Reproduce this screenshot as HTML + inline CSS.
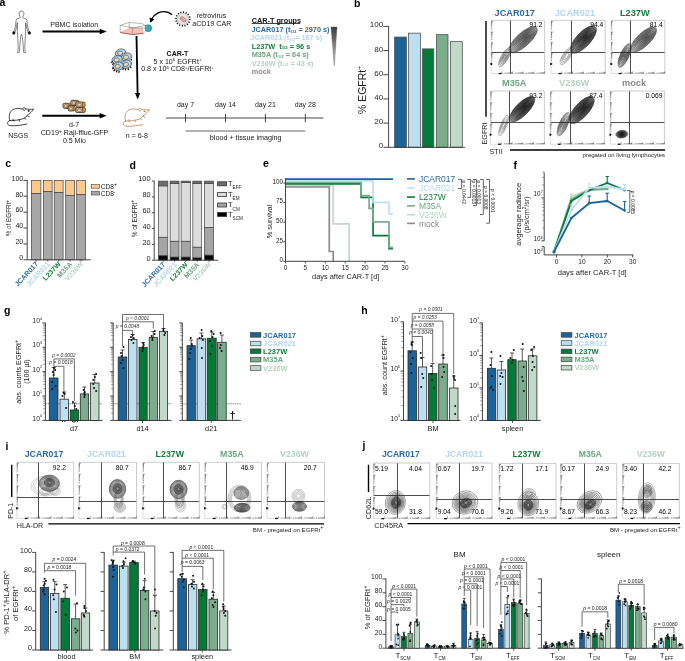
<!DOCTYPE html>
<html><head><meta charset="utf-8"><style>
html,body{margin:0;padding:0;background:#fff;}
svg{display:block;will-change:transform;font-family:"Liberation Sans", sans-serif;}
</style></head><body>
<svg width="685" height="661" viewBox="0 0 685 661">
<rect width="685" height="661" fill="#fff"/>
<text x="-0.40" y="5.90" font-size="10.5" font-weight="bold" fill="#000" text-anchor="start">a</text>
<path d="M21.50,11.00 L23.00,11.30 L23.90,12.80 L23.80,14.80 L23.10,16.40 L22.80,17.60 L24.30,18.40 L26.10,18.90 L26.90,20.20 L27.20,23.50 L27.80,27.50 L28.70,30.60 L29.80,32.00 L29.70,33.80 L28.50,33.60 L27.80,31.80 L26.80,28.50 L26.10,25.00 L25.70,22.80 L25.50,26.50 L25.60,31.50 L25.40,35.00 L25.10,41.00 L24.80,47.00 L25.00,51.00 L25.70,52.40 L24.10,52.80 L23.50,51.60 L23.30,47.00 L22.80,41.00 L22.10,35.50 L21.50,34.20 L20.90,35.50 L20.20,41.00 L19.70,47.00 L19.50,51.60 L18.90,52.80 L17.30,52.40 L18.00,51.00 L18.20,47.00 L17.90,41.00 L17.60,35.00 L17.40,31.50 L17.50,26.50 L17.30,22.80 L16.90,25.00 L16.20,28.50 L15.20,31.80 L14.50,33.60 L13.30,33.80 L13.20,32.00 L14.30,30.60 L15.20,27.50 L15.80,23.50 L16.10,20.20 L16.90,18.90 L18.70,18.40 L20.20,17.60 L19.90,16.40 L19.20,14.80 L19.10,12.80 L20.00,11.30 L21.50,11.00Z" fill="#fff" stroke="#222" stroke-width="0.55" stroke-linejoin="round"/>
<ellipse cx="29.40" cy="32.9" rx="1.45" ry="1.7" fill="#111"/>
<ellipse cx="13.80" cy="32.9" rx="1.45" ry="1.7" fill="#111"/>
<text x="74.20" y="26.50" font-size="7" font-weight="normal" fill="#1a1a1a" text-anchor="middle">PBMC isolation</text>
<line x1="42.50" y1="31.50" x2="100.70" y2="31.50" stroke="#000" stroke-width="2.0"/>
<path d="M106.7,31.5 L99.7,28.7 L99.7,34.3Z" fill="#000" stroke="none" stroke-width="0.8"/>
<path d="M120.2,25.3 L129.3,22.4 L142,23.6 L145.5,25.5 L145.5,31 L143.2,33.3 L132.6,34.5 L120.2,32.5 Z" fill="#fff" stroke="#777" stroke-width="0.5"/>
<path d="M120.2,31.8 L129.5,27.7 L143.3,28.0 L143.3,33.3 L132.6,34.5 L120.2,32.5 Z" fill="#f5c2ba" stroke="none" stroke-width="0.8"/>
<path d="M129.3,22.4 L129.3,27.7 M132.6,27.9 L132.6,34.5 M129.5,27.7 L143.3,27.9 M120.2,25.3 L132.6,27.9 L145.5,25.5" fill="none" stroke="#666" stroke-width="0.45"/>
<path d="M120.2,32.5 L132.6,34.5 L143.3,33.3" fill="none" stroke="#b5473c" stroke-width="0.8"/>
<ellipse cx="148.3" cy="28.2" rx="3.3" ry="3.5" fill="#3db6c4" stroke="#1f6f7a" stroke-width="0.6"/>
<ellipse cx="149.6" cy="28.4" rx="1.2" ry="2.4" fill="none" stroke="#1f6f7a" stroke-width="0.4"/>
<path d="M172,14.8 C166,9.5 156,11 151.5,19.5" fill="none" stroke="#000" stroke-width="1.3"/>
<path d="M150.2,22.8 L149.6,17.6 L154.4,19.6 Z" fill="#000" stroke="none" stroke-width="0.8"/>
<circle cx="182.90" cy="19.00" r="6.90" fill="none" stroke="#111" stroke-width="1.7" stroke-dasharray="1.1 1.6"/>
<circle cx="182.90" cy="19.00" r="5.60" fill="#e6e6e6" stroke="#888" stroke-width="0.4"/>
<ellipse cx="183.2" cy="19.3" rx="3.3" ry="1.9" fill="#f3d0d0" stroke="#a33" stroke-width="0.6" transform="rotate(35 183.2 19.3)"/>
<path d="M181.3,18.2 C182.2,19.8 183.4,18.6 184.6,20.6" fill="none" stroke="#a33" stroke-width="0.6"/>
<text x="211.50" y="17.80" font-size="7.1" font-weight="normal" fill="#1a1a1a" text-anchor="middle">retrovirus</text>
<text x="211.80" y="25.50" font-size="7.1" font-weight="normal" fill="#1a1a1a" text-anchor="middle">aCD19 CAR</text>
<line x1="136.50" y1="36.00" x2="137.60" y2="93.50" stroke="#000" stroke-width="1.8"/>
<path d="M137.7,99.5 L135.0,93.0 L140.2,93.0 Z" fill="#000" stroke="none" stroke-width="0.8"/>
<ellipse cx="120.6" cy="53.0" rx="5.3" ry="4.0" fill="#bcdcf2" stroke="#15232e" stroke-width="0.55" transform="rotate(-15 120.6 53.0)"/>
<ellipse cx="121.19999999999999" cy="52.6" rx="4.0" ry="2.9" fill="none" stroke="#6aa6d6" stroke-width="0.6" transform="rotate(-15 120.6 53.0)"/>
<ellipse cx="120.0" cy="53.1" rx="2.7" ry="2.0" fill="#f1d6ac" stroke="#2a2015" stroke-width="0.45" transform="rotate(-15 120.6 53.0)"/>
<ellipse cx="126.6" cy="57.0" rx="5.3" ry="4.0" fill="#bcdcf2" stroke="#15232e" stroke-width="0.55" transform="rotate(-15 126.6 57.0)"/>
<ellipse cx="127.19999999999999" cy="56.6" rx="4.0" ry="2.9" fill="none" stroke="#6aa6d6" stroke-width="0.6" transform="rotate(-15 126.6 57.0)"/>
<ellipse cx="126.0" cy="57.1" rx="2.7" ry="2.0" fill="#f1d6ac" stroke="#2a2015" stroke-width="0.45" transform="rotate(-15 126.6 57.0)"/>
<ellipse cx="117.2" cy="59.6" rx="5.3" ry="4.0" fill="#bcdcf2" stroke="#15232e" stroke-width="0.55" transform="rotate(-15 117.2 59.6)"/>
<ellipse cx="117.8" cy="59.2" rx="4.0" ry="2.9" fill="none" stroke="#6aa6d6" stroke-width="0.6" transform="rotate(-15 117.2 59.6)"/>
<ellipse cx="116.60000000000001" cy="59.7" rx="2.7" ry="2.0" fill="#f1d6ac" stroke="#2a2015" stroke-width="0.45" transform="rotate(-15 117.2 59.6)"/>
<ellipse cx="126.4" cy="64.2" rx="5.3" ry="4.0" fill="#bcdcf2" stroke="#15232e" stroke-width="0.55" transform="rotate(-15 126.4 64.2)"/>
<ellipse cx="127.0" cy="63.800000000000004" rx="4.0" ry="2.9" fill="none" stroke="#6aa6d6" stroke-width="0.6" transform="rotate(-15 126.4 64.2)"/>
<ellipse cx="125.80000000000001" cy="64.3" rx="2.7" ry="2.0" fill="#f1d6ac" stroke="#2a2015" stroke-width="0.45" transform="rotate(-15 126.4 64.2)"/>
<ellipse cx="118.2" cy="66.2" rx="5.3" ry="4.0" fill="#bcdcf2" stroke="#15232e" stroke-width="0.55" transform="rotate(-15 118.2 66.2)"/>
<ellipse cx="118.8" cy="65.8" rx="4.0" ry="2.9" fill="none" stroke="#6aa6d6" stroke-width="0.6" transform="rotate(-15 118.2 66.2)"/>
<ellipse cx="117.60000000000001" cy="66.3" rx="2.7" ry="2.0" fill="#f1d6ac" stroke="#2a2015" stroke-width="0.45" transform="rotate(-15 118.2 66.2)"/>
<line x1="112.50" y1="61.50" x2="111.24" y2="62.76" stroke="#2a0303" stroke-width="1.2"/>
<line x1="113.80" y1="63.50" x2="112.12" y2="64.62" stroke="#2a0303" stroke-width="1.2"/>
<line x1="113.50" y1="67.50" x2="112.24" y2="68.76" stroke="#2a0303" stroke-width="1.2"/>
<line x1="114.80" y1="69.60" x2="113.68" y2="71.28" stroke="#2a0303" stroke-width="1.2"/>
<line x1="117.00" y1="70.30" x2="116.44" y2="72.40" stroke="#2a0303" stroke-width="1.2"/>
<line x1="119.20" y1="70.60" x2="118.92" y2="72.84" stroke="#2a0303" stroke-width="1.2"/>
<line x1="123.20" y1="68.00" x2="122.92" y2="69.96" stroke="#2a0303" stroke-width="1.2"/>
<line x1="125.40" y1="68.60" x2="125.40" y2="70.56" stroke="#2a0303" stroke-width="1.2"/>
<line x1="128.00" y1="68.30" x2="128.56" y2="70.12" stroke="#2a0303" stroke-width="1.2"/>
<line x1="130.20" y1="66.60" x2="131.32" y2="68.00" stroke="#2a0303" stroke-width="1.2"/>
<line x1="130.80" y1="59.20" x2="131.92" y2="60.32" stroke="#2a0303" stroke-width="1.2"/>
<text x="177.50" y="56.40" font-size="7" font-weight="bold" fill="#111" text-anchor="middle">CAR-T</text>
<text x="177.50" y="64.10" font-size="7.1" font-weight="normal" fill="#1a1a1a" text-anchor="middle">5 x 10<tspan font-size="4.4" dy="-2.8">6</tspan><tspan dy="2.8"> EGFRt</tspan><tspan font-size="4.4" dy="-2.8">+</tspan></text>
<text x="177.50" y="71.40" font-size="7.1" font-weight="normal" fill="#1a1a1a" text-anchor="middle">0.8 x 10<tspan font-size="4.4" dy="-2.8">6</tspan><tspan dy="2.8"> CD8</tspan><tspan font-size="4.4" dy="-2.8">+</tspan><tspan dy="2.8">/EGFRt</tspan><tspan font-size="4.4" dy="-2.8">+</tspan></text>
<text x="251.70" y="22.50" font-size="7.3" font-weight="bold" fill="#111" text-anchor="start">CAR-T groups</text>
<line x1="251.70" y1="23.50" x2="300.20" y2="23.50" stroke="#111" stroke-width="0.8"/>
<text x="251.50" y="31.90" font-size="7.3" font-weight="bold" fill="#2a6aa3" text-anchor="start">JCAR017 (t<tspan font-size="4.3" dy="0.8">1/2</tspan><tspan dy="-0.8"> = 2970 s)</tspan></text>
<text x="250.30" y="40.20" font-size="7.3" font-weight="bold" fill="#b3d6ef" text-anchor="start">JCAR021 (t<tspan font-size="4.3" dy="0.8">1/2</tspan><tspan dy="-0.8">= 167 s)</tspan></text>
<text x="251.70" y="48.60" font-size="7.3" font-weight="bold" fill="#107d3b" text-anchor="start">L237W&#160; t<tspan font-size="4.3" dy="0.8">1/2</tspan><tspan dy="-0.8"> = 96 s</tspan></text>
<text x="251.70" y="57.20" font-size="7.3" font-weight="bold" fill="#6aa67f" text-anchor="start">M35A (t<tspan font-size="4.3" dy="0.8">1/2</tspan><tspan dy="-0.8"> = 64 s)</tspan></text>
<text x="251.70" y="65.50" font-size="7.3" font-weight="bold" fill="#b5d3c1" text-anchor="start">V236W (t<tspan font-size="4.3" dy="0.8">1/2</tspan><tspan dy="-0.8"> = 43 s)</tspan></text>
<text x="251.70" y="73.80" font-size="7.3" font-weight="bold" fill="#8a8a8a" text-anchor="start">mock</text>
<defs><linearGradient id="tri" x1="0" y1="0" x2="0" y2="1"><stop offset="0" stop-color="#3a3a3a"/><stop offset="1" stop-color="#d0d0d0"/></linearGradient></defs>
<path d="M331,27 L337,27 L334.3,65.5 Z" fill="url(#tri)" stroke="#555" stroke-width="0.4"/>
<g transform="translate(6.8,106) scale(1.0)" fill="none" stroke="#222" stroke-width="0.85" stroke-linejoin="round" stroke-linecap="round">
<path d="M3,14.5 C1.8,11 2.2,6 6,3.6 C9,2 13,2.2 15.5,3.2 C15.8,1.6 18.2,1.2 19,2.8 C21.5,3.3 24,3.6 26.8,3.2 C25.6,5.4 23.6,7 21.6,8.4 C20,10 18.6,11.4 17,12.4 C14,13.8 9,14.6 3,14.5 Z"/>
<path d="M3,14.5 C0.2,15.5 -0.4,18.8 3,19.5 C8,20.4 14,19.1 20,18.1"/>
<path d="M6.2,13.2 L7,15.2 M12,13.6 L13,15.3 M17.5,12 L19.2,13.4 M20.6,9.8 L22.4,10.6"/>
<path d="M16.2,3.6 C16.8,5 18.2,5 18.6,3.6"/>
<circle cx="21.8" cy="4.9" r="0.55" fill="#222"/>
</g>
<rect x="63.10" y="103.30" width="7.20" height="5.00" rx="1.6" fill="#d9964f" stroke="#2b1a0c" stroke-width="0.6"/>
<rect x="63.10" y="103.30" width="5.18" height="5.00" rx="1.4" fill="#cfae8a" stroke="#2b1a0c" stroke-width="0.55"/>
<ellipse cx="65.84" cy="106.00" rx="1.58" ry="1.3" fill="#ecd8bd" stroke="#3a2812" stroke-width="0.4"/>
<rect x="70.90" y="100.40" width="8.20" height="5.00" rx="1.6" fill="#d9964f" stroke="#2b1a0c" stroke-width="0.6"/>
<rect x="70.90" y="100.40" width="5.90" height="5.00" rx="1.4" fill="#cfae8a" stroke="#2b1a0c" stroke-width="0.55"/>
<ellipse cx="74.02" cy="103.10" rx="1.80" ry="1.3" fill="#ecd8bd" stroke="#3a2812" stroke-width="0.4"/>
<rect x="76.00" y="102.10" width="9.20" height="5.00" rx="1.6" fill="#d9964f" stroke="#2b1a0c" stroke-width="0.6"/>
<rect x="76.00" y="102.10" width="6.62" height="5.00" rx="1.4" fill="#cfae8a" stroke="#2b1a0c" stroke-width="0.55"/>
<ellipse cx="79.50" cy="104.80" rx="2.02" ry="1.3" fill="#ecd8bd" stroke="#3a2812" stroke-width="0.4"/>
<rect x="68.30" y="105.90" width="7.00" height="5.00" rx="1.6" fill="#d9964f" stroke="#2b1a0c" stroke-width="0.6"/>
<rect x="68.30" y="105.90" width="5.04" height="5.00" rx="1.4" fill="#cfae8a" stroke="#2b1a0c" stroke-width="0.55"/>
<ellipse cx="70.96" cy="108.60" rx="1.54" ry="1.3" fill="#ecd8bd" stroke="#3a2812" stroke-width="0.4"/>
<rect x="75.80" y="107.50" width="9.60" height="5.00" rx="1.6" fill="#d9964f" stroke="#2b1a0c" stroke-width="0.6"/>
<rect x="75.80" y="107.50" width="6.91" height="5.00" rx="1.4" fill="#cfae8a" stroke="#2b1a0c" stroke-width="0.55"/>
<ellipse cx="79.45" cy="110.20" rx="2.11" ry="1.3" fill="#ecd8bd" stroke="#3a2812" stroke-width="0.4"/>
<line x1="42.20" y1="115.80" x2="100.70" y2="115.80" stroke="#000" stroke-width="2.0"/>
<path d="M106.7,115.8 L99.7,113.0 L99.7,118.6Z" fill="#000" stroke="none" stroke-width="0.8"/>
<text x="74.00" y="127.30" font-size="7" font-weight="normal" fill="#1a1a1a" text-anchor="middle">d-7</text>
<text x="74.50" y="135.40" font-size="7.1" font-weight="normal" fill="#1a1a1a" text-anchor="middle">CD19<tspan font-size="5.2" dy="-2.6">+</tspan><tspan dy="2.6"> Raji-ffluc-GFP</tspan></text>
<text x="74.40" y="142.90" font-size="7" font-weight="normal" fill="#1a1a1a" text-anchor="middle">0.5 Mio</text>
<text x="18.20" y="138.40" font-size="7" font-weight="normal" fill="#1a1a1a" text-anchor="middle">NSGS</text>
<g transform="translate(122.6,106.5) scale(1.0)" fill="none" stroke="#b8885a" stroke-width="0.85" stroke-linejoin="round" stroke-linecap="round">
<path d="M3,14.5 C1.8,11 2.2,6 6,3.6 C9,2 13,2.2 15.5,3.2 C15.8,1.6 18.2,1.2 19,2.8 C21.5,3.3 24,3.6 26.8,3.2 C25.6,5.4 23.6,7 21.6,8.4 C20,10 18.6,11.4 17,12.4 C14,13.8 9,14.6 3,14.5 Z"/>
<path d="M3,14.5 C0.2,15.5 -0.4,18.8 3,19.5 C8,20.4 14,19.1 20,18.1"/>
<path d="M6.2,13.2 L7,15.2 M12,13.6 L13,15.3 M17.5,12 L19.2,13.4 M20.6,9.8 L22.4,10.6"/>
<path d="M16.2,3.6 C16.8,5 18.2,5 18.6,3.6"/>
<circle cx="21.8" cy="4.9" r="0.55" fill="#b8885a"/>
</g>
<text x="136.80" y="138.40" font-size="7" font-weight="normal" fill="#1a1a1a" text-anchor="middle">n = 6-8</text>
<line x1="166.00" y1="118.00" x2="323.40" y2="118.00" stroke="#333" stroke-width="0.9"/>
<line x1="185.50" y1="113.90" x2="185.50" y2="122.20" stroke="#333" stroke-width="0.9"/>
<text x="185.50" y="107.00" font-size="7" font-weight="normal" fill="#1a1a1a" text-anchor="middle">day 7</text>
<line x1="225.50" y1="113.90" x2="225.50" y2="122.20" stroke="#333" stroke-width="0.9"/>
<text x="225.50" y="107.00" font-size="7" font-weight="normal" fill="#1a1a1a" text-anchor="middle">day 14</text>
<line x1="265.40" y1="113.90" x2="265.40" y2="122.20" stroke="#333" stroke-width="0.9"/>
<text x="265.40" y="107.00" font-size="7" font-weight="normal" fill="#1a1a1a" text-anchor="middle">day 21</text>
<line x1="305.30" y1="113.90" x2="305.30" y2="122.20" stroke="#333" stroke-width="0.9"/>
<text x="305.30" y="107.00" font-size="7" font-weight="normal" fill="#1a1a1a" text-anchor="middle">day 28</text>
<line x1="185.50" y1="131.00" x2="305.30" y2="131.00" stroke="#555" stroke-width="0.9"/>
<text x="245.70" y="140.40" font-size="7.2" font-weight="normal" fill="#1a1a1a" text-anchor="middle">blood + tissue imaging</text>
<text x="354.00" y="7.00" font-size="10.5" font-weight="bold" fill="#000" text-anchor="start">b</text>
<text x="365.50" y="90.00" font-size="10.5" font-weight="normal" fill="#1a1a1a" text-anchor="middle" transform="rotate(-90 365.5 90)">% EGFRt<tspan font-size="6.5" dy="-4">+</tspan></text>
<line x1="383.40" y1="147.30" x2="388.60" y2="147.30" stroke="#333" stroke-width="0.9"/>
<text x="383.10" y="148.30" font-size="8.0" font-weight="normal" fill="#1e1e1e" text-anchor="end">0</text>
<line x1="383.40" y1="123.12" x2="388.60" y2="123.12" stroke="#333" stroke-width="0.9"/>
<text x="383.10" y="124.12" font-size="8.0" font-weight="normal" fill="#1e1e1e" text-anchor="end">20</text>
<line x1="383.40" y1="98.94" x2="388.60" y2="98.94" stroke="#333" stroke-width="0.9"/>
<text x="383.10" y="99.94" font-size="8.0" font-weight="normal" fill="#1e1e1e" text-anchor="end">40</text>
<line x1="383.40" y1="74.76" x2="388.60" y2="74.76" stroke="#333" stroke-width="0.9"/>
<text x="383.10" y="75.76" font-size="8.0" font-weight="normal" fill="#1e1e1e" text-anchor="end">60</text>
<line x1="383.40" y1="50.58" x2="388.60" y2="50.58" stroke="#333" stroke-width="0.9"/>
<text x="383.10" y="51.58" font-size="8.0" font-weight="normal" fill="#1e1e1e" text-anchor="end">80</text>
<line x1="383.40" y1="26.40" x2="388.60" y2="26.40" stroke="#333" stroke-width="0.9"/>
<text x="383.10" y="27.40" font-size="8.0" font-weight="normal" fill="#1e1e1e" text-anchor="end">100</text>
<rect x="394.60" y="37.04" width="11.80" height="110.26" fill="#1c6399" stroke="#555" stroke-width="0.8"/>
<rect x="408.40" y="33.17" width="12.00" height="114.13" fill="#bddff2" stroke="#555" stroke-width="0.8"/>
<rect x="422.30" y="48.89" width="11.50" height="98.41" fill="#037a37" stroke="#555" stroke-width="0.8"/>
<rect x="436.50" y="34.62" width="11.50" height="112.68" fill="#79ad8b" stroke="#555" stroke-width="0.8"/>
<rect x="450.50" y="41.63" width="11.80" height="105.67" fill="#c0d9c9" stroke="#555" stroke-width="0.8"/>
<line x1="388.60" y1="25.90" x2="388.60" y2="147.30" stroke="#333" stroke-width="0.9"/>
<line x1="388.60" y1="147.30" x2="465.00" y2="147.30" stroke="#333" stroke-width="0.9"/>
<text x="514.70" y="15.80" font-size="9.2" font-weight="bold" fill="#2a6aa3" text-anchor="middle">JCAR017</text>
<rect x="491.20" y="20.40" width="53.40" height="53.10" fill="#fff" stroke="none" stroke-width="0.7"/>
<text x="574.90" y="15.80" font-size="9.2" font-weight="bold" fill="#b3d6ef" text-anchor="middle">JCAR021</text>
<rect x="551.00" y="20.40" width="54.20" height="53.10" fill="#fff" stroke="none" stroke-width="0.7"/>
<text x="634.75" y="15.80" font-size="9.2" font-weight="bold" fill="#107d3b" text-anchor="middle">L237W</text>
<rect x="611.10" y="20.40" width="53.70" height="53.10" fill="#fff" stroke="none" stroke-width="0.7"/>
<text x="514.25" y="85.60" font-size="9.2" font-weight="bold" fill="#6aa67f" text-anchor="middle">M35A</text>
<rect x="490.50" y="91.00" width="53.90" height="53.20" fill="#fff" stroke="none" stroke-width="0.7"/>
<text x="574.15" y="85.60" font-size="9.2" font-weight="bold" fill="#b5d3c1" text-anchor="middle">V236W</text>
<rect x="550.30" y="91.00" width="54.10" height="53.20" fill="#fff" stroke="none" stroke-width="0.7"/>
<text x="634.10" y="85.60" font-size="9.2" font-weight="bold" fill="#8a8a8a" text-anchor="middle">mock</text>
<rect x="610.20" y="91.00" width="54.20" height="53.20" fill="#fff" stroke="none" stroke-width="0.7"/>
<ellipse cx="504.80" cy="57.10" rx="11.00" ry="3.60" transform="rotate(-60 504.80 57.10)" fill="#000" fill-opacity="0.03" stroke="#444" stroke-width="0.45" stroke-opacity="0.85"/>
<ellipse cx="504.80" cy="57.10" rx="9.24" ry="3.02" transform="rotate(-60 504.80 57.10)" fill="#000" fill-opacity="0.03" stroke="#444" stroke-width="0.45" stroke-opacity="0.85"/>
<ellipse cx="504.80" cy="57.10" rx="7.48" ry="2.45" transform="rotate(-60 504.80 57.10)" fill="#000" fill-opacity="0.03" stroke="#444" stroke-width="0.45" stroke-opacity="0.85"/>
<ellipse cx="504.80" cy="57.10" rx="5.72" ry="1.87" transform="rotate(-60 504.80 57.10)" fill="#000" fill-opacity="0.03" stroke="#444" stroke-width="0.45" stroke-opacity="0.85"/>
<ellipse cx="504.80" cy="57.10" rx="3.96" ry="1.30" transform="rotate(-60 504.80 57.10)" fill="#000" fill-opacity="0.03" stroke="#444" stroke-width="0.45" stroke-opacity="0.85"/>
<ellipse cx="504.80" cy="57.10" rx="2.20" ry="0.72" transform="rotate(-60 504.80 57.10)" fill="#000" fill-opacity="0.03" stroke="#444" stroke-width="0.45" stroke-opacity="0.85"/>
<ellipse cx="523.10" cy="39.70" rx="18.00" ry="6.80" transform="rotate(-42 523.10 39.70)" fill="#000" fill-opacity="0.05" stroke="#222" stroke-width="0.45" stroke-opacity="0.85"/>
<ellipse cx="523.29" cy="39.53" rx="17.24" ry="6.51" transform="rotate(-42 523.29 39.53)" fill="#000" fill-opacity="0.05" stroke="#222" stroke-width="0.45" stroke-opacity="0.85"/>
<ellipse cx="523.48" cy="39.36" rx="16.25" ry="6.14" transform="rotate(-42 523.48 39.36)" fill="#000" fill-opacity="0.05" stroke="#222" stroke-width="0.45" stroke-opacity="0.85"/>
<ellipse cx="523.68" cy="39.19" rx="15.15" ry="5.72" transform="rotate(-42 523.68 39.19)" fill="#000" fill-opacity="0.05" stroke="#222" stroke-width="0.45" stroke-opacity="0.85"/>
<ellipse cx="523.87" cy="39.02" rx="13.97" ry="5.28" transform="rotate(-42 523.87 39.02)" fill="#000" fill-opacity="0.05" stroke="#222" stroke-width="0.45" stroke-opacity="0.85"/>
<ellipse cx="524.06" cy="38.85" rx="12.74" ry="4.81" transform="rotate(-42 524.06 38.85)" fill="#000" fill-opacity="0.05" stroke="#222" stroke-width="0.45" stroke-opacity="0.85"/>
<ellipse cx="524.25" cy="38.68" rx="11.45" ry="4.33" transform="rotate(-42 524.25 38.68)" fill="#000" fill-opacity="0.05" stroke="#222" stroke-width="0.45" stroke-opacity="0.85"/>
<ellipse cx="524.45" cy="38.52" rx="10.12" ry="3.82" transform="rotate(-42 524.45 38.52)" fill="#000" fill-opacity="0.05" stroke="#222" stroke-width="0.45" stroke-opacity="0.85"/>
<ellipse cx="524.64" cy="38.35" rx="8.75" ry="3.31" transform="rotate(-42 524.64 38.35)" fill="#000" fill-opacity="0.05" stroke="#222" stroke-width="0.45" stroke-opacity="0.85"/>
<ellipse cx="524.83" cy="38.18" rx="7.35" ry="2.78" transform="rotate(-42 524.83 38.18)" fill="#000" fill-opacity="0.05" stroke="#222" stroke-width="0.45" stroke-opacity="0.85"/>
<ellipse cx="525.02" cy="38.01" rx="5.91" ry="2.23" transform="rotate(-42 525.02 38.01)" fill="#000" fill-opacity="0.05" stroke="#222" stroke-width="0.45" stroke-opacity="0.85"/>
<ellipse cx="525.22" cy="37.84" rx="4.45" ry="1.68" transform="rotate(-42 525.22 37.84)" fill="#000" fill-opacity="0.05" stroke="#222" stroke-width="0.45" stroke-opacity="0.85"/>
<ellipse cx="525.41" cy="37.67" rx="2.96" ry="1.12" transform="rotate(-42 525.41 37.67)" fill="#000" fill-opacity="0.05" stroke="#222" stroke-width="0.45" stroke-opacity="0.85"/>
<ellipse cx="525.60" cy="37.50" rx="1.44" ry="0.54" transform="rotate(-42 525.60 37.50)" fill="#000" fill-opacity="0.05" stroke="#222" stroke-width="0.45" stroke-opacity="0.85"/>
<ellipse cx="566.70" cy="55.80" rx="10.50" ry="3.80" transform="rotate(-56 566.70 55.80)" fill="none" stroke="#555" stroke-width="0.42" stroke-opacity="0.85"/>
<ellipse cx="566.70" cy="55.80" rx="8.66" ry="3.13" transform="rotate(-56 566.70 55.80)" fill="none" stroke="#555" stroke-width="0.42" stroke-opacity="0.85"/>
<ellipse cx="566.70" cy="55.80" rx="6.83" ry="2.47" transform="rotate(-56 566.70 55.80)" fill="none" stroke="#555" stroke-width="0.42" stroke-opacity="0.85"/>
<ellipse cx="566.70" cy="55.80" rx="4.99" ry="1.81" transform="rotate(-56 566.70 55.80)" fill="none" stroke="#555" stroke-width="0.42" stroke-opacity="0.85"/>
<ellipse cx="566.70" cy="55.80" rx="3.15" ry="1.14" transform="rotate(-56 566.70 55.80)" fill="none" stroke="#555" stroke-width="0.42" stroke-opacity="0.85"/>
<ellipse cx="583.40" cy="39.50" rx="17.50" ry="7.20" transform="rotate(-47 583.40 39.50)" fill="#000" fill-opacity="0.08" stroke="#111" stroke-width="0.5" stroke-opacity="0.9"/>
<ellipse cx="583.54" cy="39.36" rx="16.82" ry="6.92" transform="rotate(-47 583.54 39.36)" fill="#000" fill-opacity="0.08" stroke="#111" stroke-width="0.5" stroke-opacity="0.9"/>
<ellipse cx="583.69" cy="39.21" rx="15.94" ry="6.56" transform="rotate(-47 583.69 39.21)" fill="#000" fill-opacity="0.08" stroke="#111" stroke-width="0.5" stroke-opacity="0.9"/>
<ellipse cx="583.83" cy="39.07" rx="14.96" ry="6.16" transform="rotate(-47 583.83 39.07)" fill="#000" fill-opacity="0.08" stroke="#111" stroke-width="0.5" stroke-opacity="0.9"/>
<ellipse cx="583.97" cy="38.93" rx="13.92" ry="5.73" transform="rotate(-47 583.97 38.93)" fill="#000" fill-opacity="0.08" stroke="#111" stroke-width="0.5" stroke-opacity="0.9"/>
<ellipse cx="584.11" cy="38.79" rx="12.82" ry="5.27" transform="rotate(-47 584.11 38.79)" fill="#000" fill-opacity="0.08" stroke="#111" stroke-width="0.5" stroke-opacity="0.9"/>
<ellipse cx="584.26" cy="38.64" rx="11.68" ry="4.80" transform="rotate(-47 584.26 38.64)" fill="#000" fill-opacity="0.08" stroke="#111" stroke-width="0.5" stroke-opacity="0.9"/>
<ellipse cx="584.40" cy="38.50" rx="10.49" ry="4.32" transform="rotate(-47 584.40 38.50)" fill="#000" fill-opacity="0.08" stroke="#111" stroke-width="0.5" stroke-opacity="0.9"/>
<ellipse cx="584.54" cy="38.36" rx="9.27" ry="3.82" transform="rotate(-47 584.54 38.36)" fill="#000" fill-opacity="0.08" stroke="#111" stroke-width="0.5" stroke-opacity="0.9"/>
<ellipse cx="584.69" cy="38.21" rx="8.03" ry="3.30" transform="rotate(-47 584.69 38.21)" fill="#000" fill-opacity="0.08" stroke="#111" stroke-width="0.5" stroke-opacity="0.9"/>
<ellipse cx="584.83" cy="38.07" rx="6.75" ry="2.78" transform="rotate(-47 584.83 38.07)" fill="#000" fill-opacity="0.08" stroke="#111" stroke-width="0.5" stroke-opacity="0.9"/>
<ellipse cx="584.97" cy="37.93" rx="5.45" ry="2.24" transform="rotate(-47 584.97 37.93)" fill="#000" fill-opacity="0.08" stroke="#111" stroke-width="0.5" stroke-opacity="0.9"/>
<ellipse cx="585.11" cy="37.79" rx="4.12" ry="1.69" transform="rotate(-47 585.11 37.79)" fill="#000" fill-opacity="0.08" stroke="#111" stroke-width="0.5" stroke-opacity="0.9"/>
<ellipse cx="585.26" cy="37.64" rx="2.77" ry="1.14" transform="rotate(-47 585.26 37.64)" fill="#000" fill-opacity="0.08" stroke="#111" stroke-width="0.5" stroke-opacity="0.9"/>
<ellipse cx="585.40" cy="37.50" rx="1.40" ry="0.58" transform="rotate(-47 585.40 37.50)" fill="#000" fill-opacity="0.08" stroke="#111" stroke-width="0.5" stroke-opacity="0.9"/>
<ellipse cx="624.60" cy="55.50" rx="13.00" ry="4.40" transform="rotate(-66 624.60 55.50)" fill="#000" fill-opacity="0.05" stroke="#222" stroke-width="0.45" stroke-opacity="0.85"/>
<ellipse cx="624.60" cy="55.50" rx="12.04" ry="4.07" transform="rotate(-66 624.60 55.50)" fill="#000" fill-opacity="0.05" stroke="#222" stroke-width="0.45" stroke-opacity="0.85"/>
<ellipse cx="624.60" cy="55.50" rx="10.78" ry="3.65" transform="rotate(-66 624.60 55.50)" fill="#000" fill-opacity="0.05" stroke="#222" stroke-width="0.45" stroke-opacity="0.85"/>
<ellipse cx="624.60" cy="55.50" rx="9.39" ry="3.18" transform="rotate(-66 624.60 55.50)" fill="#000" fill-opacity="0.05" stroke="#222" stroke-width="0.45" stroke-opacity="0.85"/>
<ellipse cx="624.60" cy="55.50" rx="7.91" ry="2.68" transform="rotate(-66 624.60 55.50)" fill="#000" fill-opacity="0.05" stroke="#222" stroke-width="0.45" stroke-opacity="0.85"/>
<ellipse cx="624.60" cy="55.50" rx="6.34" ry="2.15" transform="rotate(-66 624.60 55.50)" fill="#000" fill-opacity="0.05" stroke="#222" stroke-width="0.45" stroke-opacity="0.85"/>
<ellipse cx="624.60" cy="55.50" rx="4.72" ry="1.60" transform="rotate(-66 624.60 55.50)" fill="#000" fill-opacity="0.05" stroke="#222" stroke-width="0.45" stroke-opacity="0.85"/>
<ellipse cx="624.60" cy="55.50" rx="3.03" ry="1.03" transform="rotate(-66 624.60 55.50)" fill="#000" fill-opacity="0.05" stroke="#222" stroke-width="0.45" stroke-opacity="0.85"/>
<ellipse cx="624.60" cy="55.50" rx="1.30" ry="0.44" transform="rotate(-66 624.60 55.50)" fill="#000" fill-opacity="0.05" stroke="#222" stroke-width="0.45" stroke-opacity="0.85"/>
<ellipse cx="643.50" cy="39.60" rx="17.00" ry="6.60" transform="rotate(-44 643.50 39.60)" fill="#000" fill-opacity="0.05" stroke="#222" stroke-width="0.45" stroke-opacity="0.85"/>
<ellipse cx="643.69" cy="39.45" rx="16.28" ry="6.32" transform="rotate(-44 643.69 39.45)" fill="#000" fill-opacity="0.05" stroke="#222" stroke-width="0.45" stroke-opacity="0.85"/>
<ellipse cx="643.88" cy="39.29" rx="15.35" ry="5.96" transform="rotate(-44 643.88 39.29)" fill="#000" fill-opacity="0.05" stroke="#222" stroke-width="0.45" stroke-opacity="0.85"/>
<ellipse cx="644.08" cy="39.14" rx="14.31" ry="5.55" transform="rotate(-44 644.08 39.14)" fill="#000" fill-opacity="0.05" stroke="#222" stroke-width="0.45" stroke-opacity="0.85"/>
<ellipse cx="644.27" cy="38.98" rx="13.20" ry="5.12" transform="rotate(-44 644.27 38.98)" fill="#000" fill-opacity="0.05" stroke="#222" stroke-width="0.45" stroke-opacity="0.85"/>
<ellipse cx="644.46" cy="38.83" rx="12.03" ry="4.67" transform="rotate(-44 644.46 38.83)" fill="#000" fill-opacity="0.05" stroke="#222" stroke-width="0.45" stroke-opacity="0.85"/>
<ellipse cx="644.65" cy="38.68" rx="10.82" ry="4.20" transform="rotate(-44 644.65 38.68)" fill="#000" fill-opacity="0.05" stroke="#222" stroke-width="0.45" stroke-opacity="0.85"/>
<ellipse cx="644.85" cy="38.52" rx="9.56" ry="3.71" transform="rotate(-44 644.85 38.52)" fill="#000" fill-opacity="0.05" stroke="#222" stroke-width="0.45" stroke-opacity="0.85"/>
<ellipse cx="645.04" cy="38.37" rx="8.27" ry="3.21" transform="rotate(-44 645.04 38.37)" fill="#000" fill-opacity="0.05" stroke="#222" stroke-width="0.45" stroke-opacity="0.85"/>
<ellipse cx="645.23" cy="38.22" rx="6.94" ry="2.69" transform="rotate(-44 645.23 38.22)" fill="#000" fill-opacity="0.05" stroke="#222" stroke-width="0.45" stroke-opacity="0.85"/>
<ellipse cx="645.42" cy="38.06" rx="5.58" ry="2.17" transform="rotate(-44 645.42 38.06)" fill="#000" fill-opacity="0.05" stroke="#222" stroke-width="0.45" stroke-opacity="0.85"/>
<ellipse cx="645.62" cy="37.91" rx="4.20" ry="1.63" transform="rotate(-44 645.62 37.91)" fill="#000" fill-opacity="0.05" stroke="#222" stroke-width="0.45" stroke-opacity="0.85"/>
<ellipse cx="645.81" cy="37.75" rx="2.79" ry="1.08" transform="rotate(-44 645.81 37.75)" fill="#000" fill-opacity="0.05" stroke="#222" stroke-width="0.45" stroke-opacity="0.85"/>
<ellipse cx="646.00" cy="37.60" rx="1.36" ry="0.53" transform="rotate(-44 646.00 37.60)" fill="#000" fill-opacity="0.05" stroke="#222" stroke-width="0.45" stroke-opacity="0.85"/>
<ellipse cx="503.60" cy="125.50" rx="11.00" ry="3.00" transform="rotate(-68 503.60 125.50)" fill="none" stroke="#555" stroke-width="0.42" stroke-opacity="0.85"/>
<ellipse cx="503.60" cy="125.50" rx="9.07" ry="2.47" transform="rotate(-68 503.60 125.50)" fill="none" stroke="#555" stroke-width="0.42" stroke-opacity="0.85"/>
<ellipse cx="503.60" cy="125.50" rx="7.15" ry="1.95" transform="rotate(-68 503.60 125.50)" fill="none" stroke="#555" stroke-width="0.42" stroke-opacity="0.85"/>
<ellipse cx="503.60" cy="125.50" rx="5.23" ry="1.43" transform="rotate(-68 503.60 125.50)" fill="none" stroke="#555" stroke-width="0.42" stroke-opacity="0.85"/>
<ellipse cx="503.60" cy="125.50" rx="3.30" ry="0.90" transform="rotate(-68 503.60 125.50)" fill="none" stroke="#555" stroke-width="0.42" stroke-opacity="0.85"/>
<ellipse cx="522.00" cy="109.20" rx="16.80" ry="6.40" transform="rotate(-45 522.00 109.20)" fill="#000" fill-opacity="0.09" stroke="#111" stroke-width="0.5" stroke-opacity="0.9"/>
<ellipse cx="522.18" cy="109.02" rx="16.15" ry="6.15" transform="rotate(-45 522.18 109.02)" fill="#000" fill-opacity="0.09" stroke="#111" stroke-width="0.5" stroke-opacity="0.9"/>
<ellipse cx="522.36" cy="108.84" rx="15.30" ry="5.83" transform="rotate(-45 522.36 108.84)" fill="#000" fill-opacity="0.09" stroke="#111" stroke-width="0.5" stroke-opacity="0.9"/>
<ellipse cx="522.54" cy="108.66" rx="14.37" ry="5.47" transform="rotate(-45 522.54 108.66)" fill="#000" fill-opacity="0.09" stroke="#111" stroke-width="0.5" stroke-opacity="0.9"/>
<ellipse cx="522.71" cy="108.49" rx="13.36" ry="5.09" transform="rotate(-45 522.71 108.49)" fill="#000" fill-opacity="0.09" stroke="#111" stroke-width="0.5" stroke-opacity="0.9"/>
<ellipse cx="522.89" cy="108.31" rx="12.31" ry="4.69" transform="rotate(-45 522.89 108.31)" fill="#000" fill-opacity="0.09" stroke="#111" stroke-width="0.5" stroke-opacity="0.9"/>
<ellipse cx="523.07" cy="108.13" rx="11.21" ry="4.27" transform="rotate(-45 523.07 108.13)" fill="#000" fill-opacity="0.09" stroke="#111" stroke-width="0.5" stroke-opacity="0.9"/>
<ellipse cx="523.25" cy="107.95" rx="10.07" ry="3.84" transform="rotate(-45 523.25 107.95)" fill="#000" fill-opacity="0.09" stroke="#111" stroke-width="0.5" stroke-opacity="0.9"/>
<ellipse cx="523.43" cy="107.77" rx="8.90" ry="3.39" transform="rotate(-45 523.43 107.77)" fill="#000" fill-opacity="0.09" stroke="#111" stroke-width="0.5" stroke-opacity="0.9"/>
<ellipse cx="523.61" cy="107.59" rx="7.70" ry="2.93" transform="rotate(-45 523.61 107.59)" fill="#000" fill-opacity="0.09" stroke="#111" stroke-width="0.5" stroke-opacity="0.9"/>
<ellipse cx="523.79" cy="107.41" rx="6.48" ry="2.47" transform="rotate(-45 523.79 107.41)" fill="#000" fill-opacity="0.09" stroke="#111" stroke-width="0.5" stroke-opacity="0.9"/>
<ellipse cx="523.96" cy="107.24" rx="5.23" ry="1.99" transform="rotate(-45 523.96 107.24)" fill="#000" fill-opacity="0.09" stroke="#111" stroke-width="0.5" stroke-opacity="0.9"/>
<ellipse cx="524.14" cy="107.06" rx="3.95" ry="1.51" transform="rotate(-45 524.14 107.06)" fill="#000" fill-opacity="0.09" stroke="#111" stroke-width="0.5" stroke-opacity="0.9"/>
<ellipse cx="524.32" cy="106.88" rx="2.66" ry="1.01" transform="rotate(-45 524.32 106.88)" fill="#000" fill-opacity="0.09" stroke="#111" stroke-width="0.5" stroke-opacity="0.9"/>
<ellipse cx="524.50" cy="106.70" rx="1.34" ry="0.51" transform="rotate(-45 524.50 106.70)" fill="#000" fill-opacity="0.09" stroke="#111" stroke-width="0.5" stroke-opacity="0.9"/>
<ellipse cx="563.50" cy="124.10" rx="12.80" ry="4.20" transform="rotate(-66 563.50 124.10)" fill="#000" fill-opacity="0.03" stroke="#333" stroke-width="0.45" stroke-opacity="0.85"/>
<ellipse cx="563.50" cy="124.10" rx="11.75" ry="3.85" transform="rotate(-66 563.50 124.10)" fill="#000" fill-opacity="0.03" stroke="#333" stroke-width="0.45" stroke-opacity="0.85"/>
<ellipse cx="563.50" cy="124.10" rx="10.38" ry="3.41" transform="rotate(-66 563.50 124.10)" fill="#000" fill-opacity="0.03" stroke="#333" stroke-width="0.45" stroke-opacity="0.85"/>
<ellipse cx="563.50" cy="124.10" rx="8.86" ry="2.91" transform="rotate(-66 563.50 124.10)" fill="#000" fill-opacity="0.03" stroke="#333" stroke-width="0.45" stroke-opacity="0.85"/>
<ellipse cx="563.50" cy="124.10" rx="7.24" ry="2.38" transform="rotate(-66 563.50 124.10)" fill="#000" fill-opacity="0.03" stroke="#333" stroke-width="0.45" stroke-opacity="0.85"/>
<ellipse cx="563.50" cy="124.10" rx="5.53" ry="1.82" transform="rotate(-66 563.50 124.10)" fill="#000" fill-opacity="0.03" stroke="#333" stroke-width="0.45" stroke-opacity="0.85"/>
<ellipse cx="563.50" cy="124.10" rx="3.76" ry="1.23" transform="rotate(-66 563.50 124.10)" fill="#000" fill-opacity="0.03" stroke="#333" stroke-width="0.45" stroke-opacity="0.85"/>
<ellipse cx="563.50" cy="124.10" rx="1.92" ry="0.63" transform="rotate(-66 563.50 124.10)" fill="#000" fill-opacity="0.03" stroke="#333" stroke-width="0.45" stroke-opacity="0.85"/>
<ellipse cx="581.60" cy="110.00" rx="17.20" ry="7.00" transform="rotate(-48 581.60 110.00)" fill="#000" fill-opacity="0.09" stroke="#111" stroke-width="0.5" stroke-opacity="0.9"/>
<ellipse cx="581.74" cy="109.86" rx="16.53" ry="6.73" transform="rotate(-48 581.74 109.86)" fill="#000" fill-opacity="0.09" stroke="#111" stroke-width="0.5" stroke-opacity="0.9"/>
<ellipse cx="581.89" cy="109.71" rx="15.67" ry="6.38" transform="rotate(-48 581.89 109.71)" fill="#000" fill-opacity="0.09" stroke="#111" stroke-width="0.5" stroke-opacity="0.9"/>
<ellipse cx="582.03" cy="109.57" rx="14.71" ry="5.99" transform="rotate(-48 582.03 109.57)" fill="#000" fill-opacity="0.09" stroke="#111" stroke-width="0.5" stroke-opacity="0.9"/>
<ellipse cx="582.17" cy="109.43" rx="13.68" ry="5.57" transform="rotate(-48 582.17 109.43)" fill="#000" fill-opacity="0.09" stroke="#111" stroke-width="0.5" stroke-opacity="0.9"/>
<ellipse cx="582.31" cy="109.29" rx="12.60" ry="5.13" transform="rotate(-48 582.31 109.29)" fill="#000" fill-opacity="0.09" stroke="#111" stroke-width="0.5" stroke-opacity="0.9"/>
<ellipse cx="582.46" cy="109.14" rx="11.48" ry="4.67" transform="rotate(-48 582.46 109.14)" fill="#000" fill-opacity="0.09" stroke="#111" stroke-width="0.5" stroke-opacity="0.9"/>
<ellipse cx="582.60" cy="109.00" rx="10.31" ry="4.20" transform="rotate(-48 582.60 109.00)" fill="#000" fill-opacity="0.09" stroke="#111" stroke-width="0.5" stroke-opacity="0.9"/>
<ellipse cx="582.74" cy="108.86" rx="9.12" ry="3.71" transform="rotate(-48 582.74 108.86)" fill="#000" fill-opacity="0.09" stroke="#111" stroke-width="0.5" stroke-opacity="0.9"/>
<ellipse cx="582.89" cy="108.71" rx="7.89" ry="3.21" transform="rotate(-48 582.89 108.71)" fill="#000" fill-opacity="0.09" stroke="#111" stroke-width="0.5" stroke-opacity="0.9"/>
<ellipse cx="583.03" cy="108.57" rx="6.63" ry="2.70" transform="rotate(-48 583.03 108.57)" fill="#000" fill-opacity="0.09" stroke="#111" stroke-width="0.5" stroke-opacity="0.9"/>
<ellipse cx="583.17" cy="108.43" rx="5.35" ry="2.18" transform="rotate(-48 583.17 108.43)" fill="#000" fill-opacity="0.09" stroke="#111" stroke-width="0.5" stroke-opacity="0.9"/>
<ellipse cx="583.31" cy="108.29" rx="4.05" ry="1.65" transform="rotate(-48 583.31 108.29)" fill="#000" fill-opacity="0.09" stroke="#111" stroke-width="0.5" stroke-opacity="0.9"/>
<ellipse cx="583.46" cy="108.14" rx="2.72" ry="1.11" transform="rotate(-48 583.46 108.14)" fill="#000" fill-opacity="0.09" stroke="#111" stroke-width="0.5" stroke-opacity="0.9"/>
<ellipse cx="583.60" cy="108.00" rx="1.38" ry="0.56" transform="rotate(-48 583.60 108.00)" fill="#000" fill-opacity="0.09" stroke="#111" stroke-width="0.5" stroke-opacity="0.9"/>
<ellipse cx="621.80" cy="134.20" rx="6.00" ry="3.80" transform="rotate(-5 621.80 134.20)" fill="#000" fill-opacity="0.2" stroke="#111" stroke-width="0.5" stroke-opacity="0.9"/>
<ellipse cx="621.80" cy="134.20" rx="5.25" ry="3.32" transform="rotate(-5 621.80 134.20)" fill="#000" fill-opacity="0.2" stroke="#111" stroke-width="0.5" stroke-opacity="0.9"/>
<ellipse cx="621.80" cy="134.20" rx="4.49" ry="2.84" transform="rotate(-5 621.80 134.20)" fill="#000" fill-opacity="0.2" stroke="#111" stroke-width="0.5" stroke-opacity="0.9"/>
<ellipse cx="621.80" cy="134.20" rx="3.74" ry="2.37" transform="rotate(-5 621.80 134.20)" fill="#000" fill-opacity="0.2" stroke="#111" stroke-width="0.5" stroke-opacity="0.9"/>
<ellipse cx="621.80" cy="134.20" rx="2.98" ry="1.89" transform="rotate(-5 621.80 134.20)" fill="#000" fill-opacity="0.2" stroke="#111" stroke-width="0.5" stroke-opacity="0.9"/>
<ellipse cx="621.80" cy="134.20" rx="2.23" ry="1.41" transform="rotate(-5 621.80 134.20)" fill="#000" fill-opacity="0.2" stroke="#111" stroke-width="0.5" stroke-opacity="0.9"/>
<ellipse cx="621.80" cy="134.20" rx="1.47" ry="0.93" transform="rotate(-5 621.80 134.20)" fill="#000" fill-opacity="0.2" stroke="#111" stroke-width="0.5" stroke-opacity="0.9"/>
<ellipse cx="621.80" cy="134.20" rx="0.72" ry="0.46" transform="rotate(-5 621.80 134.20)" fill="#000" fill-opacity="0.2" stroke="#111" stroke-width="0.5" stroke-opacity="0.9"/>
<line x1="510.50" y1="20.40" x2="510.50" y2="73.50" stroke="#222" stroke-width="0.8"/>
<line x1="491.20" y1="52.50" x2="544.60" y2="52.50" stroke="#222" stroke-width="0.8"/>
<path d="M491.20,20.40 L544.60,20.40 L544.60,73.50" fill="none" stroke="#aaa" stroke-width="0.6"/>
<path d="M491.20,20.40 L491.20,73.50 L544.60,73.50" fill="none" stroke="#bbb" stroke-width="0.5"/>
<path d="M491.20,63.94L493.20,63.94M491.20,60.75L492.30,60.75M491.20,58.87L492.30,58.87M491.20,57.55L492.30,57.55M491.20,56.52L492.30,56.52M491.20,55.68L492.30,55.68M491.20,54.97L492.30,54.97M491.20,54.35L492.30,54.35M491.20,53.81L492.30,53.81M491.20,53.32L493.20,53.32M491.20,50.13L492.30,50.13M491.20,48.25L492.30,48.25M491.20,46.93L492.30,46.93M491.20,45.90L492.30,45.90M491.20,45.06L492.30,45.06M491.20,44.35L492.30,44.35M491.20,43.73L492.30,43.73M491.20,43.19L492.30,43.19M491.20,42.70L493.20,42.70M491.20,39.51L492.30,39.51M491.20,37.63L492.30,37.63M491.20,36.31L492.30,36.31M491.20,35.28L492.30,35.28M491.20,34.44L492.30,34.44M491.20,33.73L492.30,33.73M491.20,33.11L492.30,33.11M491.20,32.57L492.30,32.57M491.20,32.08L493.20,32.08M491.20,28.89L492.30,28.89M491.20,27.01L492.30,27.01M491.20,25.69L492.30,25.69M491.20,24.66L492.30,24.66M491.20,23.82L492.30,23.82M491.20,23.11L492.30,23.11M491.20,22.49L492.30,22.49M491.20,21.95L492.30,21.95M491.20,21.46L493.20,21.46M501.88,73.50L501.88,71.50M505.10,73.50L505.10,72.40M506.98,73.50L506.98,72.40M508.31,73.50L508.31,72.40M509.34,73.50L509.34,72.40M510.19,73.50L510.19,72.40M510.91,73.50L510.91,72.40M511.53,73.50L511.53,72.40M512.07,73.50L512.07,72.40M512.56,73.50L512.56,71.50M515.78,73.50L515.78,72.40M517.66,73.50L517.66,72.40M518.99,73.50L518.99,72.40M520.02,73.50L520.02,72.40M520.87,73.50L520.87,72.40M521.59,73.50L521.59,72.40M522.21,73.50L522.21,72.40M522.75,73.50L522.75,72.40M523.24,73.50L523.24,71.50M526.46,73.50L526.46,72.40M528.34,73.50L528.34,72.40M529.67,73.50L529.67,72.40M530.70,73.50L530.70,72.40M531.55,73.50L531.55,72.40M532.27,73.50L532.27,72.40M532.89,73.50L532.89,72.40M533.43,73.50L533.43,72.40M533.92,73.50L533.92,71.50M537.14,73.50L537.14,72.40M539.02,73.50L539.02,72.40M540.35,73.50L540.35,72.40M541.38,73.50L541.38,72.40M542.23,73.50L542.23,72.40M542.95,73.50L542.95,72.40M543.57,73.50L543.57,72.40M544.11,73.50L544.11,72.40M544.60,73.50L544.60,71.50" stroke="#444" stroke-width="0.5" fill="none"/>
<rect x="490.40" y="62.88" width="1.60" height="2.20" fill="#111" stroke="none" stroke-width="0.7"/>
<rect x="498.68" y="72.90" width="2.80" height="1.30" fill="#111" stroke="none" stroke-width="0.7"/>
<text x="542.60" y="27.00" font-size="6.7" font-weight="normal" fill="#000" text-anchor="end">91.2</text>
<line x1="571.50" y1="20.40" x2="571.50" y2="73.50" stroke="#222" stroke-width="0.8"/>
<line x1="551.00" y1="52.50" x2="605.20" y2="52.50" stroke="#222" stroke-width="0.8"/>
<path d="M551.00,20.40 L605.20,20.40 L605.20,73.50" fill="none" stroke="#aaa" stroke-width="0.6"/>
<path d="M551.00,20.40 L551.00,73.50 L605.20,73.50" fill="none" stroke="#bbb" stroke-width="0.5"/>
<path d="M551.00,63.94L553.00,63.94M551.00,60.75L552.10,60.75M551.00,58.87L552.10,58.87M551.00,57.55L552.10,57.55M551.00,56.52L552.10,56.52M551.00,55.68L552.10,55.68M551.00,54.97L552.10,54.97M551.00,54.35L552.10,54.35M551.00,53.81L552.10,53.81M551.00,53.32L553.00,53.32M551.00,50.13L552.10,50.13M551.00,48.25L552.10,48.25M551.00,46.93L552.10,46.93M551.00,45.90L552.10,45.90M551.00,45.06L552.10,45.06M551.00,44.35L552.10,44.35M551.00,43.73L552.10,43.73M551.00,43.19L552.10,43.19M551.00,42.70L553.00,42.70M551.00,39.51L552.10,39.51M551.00,37.63L552.10,37.63M551.00,36.31L552.10,36.31M551.00,35.28L552.10,35.28M551.00,34.44L552.10,34.44M551.00,33.73L552.10,33.73M551.00,33.11L552.10,33.11M551.00,32.57L552.10,32.57M551.00,32.08L553.00,32.08M551.00,28.89L552.10,28.89M551.00,27.01L552.10,27.01M551.00,25.69L552.10,25.69M551.00,24.66L552.10,24.66M551.00,23.82L552.10,23.82M551.00,23.11L552.10,23.11M551.00,22.49L552.10,22.49M551.00,21.95L552.10,21.95M551.00,21.46L553.00,21.46M561.84,73.50L561.84,71.50M565.10,73.50L565.10,72.40M567.01,73.50L567.01,72.40M568.37,73.50L568.37,72.40M569.42,73.50L569.42,72.40M570.28,73.50L570.28,72.40M571.00,73.50L571.00,72.40M571.63,73.50L571.63,72.40M572.18,73.50L572.18,72.40M572.68,73.50L572.68,71.50M575.94,73.50L575.94,72.40M577.85,73.50L577.85,72.40M579.21,73.50L579.21,72.40M580.26,73.50L580.26,72.40M581.12,73.50L581.12,72.40M581.84,73.50L581.84,72.40M582.47,73.50L582.47,72.40M583.02,73.50L583.02,72.40M583.52,73.50L583.52,71.50M586.78,73.50L586.78,72.40M588.69,73.50L588.69,72.40M590.05,73.50L590.05,72.40M591.10,73.50L591.10,72.40M591.96,73.50L591.96,72.40M592.68,73.50L592.68,72.40M593.31,73.50L593.31,72.40M593.86,73.50L593.86,72.40M594.36,73.50L594.36,71.50M597.62,73.50L597.62,72.40M599.53,73.50L599.53,72.40M600.89,73.50L600.89,72.40M601.94,73.50L601.94,72.40M602.80,73.50L602.80,72.40M603.52,73.50L603.52,72.40M604.15,73.50L604.15,72.40M604.70,73.50L604.70,72.40M605.20,73.50L605.20,71.50" stroke="#444" stroke-width="0.5" fill="none"/>
<rect x="550.20" y="62.88" width="1.60" height="2.20" fill="#111" stroke="none" stroke-width="0.7"/>
<rect x="558.59" y="72.90" width="2.80" height="1.30" fill="#111" stroke="none" stroke-width="0.7"/>
<text x="603.20" y="27.00" font-size="6.7" font-weight="normal" fill="#000" text-anchor="end">94.4</text>
<line x1="630.50" y1="20.40" x2="630.50" y2="73.50" stroke="#222" stroke-width="0.8"/>
<line x1="611.10" y1="52.50" x2="664.80" y2="52.50" stroke="#222" stroke-width="0.8"/>
<path d="M611.10,20.40 L664.80,20.40 L664.80,73.50" fill="none" stroke="#aaa" stroke-width="0.6"/>
<path d="M611.10,20.40 L611.10,73.50 L664.80,73.50" fill="none" stroke="#bbb" stroke-width="0.5"/>
<path d="M611.10,63.94L613.10,63.94M611.10,60.75L612.20,60.75M611.10,58.87L612.20,58.87M611.10,57.55L612.20,57.55M611.10,56.52L612.20,56.52M611.10,55.68L612.20,55.68M611.10,54.97L612.20,54.97M611.10,54.35L612.20,54.35M611.10,53.81L612.20,53.81M611.10,53.32L613.10,53.32M611.10,50.13L612.20,50.13M611.10,48.25L612.20,48.25M611.10,46.93L612.20,46.93M611.10,45.90L612.20,45.90M611.10,45.06L612.20,45.06M611.10,44.35L612.20,44.35M611.10,43.73L612.20,43.73M611.10,43.19L612.20,43.19M611.10,42.70L613.10,42.70M611.10,39.51L612.20,39.51M611.10,37.63L612.20,37.63M611.10,36.31L612.20,36.31M611.10,35.28L612.20,35.28M611.10,34.44L612.20,34.44M611.10,33.73L612.20,33.73M611.10,33.11L612.20,33.11M611.10,32.57L612.20,32.57M611.10,32.08L613.10,32.08M611.10,28.89L612.20,28.89M611.10,27.01L612.20,27.01M611.10,25.69L612.20,25.69M611.10,24.66L612.20,24.66M611.10,23.82L612.20,23.82M611.10,23.11L612.20,23.11M611.10,22.49L612.20,22.49M611.10,21.95L612.20,21.95M611.10,21.46L613.10,21.46M621.84,73.50L621.84,71.50M625.07,73.50L625.07,72.40M626.96,73.50L626.96,72.40M628.31,73.50L628.31,72.40M629.35,73.50L629.35,72.40M630.20,73.50L630.20,72.40M630.92,73.50L630.92,72.40M631.54,73.50L631.54,72.40M632.09,73.50L632.09,72.40M632.58,73.50L632.58,71.50M635.81,73.50L635.81,72.40M637.70,73.50L637.70,72.40M639.05,73.50L639.05,72.40M640.09,73.50L640.09,72.40M640.94,73.50L640.94,72.40M641.66,73.50L641.66,72.40M642.28,73.50L642.28,72.40M642.83,73.50L642.83,72.40M643.32,73.50L643.32,71.50M646.55,73.50L646.55,72.40M648.44,73.50L648.44,72.40M649.79,73.50L649.79,72.40M650.83,73.50L650.83,72.40M651.68,73.50L651.68,72.40M652.40,73.50L652.40,72.40M653.02,73.50L653.02,72.40M653.57,73.50L653.57,72.40M654.06,73.50L654.06,71.50M657.29,73.50L657.29,72.40M659.18,73.50L659.18,72.40M660.53,73.50L660.53,72.40M661.57,73.50L661.57,72.40M662.42,73.50L662.42,72.40M663.14,73.50L663.14,72.40M663.76,73.50L663.76,72.40M664.31,73.50L664.31,72.40M664.80,73.50L664.80,71.50" stroke="#444" stroke-width="0.5" fill="none"/>
<rect x="610.30" y="62.88" width="1.60" height="2.20" fill="#111" stroke="none" stroke-width="0.7"/>
<rect x="618.62" y="72.90" width="2.80" height="1.30" fill="#111" stroke="none" stroke-width="0.7"/>
<text x="662.80" y="27.00" font-size="6.7" font-weight="normal" fill="#000" text-anchor="end">81.4</text>
<line x1="509.50" y1="91.00" x2="509.50" y2="144.20" stroke="#222" stroke-width="0.8"/>
<line x1="490.50" y1="122.50" x2="544.40" y2="122.50" stroke="#222" stroke-width="0.8"/>
<path d="M490.50,91.00 L544.40,91.00 L544.40,144.20" fill="none" stroke="#aaa" stroke-width="0.6"/>
<path d="M490.50,91.00 L490.50,144.20 L544.40,144.20" fill="none" stroke="#bbb" stroke-width="0.5"/>
<path d="M490.50,134.62L492.50,134.62M490.50,131.42L491.60,131.42M490.50,129.55L491.60,129.55M490.50,128.22L491.60,128.22M490.50,127.19L491.60,127.19M490.50,126.34L491.60,126.34M490.50,125.63L491.60,125.63M490.50,125.02L491.60,125.02M490.50,124.47L491.60,124.47M490.50,123.98L492.50,123.98M490.50,120.78L491.60,120.78M490.50,118.91L491.60,118.91M490.50,117.58L491.60,117.58M490.50,116.55L491.60,116.55M490.50,115.70L491.60,115.70M490.50,114.99L491.60,114.99M490.50,114.38L491.60,114.38M490.50,113.83L491.60,113.83M490.50,113.34L492.50,113.34M490.50,110.14L491.60,110.14M490.50,108.27L491.60,108.27M490.50,106.94L491.60,106.94M490.50,105.91L491.60,105.91M490.50,105.06L491.60,105.06M490.50,104.35L491.60,104.35M490.50,103.74L491.60,103.74M490.50,103.19L491.60,103.19M490.50,102.70L492.50,102.70M490.50,99.50L491.60,99.50M490.50,97.63L491.60,97.63M490.50,96.30L491.60,96.30M490.50,95.27L491.60,95.27M490.50,94.42L491.60,94.42M490.50,93.71L491.60,93.71M490.50,93.10L491.60,93.10M490.50,92.55L491.60,92.55M490.50,92.06L492.50,92.06M501.28,144.20L501.28,142.20M504.53,144.20L504.53,143.10M506.42,144.20L506.42,143.10M507.77,144.20L507.77,143.10M508.81,144.20L508.81,143.10M509.67,144.20L509.67,143.10M510.39,144.20L510.39,143.10M511.02,144.20L511.02,143.10M511.57,144.20L511.57,143.10M512.06,144.20L512.06,142.20M515.31,144.20L515.31,143.10M517.20,144.20L517.20,143.10M518.55,144.20L518.55,143.10M519.59,144.20L519.59,143.10M520.45,144.20L520.45,143.10M521.17,144.20L521.17,143.10M521.80,144.20L521.80,143.10M522.35,144.20L522.35,143.10M522.84,144.20L522.84,142.20M526.09,144.20L526.09,143.10M527.98,144.20L527.98,143.10M529.33,144.20L529.33,143.10M530.37,144.20L530.37,143.10M531.23,144.20L531.23,143.10M531.95,144.20L531.95,143.10M532.58,144.20L532.58,143.10M533.13,144.20L533.13,143.10M533.62,144.20L533.62,142.20M536.87,144.20L536.87,143.10M538.76,144.20L538.76,143.10M540.11,144.20L540.11,143.10M541.15,144.20L541.15,143.10M542.01,144.20L542.01,143.10M542.73,144.20L542.73,143.10M543.36,144.20L543.36,143.10M543.91,144.20L543.91,143.10M544.40,144.20L544.40,142.20" stroke="#444" stroke-width="0.5" fill="none"/>
<rect x="489.70" y="133.56" width="1.60" height="2.20" fill="#111" stroke="none" stroke-width="0.7"/>
<rect x="498.05" y="143.60" width="2.80" height="1.30" fill="#111" stroke="none" stroke-width="0.7"/>
<text x="542.40" y="97.60" font-size="6.7" font-weight="normal" fill="#000" text-anchor="end">93.2</text>
<line x1="570.50" y1="91.00" x2="570.50" y2="144.20" stroke="#222" stroke-width="0.8"/>
<line x1="550.30" y1="122.50" x2="604.40" y2="122.50" stroke="#222" stroke-width="0.8"/>
<path d="M550.30,91.00 L604.40,91.00 L604.40,144.20" fill="none" stroke="#aaa" stroke-width="0.6"/>
<path d="M550.30,91.00 L550.30,144.20 L604.40,144.20" fill="none" stroke="#bbb" stroke-width="0.5"/>
<path d="M550.30,134.62L552.30,134.62M550.30,131.42L551.40,131.42M550.30,129.55L551.40,129.55M550.30,128.22L551.40,128.22M550.30,127.19L551.40,127.19M550.30,126.34L551.40,126.34M550.30,125.63L551.40,125.63M550.30,125.02L551.40,125.02M550.30,124.47L551.40,124.47M550.30,123.98L552.30,123.98M550.30,120.78L551.40,120.78M550.30,118.91L551.40,118.91M550.30,117.58L551.40,117.58M550.30,116.55L551.40,116.55M550.30,115.70L551.40,115.70M550.30,114.99L551.40,114.99M550.30,114.38L551.40,114.38M550.30,113.83L551.40,113.83M550.30,113.34L552.30,113.34M550.30,110.14L551.40,110.14M550.30,108.27L551.40,108.27M550.30,106.94L551.40,106.94M550.30,105.91L551.40,105.91M550.30,105.06L551.40,105.06M550.30,104.35L551.40,104.35M550.30,103.74L551.40,103.74M550.30,103.19L551.40,103.19M550.30,102.70L552.30,102.70M550.30,99.50L551.40,99.50M550.30,97.63L551.40,97.63M550.30,96.30L551.40,96.30M550.30,95.27L551.40,95.27M550.30,94.42L551.40,94.42M550.30,93.71L551.40,93.71M550.30,93.10L551.40,93.10M550.30,92.55L551.40,92.55M550.30,92.06L552.30,92.06M561.12,144.20L561.12,142.20M564.38,144.20L564.38,143.10M566.28,144.20L566.28,143.10M567.63,144.20L567.63,143.10M568.68,144.20L568.68,143.10M569.54,144.20L569.54,143.10M570.26,144.20L570.26,143.10M570.89,144.20L570.89,143.10M571.44,144.20L571.44,143.10M571.94,144.20L571.94,142.20M575.20,144.20L575.20,143.10M577.10,144.20L577.10,143.10M578.45,144.20L578.45,143.10M579.50,144.20L579.50,143.10M580.36,144.20L580.36,143.10M581.08,144.20L581.08,143.10M581.71,144.20L581.71,143.10M582.26,144.20L582.26,143.10M582.76,144.20L582.76,142.20M586.02,144.20L586.02,143.10M587.92,144.20L587.92,143.10M589.27,144.20L589.27,143.10M590.32,144.20L590.32,143.10M591.18,144.20L591.18,143.10M591.90,144.20L591.90,143.10M592.53,144.20L592.53,143.10M593.08,144.20L593.08,143.10M593.58,144.20L593.58,142.20M596.84,144.20L596.84,143.10M598.74,144.20L598.74,143.10M600.09,144.20L600.09,143.10M601.14,144.20L601.14,143.10M602.00,144.20L602.00,143.10M602.72,144.20L602.72,143.10M603.35,144.20L603.35,143.10M603.90,144.20L603.90,143.10M604.40,144.20L604.40,142.20" stroke="#444" stroke-width="0.5" fill="none"/>
<rect x="549.50" y="133.56" width="1.60" height="2.20" fill="#111" stroke="none" stroke-width="0.7"/>
<rect x="557.87" y="143.60" width="2.80" height="1.30" fill="#111" stroke="none" stroke-width="0.7"/>
<text x="602.40" y="97.60" font-size="6.7" font-weight="normal" fill="#000" text-anchor="end">87.4</text>
<line x1="629.50" y1="91.00" x2="629.50" y2="144.20" stroke="#222" stroke-width="0.8"/>
<line x1="610.20" y1="122.50" x2="664.40" y2="122.50" stroke="#222" stroke-width="0.8"/>
<path d="M610.20,91.00 L664.40,91.00 L664.40,144.20" fill="none" stroke="#aaa" stroke-width="0.6"/>
<path d="M610.20,91.00 L610.20,144.20 L664.40,144.20" fill="none" stroke="#bbb" stroke-width="0.5"/>
<path d="M610.20,134.62L612.20,134.62M610.20,131.42L611.30,131.42M610.20,129.55L611.30,129.55M610.20,128.22L611.30,128.22M610.20,127.19L611.30,127.19M610.20,126.34L611.30,126.34M610.20,125.63L611.30,125.63M610.20,125.02L611.30,125.02M610.20,124.47L611.30,124.47M610.20,123.98L612.20,123.98M610.20,120.78L611.30,120.78M610.20,118.91L611.30,118.91M610.20,117.58L611.30,117.58M610.20,116.55L611.30,116.55M610.20,115.70L611.30,115.70M610.20,114.99L611.30,114.99M610.20,114.38L611.30,114.38M610.20,113.83L611.30,113.83M610.20,113.34L612.20,113.34M610.20,110.14L611.30,110.14M610.20,108.27L611.30,108.27M610.20,106.94L611.30,106.94M610.20,105.91L611.30,105.91M610.20,105.06L611.30,105.06M610.20,104.35L611.30,104.35M610.20,103.74L611.30,103.74M610.20,103.19L611.30,103.19M610.20,102.70L612.20,102.70M610.20,99.50L611.30,99.50M610.20,97.63L611.30,97.63M610.20,96.30L611.30,96.30M610.20,95.27L611.30,95.27M610.20,94.42L611.30,94.42M610.20,93.71L611.30,93.71M610.20,93.10L611.30,93.10M610.20,92.55L611.30,92.55M610.20,92.06L612.20,92.06M621.04,144.20L621.04,142.20M624.30,144.20L624.30,143.10M626.21,144.20L626.21,143.10M627.57,144.20L627.57,143.10M628.62,144.20L628.62,143.10M629.48,144.20L629.48,143.10M630.20,144.20L630.20,143.10M630.83,144.20L630.83,143.10M631.38,144.20L631.38,143.10M631.88,144.20L631.88,142.20M635.14,144.20L635.14,143.10M637.05,144.20L637.05,143.10M638.41,144.20L638.41,143.10M639.46,144.20L639.46,143.10M640.32,144.20L640.32,143.10M641.04,144.20L641.04,143.10M641.67,144.20L641.67,143.10M642.22,144.20L642.22,143.10M642.72,144.20L642.72,142.20M645.98,144.20L645.98,143.10M647.89,144.20L647.89,143.10M649.25,144.20L649.25,143.10M650.30,144.20L650.30,143.10M651.16,144.20L651.16,143.10M651.88,144.20L651.88,143.10M652.51,144.20L652.51,143.10M653.06,144.20L653.06,143.10M653.56,144.20L653.56,142.20M656.82,144.20L656.82,143.10M658.73,144.20L658.73,143.10M660.09,144.20L660.09,143.10M661.14,144.20L661.14,143.10M662.00,144.20L662.00,143.10M662.72,144.20L662.72,143.10M663.35,144.20L663.35,143.10M663.90,144.20L663.90,143.10M664.40,144.20L664.40,142.20" stroke="#444" stroke-width="0.5" fill="none"/>
<rect x="609.40" y="133.56" width="1.60" height="2.20" fill="#111" stroke="none" stroke-width="0.7"/>
<rect x="617.79" y="143.60" width="2.80" height="1.30" fill="#111" stroke="none" stroke-width="0.7"/>
<text x="662.40" y="97.60" font-size="6.7" font-weight="normal" fill="#000" text-anchor="end">0.069</text>
<line x1="486.00" y1="21.00" x2="486.00" y2="116.80" stroke="#000" stroke-width="1.4"/>
<text x="486.90" y="133.50" font-size="7.2" font-weight="normal" fill="#1e1e1e" text-anchor="middle" transform="rotate(-90 486.9 133.5)">EGFRt</text>
<text x="489.60" y="153.60" font-size="7.1" font-weight="normal" fill="#1e1e1e" text-anchor="start">STII</text>
<line x1="510.00" y1="150.00" x2="665.00" y2="150.00" stroke="#000" stroke-width="1.4"/>
<text x="665.00" y="157.20" font-size="6.0" font-weight="normal" fill="#1e1e1e" text-anchor="end">pregated on living lymphocytes</text>
<text x="5.30" y="167.00" font-size="10.5" font-weight="bold" fill="#000" text-anchor="start">c</text>
<rect x="31.40" y="180.40" width="9.50" height="13.26" fill="#fdc88d" stroke="#444" stroke-width="0.7"/>
<rect x="31.40" y="193.66" width="9.50" height="66.14" fill="#a7a7a7" stroke="#444" stroke-width="0.7"/>
<rect x="43.40" y="180.40" width="8.70" height="11.12" fill="#fdc88d" stroke="#444" stroke-width="0.7"/>
<rect x="43.40" y="191.52" width="8.70" height="68.28" fill="#a7a7a7" stroke="#444" stroke-width="0.7"/>
<rect x="54.20" y="180.40" width="8.90" height="12.23" fill="#fdc88d" stroke="#444" stroke-width="0.7"/>
<rect x="54.20" y="192.63" width="8.90" height="67.17" fill="#a7a7a7" stroke="#444" stroke-width="0.7"/>
<rect x="65.70" y="180.40" width="8.90" height="14.93" fill="#fdc88d" stroke="#444" stroke-width="0.7"/>
<rect x="65.70" y="195.33" width="8.90" height="64.47" fill="#a7a7a7" stroke="#444" stroke-width="0.7"/>
<rect x="76.70" y="180.40" width="8.70" height="14.29" fill="#fdc88d" stroke="#444" stroke-width="0.7"/>
<rect x="76.70" y="194.69" width="8.70" height="65.11" fill="#a7a7a7" stroke="#444" stroke-width="0.7"/>
<line x1="23.50" y1="259.80" x2="27.20" y2="259.80" stroke="#333" stroke-width="0.9"/>
<text x="23.30" y="260.10" font-size="7.1" font-weight="normal" fill="#1e1e1e" text-anchor="end">0</text>
<line x1="23.50" y1="243.92" x2="27.20" y2="243.92" stroke="#333" stroke-width="0.9"/>
<text x="23.30" y="244.22" font-size="7.1" font-weight="normal" fill="#1e1e1e" text-anchor="end">20</text>
<line x1="23.50" y1="228.04" x2="27.20" y2="228.04" stroke="#333" stroke-width="0.9"/>
<text x="23.30" y="228.34" font-size="7.1" font-weight="normal" fill="#1e1e1e" text-anchor="end">40</text>
<line x1="23.50" y1="212.16" x2="27.20" y2="212.16" stroke="#333" stroke-width="0.9"/>
<text x="23.30" y="212.46" font-size="7.1" font-weight="normal" fill="#1e1e1e" text-anchor="end">60</text>
<line x1="23.50" y1="196.28" x2="27.20" y2="196.28" stroke="#333" stroke-width="0.9"/>
<text x="23.30" y="196.58" font-size="7.1" font-weight="normal" fill="#1e1e1e" text-anchor="end">80</text>
<line x1="23.50" y1="180.40" x2="27.20" y2="180.40" stroke="#333" stroke-width="0.9"/>
<text x="23.30" y="180.70" font-size="7.1" font-weight="normal" fill="#1e1e1e" text-anchor="end">100</text>
<line x1="27.20" y1="180.00" x2="27.20" y2="259.80" stroke="#444" stroke-width="1.0"/>
<line x1="27.20" y1="259.80" x2="90.80" y2="259.80" stroke="#444" stroke-width="1.0"/>
<line x1="36.15" y1="259.80" x2="36.15" y2="261.60" stroke="#333" stroke-width="0.7"/>
<line x1="47.75" y1="259.80" x2="47.75" y2="261.60" stroke="#333" stroke-width="0.7"/>
<line x1="58.65" y1="259.80" x2="58.65" y2="261.60" stroke="#333" stroke-width="0.7"/>
<line x1="70.15" y1="259.80" x2="70.15" y2="261.60" stroke="#333" stroke-width="0.7"/>
<line x1="81.05" y1="259.80" x2="81.05" y2="261.60" stroke="#333" stroke-width="0.7"/>
<text x="11.40" y="218.00" font-size="6.3" font-weight="normal" fill="#1e1e1e" text-anchor="middle" transform="rotate(-90 11.4 218)">% of EGFRt<tspan font-size="5.2" dy="-2.8">+</tspan></text>
<rect x="91.20" y="184.40" width="8.40" height="3.80" fill="#fdc88d" stroke="#444" stroke-width="0.6"/>
<rect x="91.20" y="191.20" width="8.40" height="3.80" fill="#a7a7a7" stroke="#444" stroke-width="0.6"/>
<text x="100.80" y="188.80" font-size="6.6" font-weight="normal" fill="#1e1e1e" text-anchor="start">CD8<tspan font-size="5.2" dy="-2.8">+</tspan></text>
<text x="100.80" y="195.60" font-size="6.6" font-weight="normal" fill="#1e1e1e" text-anchor="start">CD8<tspan font-size="4.4" dy="-2.8">-</tspan></text>
<text x="38.65" y="264.50" font-size="7.0" font-weight="bold" fill="#2a6aa3" text-anchor="end" transform="rotate(-47 38.65 264.5)">JCAR017</text>
<text x="50.25" y="264.50" font-size="7.0" font-weight="bold" fill="#b3d6ef" text-anchor="end" transform="rotate(-47 50.25 264.5)">JCAR021</text>
<text x="61.15" y="264.50" font-size="7.0" font-weight="bold" fill="#107d3b" text-anchor="end" transform="rotate(-47 61.150000000000006 264.5)">L237W</text>
<text x="72.65" y="264.50" font-size="7.0" font-weight="bold" fill="#6aa67f" text-anchor="end" transform="rotate(-47 72.65 264.5)">M35A</text>
<text x="83.55" y="264.50" font-size="7.0" font-weight="bold" fill="#b5d3c1" text-anchor="end" transform="rotate(-47 83.55000000000001 264.5)">V236W</text>
<text x="129.40" y="168.90" font-size="10.5" font-weight="bold" fill="#000" text-anchor="start">d</text>
<rect x="158.50" y="255.45" width="9.30" height="4.75" fill="#000" stroke="#444" stroke-width="0.7"/>
<rect x="158.50" y="237.26" width="9.30" height="18.19" fill="#a5a5a5" stroke="#444" stroke-width="0.7"/>
<rect x="158.50" y="185.85" width="9.30" height="51.41" fill="#dcdcdc" stroke="#444" stroke-width="0.7"/>
<rect x="158.50" y="181.10" width="9.30" height="4.75" fill="#6d6d6d" stroke="#444" stroke-width="0.7"/>
<rect x="170.10" y="257.04" width="8.90" height="3.16" fill="#000" stroke="#444" stroke-width="0.7"/>
<rect x="170.10" y="241.22" width="8.90" height="15.82" fill="#a5a5a5" stroke="#444" stroke-width="0.7"/>
<rect x="170.10" y="183.63" width="8.90" height="57.58" fill="#dcdcdc" stroke="#444" stroke-width="0.7"/>
<rect x="170.10" y="181.10" width="8.90" height="2.53" fill="#6d6d6d" stroke="#444" stroke-width="0.7"/>
<rect x="181.10" y="257.04" width="9.20" height="3.16" fill="#000" stroke="#444" stroke-width="0.7"/>
<rect x="181.10" y="241.22" width="9.20" height="15.82" fill="#a5a5a5" stroke="#444" stroke-width="0.7"/>
<rect x="181.10" y="182.44" width="9.20" height="58.77" fill="#dcdcdc" stroke="#444" stroke-width="0.7"/>
<rect x="181.10" y="181.10" width="9.20" height="1.34" fill="#6d6d6d" stroke="#444" stroke-width="0.7"/>
<rect x="192.80" y="257.83" width="8.90" height="2.37" fill="#000" stroke="#444" stroke-width="0.7"/>
<rect x="192.80" y="247.15" width="8.90" height="10.68" fill="#a5a5a5" stroke="#444" stroke-width="0.7"/>
<rect x="192.80" y="183.63" width="8.90" height="63.52" fill="#dcdcdc" stroke="#444" stroke-width="0.7"/>
<rect x="192.80" y="181.10" width="8.90" height="2.53" fill="#6d6d6d" stroke="#444" stroke-width="0.7"/>
<rect x="204.40" y="255.06" width="9.20" height="5.14" fill="#000" stroke="#444" stroke-width="0.7"/>
<rect x="204.40" y="227.37" width="9.20" height="27.69" fill="#a5a5a5" stroke="#444" stroke-width="0.7"/>
<rect x="204.40" y="183.63" width="9.20" height="43.74" fill="#dcdcdc" stroke="#444" stroke-width="0.7"/>
<rect x="204.40" y="181.10" width="9.20" height="2.53" fill="#6d6d6d" stroke="#444" stroke-width="0.7"/>
<line x1="152.00" y1="260.20" x2="154.20" y2="260.20" stroke="#333" stroke-width="0.9"/>
<text x="150.50" y="260.50" font-size="7.3" font-weight="normal" fill="#1e1e1e" text-anchor="end">0</text>
<line x1="152.00" y1="244.38" x2="154.20" y2="244.38" stroke="#333" stroke-width="0.9"/>
<text x="150.50" y="244.68" font-size="7.3" font-weight="normal" fill="#1e1e1e" text-anchor="end">20</text>
<line x1="152.00" y1="228.56" x2="154.20" y2="228.56" stroke="#333" stroke-width="0.9"/>
<text x="150.50" y="228.86" font-size="7.3" font-weight="normal" fill="#1e1e1e" text-anchor="end">40</text>
<line x1="152.00" y1="212.74" x2="154.20" y2="212.74" stroke="#333" stroke-width="0.9"/>
<text x="150.50" y="213.04" font-size="7.3" font-weight="normal" fill="#1e1e1e" text-anchor="end">60</text>
<line x1="152.00" y1="196.92" x2="154.20" y2="196.92" stroke="#333" stroke-width="0.9"/>
<text x="150.50" y="197.22" font-size="7.3" font-weight="normal" fill="#1e1e1e" text-anchor="end">80</text>
<line x1="152.00" y1="181.10" x2="154.20" y2="181.10" stroke="#333" stroke-width="0.9"/>
<text x="150.50" y="181.40" font-size="7.3" font-weight="normal" fill="#1e1e1e" text-anchor="end">100</text>
<line x1="154.20" y1="180.70" x2="154.20" y2="260.20" stroke="#444" stroke-width="1.0"/>
<line x1="154.20" y1="260.20" x2="218.20" y2="260.20" stroke="#444" stroke-width="1.0"/>
<line x1="163.15" y1="260.20" x2="163.15" y2="262.00" stroke="#333" stroke-width="0.7"/>
<line x1="174.55" y1="260.20" x2="174.55" y2="262.00" stroke="#333" stroke-width="0.7"/>
<line x1="185.70" y1="260.20" x2="185.70" y2="262.00" stroke="#333" stroke-width="0.7"/>
<line x1="197.25" y1="260.20" x2="197.25" y2="262.00" stroke="#333" stroke-width="0.7"/>
<line x1="209.00" y1="260.20" x2="209.00" y2="262.00" stroke="#333" stroke-width="0.7"/>
<text x="136.80" y="218.50" font-size="6.5" font-weight="normal" fill="#1e1e1e" text-anchor="middle" transform="rotate(-90 136.8 218.5)">% of EGFRt<tspan font-size="5.2" dy="-2.8">+</tspan></text>
<rect x="217.60" y="181.80" width="9.00" height="4.00" fill="#6d6d6d" stroke="#333" stroke-width="0.8"/>
<text x="228.00" y="186.10" font-size="7.5" font-weight="normal" fill="#1e1e1e" text-anchor="start">T<tspan font-size="4.6" dy="3.3">EFF</tspan></text>
<rect x="217.60" y="192.40" width="9.00" height="4.00" fill="#dcdcdc" stroke="#333" stroke-width="0.8"/>
<text x="228.00" y="196.70" font-size="7.5" font-weight="normal" fill="#1e1e1e" text-anchor="start">T<tspan font-size="4.6" dy="3.3">EM</tspan></text>
<rect x="217.60" y="203.00" width="9.00" height="4.00" fill="#a5a5a5" stroke="#333" stroke-width="0.8"/>
<text x="228.00" y="207.30" font-size="7.5" font-weight="normal" fill="#1e1e1e" text-anchor="start">T<tspan font-size="4.6" dy="3.3">CM</tspan></text>
<rect x="217.60" y="212.50" width="9.00" height="4.00" fill="#000" stroke="#333" stroke-width="0.8"/>
<text x="228.00" y="216.80" font-size="7.5" font-weight="normal" fill="#1e1e1e" text-anchor="start">T<tspan font-size="4.6" dy="3.3">SCM</tspan></text>
<text x="165.65" y="265.00" font-size="7.0" font-weight="bold" fill="#2a6aa3" text-anchor="end" transform="rotate(-47 165.65 265.0)">JCAR017</text>
<text x="177.05" y="265.00" font-size="7.0" font-weight="bold" fill="#b3d6ef" text-anchor="end" transform="rotate(-47 177.05 265.0)">JCAR021</text>
<text x="188.20" y="265.00" font-size="7.0" font-weight="bold" fill="#107d3b" text-anchor="end" transform="rotate(-47 188.2 265.0)">L237W</text>
<text x="199.75" y="265.00" font-size="7.0" font-weight="bold" fill="#6aa67f" text-anchor="end" transform="rotate(-47 199.75 265.0)">M35A</text>
<text x="211.50" y="265.00" font-size="7.0" font-weight="bold" fill="#b5d3c1" text-anchor="end" transform="rotate(-47 211.5 265.0)">V236W</text>
<text x="263.10" y="167.10" font-size="10.5" font-weight="bold" fill="#000" text-anchor="start">e</text>
<line x1="283.30" y1="261.30" x2="285.50" y2="261.30" stroke="#333" stroke-width="0.9"/>
<text x="283.10" y="262.20" font-size="6.3" font-weight="normal" fill="#1e1e1e" text-anchor="end">0</text>
<line x1="283.30" y1="241.73" x2="285.50" y2="241.73" stroke="#333" stroke-width="0.9"/>
<text x="283.10" y="242.63" font-size="6.3" font-weight="normal" fill="#1e1e1e" text-anchor="end">25</text>
<line x1="283.30" y1="222.15" x2="285.50" y2="222.15" stroke="#333" stroke-width="0.9"/>
<text x="283.10" y="223.05" font-size="6.3" font-weight="normal" fill="#1e1e1e" text-anchor="end">50</text>
<line x1="283.30" y1="202.57" x2="285.50" y2="202.57" stroke="#333" stroke-width="0.9"/>
<text x="283.10" y="203.47" font-size="6.3" font-weight="normal" fill="#1e1e1e" text-anchor="end">75</text>
<line x1="283.30" y1="183.00" x2="285.50" y2="183.00" stroke="#333" stroke-width="0.9"/>
<text x="283.10" y="183.90" font-size="6.3" font-weight="normal" fill="#1e1e1e" text-anchor="end">100</text>
<line x1="285.50" y1="261.30" x2="285.50" y2="263.50" stroke="#333" stroke-width="0.8"/>
<text x="285.50" y="269.90" font-size="6.4" font-weight="normal" fill="#1e1e1e" text-anchor="middle">0</text>
<line x1="305.40" y1="261.30" x2="305.40" y2="263.50" stroke="#333" stroke-width="0.8"/>
<text x="305.40" y="269.90" font-size="6.4" font-weight="normal" fill="#1e1e1e" text-anchor="middle">5</text>
<line x1="325.30" y1="261.30" x2="325.30" y2="263.50" stroke="#333" stroke-width="0.8"/>
<text x="325.30" y="269.90" font-size="6.4" font-weight="normal" fill="#1e1e1e" text-anchor="middle">10</text>
<line x1="345.20" y1="261.30" x2="345.20" y2="263.50" stroke="#333" stroke-width="0.8"/>
<text x="345.20" y="269.90" font-size="6.4" font-weight="normal" fill="#1e1e1e" text-anchor="middle">15</text>
<line x1="365.10" y1="261.30" x2="365.10" y2="263.50" stroke="#333" stroke-width="0.8"/>
<text x="365.10" y="269.90" font-size="6.4" font-weight="normal" fill="#1e1e1e" text-anchor="middle">20</text>
<line x1="385.00" y1="261.30" x2="385.00" y2="263.50" stroke="#333" stroke-width="0.8"/>
<text x="385.00" y="269.90" font-size="6.4" font-weight="normal" fill="#1e1e1e" text-anchor="middle">25</text>
<line x1="404.90" y1="261.30" x2="404.90" y2="263.50" stroke="#333" stroke-width="0.8"/>
<text x="404.90" y="269.90" font-size="6.4" font-weight="normal" fill="#1e1e1e" text-anchor="middle">30</text>
<text x="271.50" y="221.50" font-size="7.4" font-weight="normal" fill="#1e1e1e" text-anchor="middle" transform="rotate(-90 271.5 221.5)">% survival</text>
<text x="345.70" y="278.60" font-size="7.4" font-weight="normal" fill="#1e1e1e" text-anchor="middle">days after CAR-T [d]</text>
<path d="M285.50,186.80 L329.28,186.80 L329.28,251.50 L333.26,251.50 L333.26,261.30" fill="none" stroke="#8a8a8a" stroke-width="1.7" stroke-linejoin="miter"/>
<path d="M285.50,185.30 L333.26,185.30 L333.26,223.80 L349.18,223.80 L349.18,261.30" fill="none" stroke="#c0d9c9" stroke-width="1.7" stroke-linejoin="miter"/>
<path d="M285.50,183.80 L361.12,183.80 L361.12,197.30 L373.06,197.30 L373.06,235.70 L388.98,235.70 L388.98,248.60 L392.96,248.60" fill="none" stroke="#037a37" stroke-width="1.7" stroke-linejoin="miter"/>
<path d="M285.50,182.40 L361.12,182.40 L361.12,195.60 L369.08,195.60 L369.08,208.30 L373.06,208.30 L373.06,221.80 L388.98,221.80 L388.98,247.40 L392.96,247.40" fill="none" stroke="#79ad8b" stroke-width="1.7" stroke-linejoin="miter"/>
<path d="M285.50,180.90 L373.06,180.90 L373.06,202.40 L388.98,202.40 L388.98,213.80 L392.96,213.80" fill="none" stroke="#bddff2" stroke-width="1.7" stroke-linejoin="miter"/>
<path d="M285.50,179.20 L392.96,179.20" fill="none" stroke="#1c6399" stroke-width="1.7" stroke-linejoin="miter"/>
<line x1="285.50" y1="178.20" x2="285.50" y2="261.30" stroke="#444" stroke-width="1.0"/>
<line x1="285.50" y1="261.30" x2="404.90" y2="261.30" stroke="#444" stroke-width="1.0"/>
<line x1="407.00" y1="178.90" x2="414.90" y2="178.90" stroke="#1c6399" stroke-width="1.6"/>
<text x="418.90" y="182.00" font-size="8.5" font-weight="normal" fill="#2a6aa3" text-anchor="start">JCAR017</text>
<line x1="407.00" y1="188.00" x2="414.90" y2="188.00" stroke="#bddff2" stroke-width="1.6"/>
<text x="418.90" y="191.10" font-size="8.5" font-weight="normal" fill="#b3d6ef" text-anchor="start">JCAR021</text>
<line x1="407.00" y1="197.10" x2="414.90" y2="197.10" stroke="#037a37" stroke-width="1.6"/>
<text x="418.90" y="200.20" font-size="8.5" font-weight="normal" fill="#107d3b" text-anchor="start">L237W</text>
<line x1="407.00" y1="205.90" x2="414.90" y2="205.90" stroke="#79ad8b" stroke-width="1.6"/>
<text x="418.90" y="209.00" font-size="8.5" font-weight="normal" fill="#6aa67f" text-anchor="start">M35A</text>
<line x1="407.00" y1="214.70" x2="414.90" y2="214.70" stroke="#c0d9c9" stroke-width="1.6"/>
<text x="418.90" y="217.80" font-size="8.5" font-weight="normal" fill="#b5d3c1" text-anchor="start">V236W</text>
<line x1="407.00" y1="223.40" x2="414.90" y2="223.40" stroke="#8a8a8a" stroke-width="1.6"/>
<text x="418.90" y="226.50" font-size="8.5" font-weight="normal" fill="#8a8a8a" text-anchor="start">mock</text>
<path d="M458.0,179.5 L461.6,179.5 L461.6,188.5 L458.0,188.5" fill="none" stroke="#333" stroke-width="0.75"/>
<text x="462.10" y="180.60" font-size="4.9" font-weight="normal" fill="#1e1e1e" text-anchor="start" transform="rotate(90 462.1 180.6)">p = 0.0442</text>
<path d="M467.2,179.5 L470.6,179.5 L470.6,197.3 L467.2,197.3" fill="none" stroke="#333" stroke-width="0.75"/>
<text x="471.60" y="180.60" font-size="4.9" font-weight="normal" fill="#1e1e1e" text-anchor="start" transform="rotate(90 471.6 180.6)">p = 0.0013</text>
<path d="M473.0,179.5 L476.4,179.5 L476.4,205.6 L473.0,205.6" fill="none" stroke="#333" stroke-width="0.75"/>
<text x="477.30" y="180.60" font-size="4.9" font-weight="normal" fill="#1e1e1e" text-anchor="start" transform="rotate(90 477.3 180.6)">p = 0.0013</text>
<path d="M480.0,179.5 L483.3,179.5 L483.3,214.5 L480.0,214.5" fill="none" stroke="#333" stroke-width="0.75"/>
<text x="483.80" y="186.20" font-size="4.9" font-weight="normal" fill="#1e1e1e" text-anchor="start" transform="rotate(90 483.8 186.2)">p = 0.0008</text>
<path d="M486.2,179.5 L489.5,179.5 L489.5,223.2 L486.2,223.2" fill="none" stroke="#333" stroke-width="0.75"/>
<text x="491.00" y="189.10" font-size="4.9" font-weight="normal" fill="#1e1e1e" text-anchor="start" transform="rotate(90 491.0 189.1)">p &lt; 0.0001</text>
<text x="513.40" y="168.90" font-size="10.5" font-weight="bold" fill="#000" text-anchor="start">f</text>
<line x1="544.20" y1="172.50" x2="544.20" y2="240.80" stroke="#444" stroke-width="1.0"/>
<line x1="544.20" y1="246.70" x2="544.20" y2="254.90" stroke="#444" stroke-width="1.0"/>
<line x1="541.60" y1="246.70" x2="544.20" y2="246.70" stroke="#333" stroke-width="0.9"/>
<line x1="544.20" y1="254.90" x2="633.30" y2="254.90" stroke="#444" stroke-width="1.0"/>
<line x1="541.40" y1="197.90" x2="544.20" y2="197.90" stroke="#333" stroke-width="0.9"/>
<line x1="541.40" y1="240.80" x2="544.20" y2="240.80" stroke="#333" stroke-width="0.9"/>
<line x1="542.40" y1="227.89" x2="544.20" y2="227.89" stroke="#444" stroke-width="0.6"/>
<line x1="542.40" y1="220.33" x2="544.20" y2="220.33" stroke="#444" stroke-width="0.6"/>
<line x1="542.40" y1="214.97" x2="544.20" y2="214.97" stroke="#444" stroke-width="0.6"/>
<line x1="542.40" y1="210.81" x2="544.20" y2="210.81" stroke="#444" stroke-width="0.6"/>
<line x1="542.40" y1="207.42" x2="544.20" y2="207.42" stroke="#444" stroke-width="0.6"/>
<line x1="542.40" y1="204.55" x2="544.20" y2="204.55" stroke="#444" stroke-width="0.6"/>
<line x1="542.40" y1="202.06" x2="544.20" y2="202.06" stroke="#444" stroke-width="0.6"/>
<line x1="542.40" y1="199.86" x2="544.20" y2="199.86" stroke="#444" stroke-width="0.6"/>
<line x1="542.40" y1="184.99" x2="544.20" y2="184.99" stroke="#444" stroke-width="0.6"/>
<line x1="542.40" y1="177.43" x2="544.20" y2="177.43" stroke="#444" stroke-width="0.6"/>
<line x1="542.40" y1="172.07" x2="544.20" y2="172.07" stroke="#444" stroke-width="0.6"/>
<text x="542.80" y="195.60" font-size="6.4" font-weight="normal" fill="#1e1e1e" text-anchor="end">10<tspan font-size="3.8" dy="-2.8">7</tspan></text>
<text x="542.80" y="241.40" font-size="6.4" font-weight="normal" fill="#1e1e1e" text-anchor="end">10<tspan font-size="3.8" dy="-2.8">6</tspan></text>
<text x="542.80" y="253.80" font-size="6.4" font-weight="normal" fill="#1e1e1e" text-anchor="end">10<tspan font-size="3.8" dy="-2.8">4</tspan></text>
<line x1="556.50" y1="254.90" x2="556.50" y2="257.40" stroke="#333" stroke-width="0.9"/>
<text x="556.50" y="264.40" font-size="6.6" font-weight="normal" fill="#1e1e1e" text-anchor="middle">0</text>
<line x1="581.90" y1="254.90" x2="581.90" y2="257.40" stroke="#333" stroke-width="0.9"/>
<text x="581.90" y="264.40" font-size="6.6" font-weight="normal" fill="#1e1e1e" text-anchor="middle">10</text>
<line x1="607.30" y1="254.90" x2="607.30" y2="257.40" stroke="#333" stroke-width="0.9"/>
<text x="607.30" y="264.40" font-size="6.6" font-weight="normal" fill="#1e1e1e" text-anchor="middle">20</text>
<line x1="632.70" y1="254.90" x2="632.70" y2="257.40" stroke="#333" stroke-width="0.9"/>
<text x="632.70" y="264.40" font-size="6.6" font-weight="normal" fill="#1e1e1e" text-anchor="middle">30</text>
<text x="592.20" y="274.60" font-size="7.6" font-weight="normal" fill="#1e1e1e" text-anchor="middle">days after CAR-T [d]</text>
<text x="521.00" y="214.20" font-size="7.6" font-weight="normal" fill="#1e1e1e" text-anchor="middle" transform="rotate(-90 521.0 214.2)">avgerage radiance</text>
<text x="528.60" y="214.60" font-size="7.2" font-weight="normal" fill="#1e1e1e" text-anchor="middle" transform="rotate(-90 528.6 214.6)">(p/s/cm<tspan font-size="4.8" dy="-2.8">2</tspan><tspan dy="2.8">/sr)</tspan></text>
<path d="M554.00,251.90 L571.40,196.50 L589.20,189.50 L607.20,189.00" fill="none" stroke="#c0d9c9" stroke-width="1.8" stroke-linejoin="round"/>
<line x1="571.40" y1="196.50" x2="571.40" y2="194.00" stroke="#c0d9c9" stroke-width="1.1"/>
<line x1="569.70" y1="194.00" x2="573.10" y2="194.00" stroke="#c0d9c9" stroke-width="1.1"/>
<circle cx="571.40" cy="196.50" r="1.30" fill="#c0d9c9" stroke="none" stroke-width="0.5"/>
<circle cx="589.20" cy="189.50" r="1.30" fill="#c0d9c9" stroke="none" stroke-width="0.5"/>
<circle cx="607.20" cy="189.00" r="1.30" fill="#c0d9c9" stroke="none" stroke-width="0.5"/>
<path d="M554.00,251.90 L571.40,199.00 L589.20,190.00 L607.20,189.00" fill="none" stroke="#79ad8b" stroke-width="1.8" stroke-linejoin="round"/>
<circle cx="571.40" cy="199.00" r="1.30" fill="#79ad8b" stroke="none" stroke-width="0.5"/>
<circle cx="589.20" cy="190.00" r="1.30" fill="#79ad8b" stroke="none" stroke-width="0.5"/>
<circle cx="607.20" cy="189.00" r="1.30" fill="#79ad8b" stroke="none" stroke-width="0.5"/>
<path d="M554.00,251.90 L571.40,201.00 L589.20,190.20 L607.20,183.00 L624.60,190.20" fill="none" stroke="#037a37" stroke-width="1.8" stroke-linejoin="round"/>
<line x1="607.20" y1="183.00" x2="607.20" y2="176.50" stroke="#037a37" stroke-width="1.1"/>
<line x1="605.50" y1="176.50" x2="608.90" y2="176.50" stroke="#037a37" stroke-width="1.1"/>
<circle cx="571.40" cy="201.00" r="1.30" fill="#037a37" stroke="none" stroke-width="0.5"/>
<circle cx="589.20" cy="190.20" r="1.30" fill="#037a37" stroke="none" stroke-width="0.5"/>
<circle cx="607.20" cy="183.00" r="1.30" fill="#037a37" stroke="none" stroke-width="0.5"/>
<circle cx="624.60" cy="190.20" r="1.30" fill="#037a37" stroke="none" stroke-width="0.5"/>
<path d="M554.00,251.90 L571.40,210.00 L589.20,188.00 L607.20,186.50 L624.60,189.50" fill="none" stroke="#bddff2" stroke-width="1.8" stroke-linejoin="round"/>
<line x1="571.40" y1="210.00" x2="571.40" y2="205.00" stroke="#bddff2" stroke-width="1.1"/>
<line x1="569.70" y1="205.00" x2="573.10" y2="205.00" stroke="#bddff2" stroke-width="1.1"/>
<line x1="589.20" y1="188.00" x2="589.20" y2="184.00" stroke="#bddff2" stroke-width="1.1"/>
<line x1="587.50" y1="184.00" x2="590.90" y2="184.00" stroke="#bddff2" stroke-width="1.1"/>
<line x1="624.60" y1="189.50" x2="624.60" y2="184.50" stroke="#bddff2" stroke-width="1.1"/>
<line x1="622.90" y1="184.50" x2="626.30" y2="184.50" stroke="#bddff2" stroke-width="1.1"/>
<circle cx="571.40" cy="210.00" r="1.30" fill="#bddff2" stroke="none" stroke-width="0.5"/>
<circle cx="589.20" cy="188.00" r="1.30" fill="#bddff2" stroke="none" stroke-width="0.5"/>
<circle cx="607.20" cy="186.50" r="1.30" fill="#bddff2" stroke="none" stroke-width="0.5"/>
<circle cx="624.60" cy="189.50" r="1.30" fill="#bddff2" stroke="none" stroke-width="0.5"/>
<path d="M554.00,251.90 L571.40,218.00 L589.20,203.20 L607.20,201.00 L624.60,210.50" fill="none" stroke="#1c6399" stroke-width="1.8" stroke-linejoin="round"/>
<line x1="589.20" y1="203.20" x2="589.20" y2="196.00" stroke="#1c6399" stroke-width="1.1"/>
<line x1="587.50" y1="196.00" x2="590.90" y2="196.00" stroke="#1c6399" stroke-width="1.1"/>
<line x1="607.20" y1="201.00" x2="607.20" y2="193.20" stroke="#1c6399" stroke-width="1.1"/>
<line x1="605.50" y1="193.20" x2="608.90" y2="193.20" stroke="#1c6399" stroke-width="1.1"/>
<line x1="624.60" y1="210.50" x2="624.60" y2="201.50" stroke="#1c6399" stroke-width="1.1"/>
<line x1="622.90" y1="201.50" x2="626.30" y2="201.50" stroke="#1c6399" stroke-width="1.1"/>
<circle cx="571.40" cy="218.00" r="1.30" fill="#1c6399" stroke="none" stroke-width="0.5"/>
<circle cx="589.20" cy="203.20" r="1.30" fill="#1c6399" stroke="none" stroke-width="0.5"/>
<circle cx="607.20" cy="201.00" r="1.30" fill="#1c6399" stroke="none" stroke-width="0.5"/>
<circle cx="624.60" cy="210.50" r="1.30" fill="#1c6399" stroke="none" stroke-width="0.5"/>
<circle cx="554.00" cy="251.90" r="1.60" fill="#1c6399" stroke="none" stroke-width="0.5"/>
<path d="M627.0,190.5 L629.8,190.5 L629.8,212.4 L627.0,212.4" fill="none" stroke="#333" stroke-width="0.75"/>
<text x="631.40" y="190.80" font-size="4.9" font-weight="normal" fill="#1e1e1e" text-anchor="start" transform="rotate(90 631.4 190.8)">p = 0.0085</text>
<text x="4.10" y="314.40" font-size="10.5" font-weight="bold" fill="#000" text-anchor="start">g</text>
<text x="21.50" y="371.60" font-size="7.2" font-weight="normal" fill="#1e1e1e" text-anchor="middle" transform="rotate(-90 21.5 371.6)">abs. counts EGFRt<tspan font-size="5.8" dy="-3.2">+</tspan></text>
<text x="29.30" y="371.60" font-size="7.2" font-weight="normal" fill="#1e1e1e" text-anchor="middle" transform="rotate(-90 29.3 371.6)">(100 µl)</text>
<line x1="45.40" y1="322.90" x2="45.40" y2="420.40" stroke="#444" stroke-width="1.0"/>
<line x1="45.40" y1="420.40" x2="102.60" y2="420.40" stroke="#444" stroke-width="1.0"/>
<line x1="42.40" y1="420.40" x2="45.40" y2="420.40" stroke="#333" stroke-width="0.9"/>
<text x="42.00" y="420.60" font-size="6.8" font-weight="normal" fill="#1e1e1e" text-anchor="end">10<tspan font-size="3.74" dy="-3.40">0</tspan></text>
<line x1="43.20" y1="413.06" x2="45.40" y2="413.06" stroke="#555" stroke-width="0.6"/>
<line x1="43.20" y1="408.77" x2="45.40" y2="408.77" stroke="#555" stroke-width="0.6"/>
<line x1="43.20" y1="405.72" x2="45.40" y2="405.72" stroke="#555" stroke-width="0.6"/>
<line x1="43.20" y1="403.36" x2="45.40" y2="403.36" stroke="#555" stroke-width="0.6"/>
<line x1="43.20" y1="401.43" x2="45.40" y2="401.43" stroke="#555" stroke-width="0.6"/>
<line x1="43.20" y1="399.80" x2="45.40" y2="399.80" stroke="#555" stroke-width="0.6"/>
<line x1="43.20" y1="398.39" x2="45.40" y2="398.39" stroke="#555" stroke-width="0.6"/>
<line x1="43.20" y1="397.14" x2="45.40" y2="397.14" stroke="#555" stroke-width="0.6"/>
<line x1="42.40" y1="396.02" x2="45.40" y2="396.02" stroke="#333" stroke-width="0.9"/>
<text x="42.00" y="396.22" font-size="6.8" font-weight="normal" fill="#1e1e1e" text-anchor="end">10<tspan font-size="3.74" dy="-3.40">1</tspan></text>
<line x1="43.20" y1="388.69" x2="45.40" y2="388.69" stroke="#555" stroke-width="0.6"/>
<line x1="43.20" y1="384.40" x2="45.40" y2="384.40" stroke="#555" stroke-width="0.6"/>
<line x1="43.20" y1="381.35" x2="45.40" y2="381.35" stroke="#555" stroke-width="0.6"/>
<line x1="43.20" y1="378.99" x2="45.40" y2="378.99" stroke="#555" stroke-width="0.6"/>
<line x1="43.20" y1="377.06" x2="45.40" y2="377.06" stroke="#555" stroke-width="0.6"/>
<line x1="43.20" y1="375.43" x2="45.40" y2="375.43" stroke="#555" stroke-width="0.6"/>
<line x1="43.20" y1="374.01" x2="45.40" y2="374.01" stroke="#555" stroke-width="0.6"/>
<line x1="43.20" y1="372.77" x2="45.40" y2="372.77" stroke="#555" stroke-width="0.6"/>
<line x1="42.40" y1="371.65" x2="45.40" y2="371.65" stroke="#333" stroke-width="0.9"/>
<text x="42.00" y="371.85" font-size="6.8" font-weight="normal" fill="#1e1e1e" text-anchor="end">10<tspan font-size="3.74" dy="-3.40">2</tspan></text>
<line x1="43.20" y1="364.31" x2="45.40" y2="364.31" stroke="#555" stroke-width="0.6"/>
<line x1="43.20" y1="360.02" x2="45.40" y2="360.02" stroke="#555" stroke-width="0.6"/>
<line x1="43.20" y1="356.97" x2="45.40" y2="356.97" stroke="#555" stroke-width="0.6"/>
<line x1="43.20" y1="354.61" x2="45.40" y2="354.61" stroke="#555" stroke-width="0.6"/>
<line x1="43.20" y1="352.68" x2="45.40" y2="352.68" stroke="#555" stroke-width="0.6"/>
<line x1="43.20" y1="351.05" x2="45.40" y2="351.05" stroke="#555" stroke-width="0.6"/>
<line x1="43.20" y1="349.64" x2="45.40" y2="349.64" stroke="#555" stroke-width="0.6"/>
<line x1="43.20" y1="348.39" x2="45.40" y2="348.39" stroke="#555" stroke-width="0.6"/>
<line x1="42.40" y1="347.27" x2="45.40" y2="347.27" stroke="#333" stroke-width="0.9"/>
<text x="42.00" y="347.47" font-size="6.8" font-weight="normal" fill="#1e1e1e" text-anchor="end">10<tspan font-size="3.74" dy="-3.40">3</tspan></text>
<line x1="43.20" y1="339.94" x2="45.40" y2="339.94" stroke="#555" stroke-width="0.6"/>
<line x1="43.20" y1="335.65" x2="45.40" y2="335.65" stroke="#555" stroke-width="0.6"/>
<line x1="43.20" y1="332.60" x2="45.40" y2="332.60" stroke="#555" stroke-width="0.6"/>
<line x1="43.20" y1="330.24" x2="45.40" y2="330.24" stroke="#555" stroke-width="0.6"/>
<line x1="43.20" y1="328.31" x2="45.40" y2="328.31" stroke="#555" stroke-width="0.6"/>
<line x1="43.20" y1="326.68" x2="45.40" y2="326.68" stroke="#555" stroke-width="0.6"/>
<line x1="43.20" y1="325.26" x2="45.40" y2="325.26" stroke="#555" stroke-width="0.6"/>
<line x1="43.20" y1="324.02" x2="45.40" y2="324.02" stroke="#555" stroke-width="0.6"/>
<line x1="42.40" y1="322.90" x2="45.40" y2="322.90" stroke="#333" stroke-width="0.9"/>
<text x="42.00" y="323.10" font-size="6.8" font-weight="normal" fill="#1e1e1e" text-anchor="end">10<tspan font-size="3.74" dy="-3.40">4</tspan></text>
<line x1="113.20" y1="322.90" x2="113.20" y2="420.40" stroke="#444" stroke-width="1.0"/>
<line x1="113.20" y1="420.40" x2="171.50" y2="420.40" stroke="#444" stroke-width="1.0"/>
<line x1="110.20" y1="420.40" x2="113.20" y2="420.40" stroke="#333" stroke-width="0.9"/>
<line x1="111.00" y1="413.06" x2="113.20" y2="413.06" stroke="#555" stroke-width="0.6"/>
<line x1="111.00" y1="408.77" x2="113.20" y2="408.77" stroke="#555" stroke-width="0.6"/>
<line x1="111.00" y1="405.72" x2="113.20" y2="405.72" stroke="#555" stroke-width="0.6"/>
<line x1="111.00" y1="403.36" x2="113.20" y2="403.36" stroke="#555" stroke-width="0.6"/>
<line x1="111.00" y1="401.43" x2="113.20" y2="401.43" stroke="#555" stroke-width="0.6"/>
<line x1="111.00" y1="399.80" x2="113.20" y2="399.80" stroke="#555" stroke-width="0.6"/>
<line x1="111.00" y1="398.39" x2="113.20" y2="398.39" stroke="#555" stroke-width="0.6"/>
<line x1="111.00" y1="397.14" x2="113.20" y2="397.14" stroke="#555" stroke-width="0.6"/>
<line x1="110.20" y1="396.02" x2="113.20" y2="396.02" stroke="#333" stroke-width="0.9"/>
<line x1="111.00" y1="388.69" x2="113.20" y2="388.69" stroke="#555" stroke-width="0.6"/>
<line x1="111.00" y1="384.40" x2="113.20" y2="384.40" stroke="#555" stroke-width="0.6"/>
<line x1="111.00" y1="381.35" x2="113.20" y2="381.35" stroke="#555" stroke-width="0.6"/>
<line x1="111.00" y1="378.99" x2="113.20" y2="378.99" stroke="#555" stroke-width="0.6"/>
<line x1="111.00" y1="377.06" x2="113.20" y2="377.06" stroke="#555" stroke-width="0.6"/>
<line x1="111.00" y1="375.43" x2="113.20" y2="375.43" stroke="#555" stroke-width="0.6"/>
<line x1="111.00" y1="374.01" x2="113.20" y2="374.01" stroke="#555" stroke-width="0.6"/>
<line x1="111.00" y1="372.77" x2="113.20" y2="372.77" stroke="#555" stroke-width="0.6"/>
<line x1="110.20" y1="371.65" x2="113.20" y2="371.65" stroke="#333" stroke-width="0.9"/>
<line x1="111.00" y1="364.31" x2="113.20" y2="364.31" stroke="#555" stroke-width="0.6"/>
<line x1="111.00" y1="360.02" x2="113.20" y2="360.02" stroke="#555" stroke-width="0.6"/>
<line x1="111.00" y1="356.97" x2="113.20" y2="356.97" stroke="#555" stroke-width="0.6"/>
<line x1="111.00" y1="354.61" x2="113.20" y2="354.61" stroke="#555" stroke-width="0.6"/>
<line x1="111.00" y1="352.68" x2="113.20" y2="352.68" stroke="#555" stroke-width="0.6"/>
<line x1="111.00" y1="351.05" x2="113.20" y2="351.05" stroke="#555" stroke-width="0.6"/>
<line x1="111.00" y1="349.64" x2="113.20" y2="349.64" stroke="#555" stroke-width="0.6"/>
<line x1="111.00" y1="348.39" x2="113.20" y2="348.39" stroke="#555" stroke-width="0.6"/>
<line x1="110.20" y1="347.27" x2="113.20" y2="347.27" stroke="#333" stroke-width="0.9"/>
<line x1="111.00" y1="339.94" x2="113.20" y2="339.94" stroke="#555" stroke-width="0.6"/>
<line x1="111.00" y1="335.65" x2="113.20" y2="335.65" stroke="#555" stroke-width="0.6"/>
<line x1="111.00" y1="332.60" x2="113.20" y2="332.60" stroke="#555" stroke-width="0.6"/>
<line x1="111.00" y1="330.24" x2="113.20" y2="330.24" stroke="#555" stroke-width="0.6"/>
<line x1="111.00" y1="328.31" x2="113.20" y2="328.31" stroke="#555" stroke-width="0.6"/>
<line x1="111.00" y1="326.68" x2="113.20" y2="326.68" stroke="#555" stroke-width="0.6"/>
<line x1="111.00" y1="325.26" x2="113.20" y2="325.26" stroke="#555" stroke-width="0.6"/>
<line x1="111.00" y1="324.02" x2="113.20" y2="324.02" stroke="#555" stroke-width="0.6"/>
<line x1="110.20" y1="322.90" x2="113.20" y2="322.90" stroke="#333" stroke-width="0.9"/>
<line x1="182.30" y1="322.90" x2="182.30" y2="420.40" stroke="#444" stroke-width="1.0"/>
<line x1="182.30" y1="420.40" x2="240.80" y2="420.40" stroke="#444" stroke-width="1.0"/>
<line x1="179.30" y1="420.40" x2="182.30" y2="420.40" stroke="#333" stroke-width="0.9"/>
<line x1="180.10" y1="413.06" x2="182.30" y2="413.06" stroke="#555" stroke-width="0.6"/>
<line x1="180.10" y1="408.77" x2="182.30" y2="408.77" stroke="#555" stroke-width="0.6"/>
<line x1="180.10" y1="405.72" x2="182.30" y2="405.72" stroke="#555" stroke-width="0.6"/>
<line x1="180.10" y1="403.36" x2="182.30" y2="403.36" stroke="#555" stroke-width="0.6"/>
<line x1="180.10" y1="401.43" x2="182.30" y2="401.43" stroke="#555" stroke-width="0.6"/>
<line x1="180.10" y1="399.80" x2="182.30" y2="399.80" stroke="#555" stroke-width="0.6"/>
<line x1="180.10" y1="398.39" x2="182.30" y2="398.39" stroke="#555" stroke-width="0.6"/>
<line x1="180.10" y1="397.14" x2="182.30" y2="397.14" stroke="#555" stroke-width="0.6"/>
<line x1="179.30" y1="396.02" x2="182.30" y2="396.02" stroke="#333" stroke-width="0.9"/>
<line x1="180.10" y1="388.69" x2="182.30" y2="388.69" stroke="#555" stroke-width="0.6"/>
<line x1="180.10" y1="384.40" x2="182.30" y2="384.40" stroke="#555" stroke-width="0.6"/>
<line x1="180.10" y1="381.35" x2="182.30" y2="381.35" stroke="#555" stroke-width="0.6"/>
<line x1="180.10" y1="378.99" x2="182.30" y2="378.99" stroke="#555" stroke-width="0.6"/>
<line x1="180.10" y1="377.06" x2="182.30" y2="377.06" stroke="#555" stroke-width="0.6"/>
<line x1="180.10" y1="375.43" x2="182.30" y2="375.43" stroke="#555" stroke-width="0.6"/>
<line x1="180.10" y1="374.01" x2="182.30" y2="374.01" stroke="#555" stroke-width="0.6"/>
<line x1="180.10" y1="372.77" x2="182.30" y2="372.77" stroke="#555" stroke-width="0.6"/>
<line x1="179.30" y1="371.65" x2="182.30" y2="371.65" stroke="#333" stroke-width="0.9"/>
<line x1="180.10" y1="364.31" x2="182.30" y2="364.31" stroke="#555" stroke-width="0.6"/>
<line x1="180.10" y1="360.02" x2="182.30" y2="360.02" stroke="#555" stroke-width="0.6"/>
<line x1="180.10" y1="356.97" x2="182.30" y2="356.97" stroke="#555" stroke-width="0.6"/>
<line x1="180.10" y1="354.61" x2="182.30" y2="354.61" stroke="#555" stroke-width="0.6"/>
<line x1="180.10" y1="352.68" x2="182.30" y2="352.68" stroke="#555" stroke-width="0.6"/>
<line x1="180.10" y1="351.05" x2="182.30" y2="351.05" stroke="#555" stroke-width="0.6"/>
<line x1="180.10" y1="349.64" x2="182.30" y2="349.64" stroke="#555" stroke-width="0.6"/>
<line x1="180.10" y1="348.39" x2="182.30" y2="348.39" stroke="#555" stroke-width="0.6"/>
<line x1="179.30" y1="347.27" x2="182.30" y2="347.27" stroke="#333" stroke-width="0.9"/>
<line x1="180.10" y1="339.94" x2="182.30" y2="339.94" stroke="#555" stroke-width="0.6"/>
<line x1="180.10" y1="335.65" x2="182.30" y2="335.65" stroke="#555" stroke-width="0.6"/>
<line x1="180.10" y1="332.60" x2="182.30" y2="332.60" stroke="#555" stroke-width="0.6"/>
<line x1="180.10" y1="330.24" x2="182.30" y2="330.24" stroke="#555" stroke-width="0.6"/>
<line x1="180.10" y1="328.31" x2="182.30" y2="328.31" stroke="#555" stroke-width="0.6"/>
<line x1="180.10" y1="326.68" x2="182.30" y2="326.68" stroke="#555" stroke-width="0.6"/>
<line x1="180.10" y1="325.26" x2="182.30" y2="325.26" stroke="#555" stroke-width="0.6"/>
<line x1="180.10" y1="324.02" x2="182.30" y2="324.02" stroke="#555" stroke-width="0.6"/>
<line x1="179.30" y1="322.90" x2="182.30" y2="322.90" stroke="#333" stroke-width="0.9"/>
<line x1="45.40" y1="403.80" x2="102.60" y2="403.80" stroke="#333" stroke-width="0.7" stroke-dasharray="1.2 1.0"/>
<line x1="113.20" y1="403.80" x2="171.50" y2="403.80" stroke="#333" stroke-width="0.7" stroke-dasharray="1.2 1.0"/>
<line x1="182.30" y1="403.80" x2="240.80" y2="403.80" stroke="#333" stroke-width="0.7" stroke-dasharray="1.2 1.0"/>
<rect x="49.30" y="378.00" width="8.70" height="42.40" fill="#1c6399" stroke="#2a2a2a" stroke-width="0.8"/>
<rect x="60.00" y="399.20" width="8.50" height="21.20" fill="#bddff2" stroke="#2a2a2a" stroke-width="0.8"/>
<rect x="70.20" y="410.00" width="8.50" height="10.40" fill="#037a37" stroke="#2a2a2a" stroke-width="0.8"/>
<rect x="80.30" y="393.90" width="8.30" height="26.50" fill="#79ad8b" stroke="#2a2a2a" stroke-width="0.8"/>
<rect x="90.50" y="383.00" width="8.50" height="37.40" fill="#c0d9c9" stroke="#2a2a2a" stroke-width="0.8"/>
<line x1="53.65" y1="378.00" x2="53.65" y2="367.50" stroke="#111" stroke-width="0.7"/>
<line x1="51.65" y1="367.50" x2="55.65" y2="367.50" stroke="#111" stroke-width="0.7"/>
<circle cx="55.22" cy="370.00" r="1.00" fill="#111" stroke="none" stroke-width="0.5"/>
<circle cx="52.86" cy="372.00" r="1.00" fill="#111" stroke="none" stroke-width="0.5"/>
<circle cx="53.49" cy="375.00" r="1.00" fill="#111" stroke="none" stroke-width="0.5"/>
<circle cx="52.26" cy="382.00" r="1.00" fill="#111" stroke="none" stroke-width="0.5"/>
<circle cx="55.55" cy="386.00" r="1.00" fill="#111" stroke="none" stroke-width="0.5"/>
<circle cx="52.33" cy="389.00" r="1.00" fill="#111" stroke="none" stroke-width="0.5"/>
<circle cx="54.32" cy="368.00" r="1.00" fill="#111" stroke="none" stroke-width="0.5"/>
<line x1="64.25" y1="399.20" x2="64.25" y2="392.00" stroke="#111" stroke-width="0.7"/>
<line x1="62.25" y1="392.00" x2="66.25" y2="392.00" stroke="#111" stroke-width="0.7"/>
<circle cx="63.59" cy="393.00" r="1.00" fill="#111" stroke="none" stroke-width="0.5"/>
<circle cx="64.70" cy="394.00" r="1.00" fill="#111" stroke="none" stroke-width="0.5"/>
<circle cx="62.41" cy="396.00" r="1.00" fill="#111" stroke="none" stroke-width="0.5"/>
<circle cx="66.06" cy="408.00" r="1.00" fill="#111" stroke="none" stroke-width="0.5"/>
<line x1="74.45" y1="410.00" x2="74.45" y2="403.00" stroke="#111" stroke-width="0.7"/>
<line x1="72.45" y1="403.00" x2="76.45" y2="403.00" stroke="#111" stroke-width="0.7"/>
<circle cx="72.85" cy="402.00" r="1.00" fill="#111" stroke="none" stroke-width="0.5"/>
<circle cx="74.80" cy="406.00" r="1.00" fill="#111" stroke="none" stroke-width="0.5"/>
<circle cx="76.28" cy="409.00" r="1.00" fill="#111" stroke="none" stroke-width="0.5"/>
<line x1="84.45" y1="393.90" x2="84.45" y2="387.00" stroke="#111" stroke-width="0.7"/>
<line x1="82.45" y1="387.00" x2="86.45" y2="387.00" stroke="#111" stroke-width="0.7"/>
<circle cx="83.65" cy="390.00" r="1.00" fill="#111" stroke="none" stroke-width="0.5"/>
<circle cx="84.46" cy="393.00" r="1.00" fill="#111" stroke="none" stroke-width="0.5"/>
<circle cx="84.68" cy="395.00" r="1.00" fill="#111" stroke="none" stroke-width="0.5"/>
<circle cx="84.31" cy="397.00" r="1.00" fill="#111" stroke="none" stroke-width="0.5"/>
<circle cx="84.77" cy="392.00" r="1.00" fill="#111" stroke="none" stroke-width="0.5"/>
<line x1="94.75" y1="383.00" x2="94.75" y2="374.50" stroke="#111" stroke-width="0.7"/>
<line x1="92.75" y1="374.50" x2="96.75" y2="374.50" stroke="#111" stroke-width="0.7"/>
<circle cx="96.10" cy="374.00" r="1.00" fill="#111" stroke="none" stroke-width="0.5"/>
<circle cx="94.81" cy="377.00" r="1.00" fill="#111" stroke="none" stroke-width="0.5"/>
<circle cx="93.30" cy="380.00" r="1.00" fill="#111" stroke="none" stroke-width="0.5"/>
<circle cx="93.33" cy="384.00" r="1.00" fill="#111" stroke="none" stroke-width="0.5"/>
<circle cx="94.04" cy="388.00" r="1.00" fill="#111" stroke="none" stroke-width="0.5"/>
<circle cx="96.15" cy="391.00" r="1.00" fill="#111" stroke="none" stroke-width="0.5"/>
<circle cx="62.50" cy="421.60" r="0.70" fill="#111" stroke="none" stroke-width="0.5"/>
<circle cx="65.00" cy="421.60" r="0.70" fill="#111" stroke="none" stroke-width="0.5"/>
<circle cx="72.50" cy="421.60" r="0.70" fill="#111" stroke="none" stroke-width="0.5"/>
<circle cx="75.00" cy="421.60" r="0.70" fill="#111" stroke="none" stroke-width="0.5"/>
<circle cx="77.50" cy="421.60" r="0.70" fill="#111" stroke="none" stroke-width="0.5"/>
<path d="M53.90,376.00 L53.90,366.30 L63.90,366.30 L63.90,392.00" fill="none" stroke="#333" stroke-width="0.7"/>
<text x="61.00" y="364.00" font-size="4.9" font-weight="normal" fill="#333" text-anchor="middle" font-style="italic">p = 0.0018</text>
<path d="M53.90,366.30 L53.90,358.90 L74.40,358.90 L74.40,401.00" fill="none" stroke="#333" stroke-width="0.7"/>
<text x="63.80" y="356.60" font-size="4.9" font-weight="normal" fill="#333" text-anchor="middle" font-style="italic">p = 0.0002</text>
<rect x="118.20" y="357.00" width="8.60" height="63.40" fill="#1c6399" stroke="#2a2a2a" stroke-width="0.8"/>
<rect x="128.40" y="339.50" width="8.60" height="80.90" fill="#bddff2" stroke="#2a2a2a" stroke-width="0.8"/>
<rect x="139.00" y="347.30" width="8.20" height="73.10" fill="#037a37" stroke="#2a2a2a" stroke-width="0.8"/>
<rect x="149.20" y="337.30" width="8.20" height="83.10" fill="#79ad8b" stroke="#2a2a2a" stroke-width="0.8"/>
<rect x="159.50" y="331.30" width="8.10" height="89.10" fill="#c0d9c9" stroke="#2a2a2a" stroke-width="0.8"/>
<line x1="122.50" y1="357.00" x2="122.50" y2="350.00" stroke="#111" stroke-width="0.7"/>
<line x1="120.50" y1="350.00" x2="124.50" y2="350.00" stroke="#111" stroke-width="0.7"/>
<circle cx="123.53" cy="347.00" r="1.00" fill="#111" stroke="none" stroke-width="0.5"/>
<circle cx="120.97" cy="353.00" r="1.00" fill="#111" stroke="none" stroke-width="0.5"/>
<circle cx="121.62" cy="356.00" r="1.00" fill="#111" stroke="none" stroke-width="0.5"/>
<circle cx="122.62" cy="360.00" r="1.00" fill="#111" stroke="none" stroke-width="0.5"/>
<circle cx="120.81" cy="363.00" r="1.00" fill="#111" stroke="none" stroke-width="0.5"/>
<circle cx="123.34" cy="368.00" r="1.00" fill="#111" stroke="none" stroke-width="0.5"/>
<line x1="132.70" y1="339.50" x2="132.70" y2="334.50" stroke="#111" stroke-width="0.7"/>
<line x1="130.70" y1="334.50" x2="134.70" y2="334.50" stroke="#111" stroke-width="0.7"/>
<circle cx="132.77" cy="335.00" r="1.00" fill="#111" stroke="none" stroke-width="0.5"/>
<circle cx="130.92" cy="337.00" r="1.00" fill="#111" stroke="none" stroke-width="0.5"/>
<circle cx="133.78" cy="338.00" r="1.00" fill="#111" stroke="none" stroke-width="0.5"/>
<circle cx="131.48" cy="340.00" r="1.00" fill="#111" stroke="none" stroke-width="0.5"/>
<circle cx="133.45" cy="343.00" r="1.00" fill="#111" stroke="none" stroke-width="0.5"/>
<line x1="143.10" y1="347.30" x2="143.10" y2="342.50" stroke="#111" stroke-width="0.7"/>
<line x1="141.10" y1="342.50" x2="145.10" y2="342.50" stroke="#111" stroke-width="0.7"/>
<circle cx="143.40" cy="343.00" r="1.00" fill="#111" stroke="none" stroke-width="0.5"/>
<circle cx="143.75" cy="345.00" r="1.00" fill="#111" stroke="none" stroke-width="0.5"/>
<circle cx="143.05" cy="347.00" r="1.00" fill="#111" stroke="none" stroke-width="0.5"/>
<circle cx="143.05" cy="349.00" r="1.00" fill="#111" stroke="none" stroke-width="0.5"/>
<circle cx="142.54" cy="351.00" r="1.00" fill="#111" stroke="none" stroke-width="0.5"/>
<line x1="153.30" y1="337.30" x2="153.30" y2="331.50" stroke="#111" stroke-width="0.7"/>
<line x1="151.30" y1="331.50" x2="155.30" y2="331.50" stroke="#111" stroke-width="0.7"/>
<circle cx="154.77" cy="331.00" r="1.00" fill="#111" stroke="none" stroke-width="0.5"/>
<circle cx="154.57" cy="334.00" r="1.00" fill="#111" stroke="none" stroke-width="0.5"/>
<circle cx="151.66" cy="336.00" r="1.00" fill="#111" stroke="none" stroke-width="0.5"/>
<circle cx="152.31" cy="338.00" r="1.00" fill="#111" stroke="none" stroke-width="0.5"/>
<circle cx="152.38" cy="340.00" r="1.00" fill="#111" stroke="none" stroke-width="0.5"/>
<line x1="163.55" y1="331.30" x2="163.55" y2="328.50" stroke="#111" stroke-width="0.7"/>
<line x1="161.55" y1="328.50" x2="165.55" y2="328.50" stroke="#111" stroke-width="0.7"/>
<circle cx="163.37" cy="329.00" r="1.00" fill="#111" stroke="none" stroke-width="0.5"/>
<circle cx="163.39" cy="331.00" r="1.00" fill="#111" stroke="none" stroke-width="0.5"/>
<circle cx="165.14" cy="333.00" r="1.00" fill="#111" stroke="none" stroke-width="0.5"/>
<circle cx="164.34" cy="335.00" r="1.00" fill="#111" stroke="none" stroke-width="0.5"/>
<path d="M122.50,346.00 L122.50,330.40 L132.70,330.40 L132.70,335.00" fill="none" stroke="#333" stroke-width="0.7"/>
<text x="127.50" y="328.40" font-size="4.9" font-weight="normal" fill="#333" text-anchor="middle" font-style="italic">p = 0.0048</text>
<path d="M122.50,330.40 L122.50,321.80 L153.30,321.80 L153.30,328.60" fill="none" stroke="#333" stroke-width="0.7"/>
<text x="137.60" y="320.00" font-size="4.9" font-weight="normal" fill="#333" text-anchor="middle" font-style="italic">p &lt; 0.0001</text>
<path d="M122.50,321.80 L122.50,314.50 L163.50,314.50 L163.50,328.00" fill="none" stroke="#333" stroke-width="0.7"/>
<rect x="187.00" y="345.70" width="8.30" height="74.70" fill="#1c6399" stroke="#2a2a2a" stroke-width="0.8"/>
<rect x="197.10" y="338.80" width="8.60" height="81.60" fill="#bddff2" stroke="#2a2a2a" stroke-width="0.8"/>
<rect x="207.30" y="338.20" width="8.90" height="82.20" fill="#037a37" stroke="#2a2a2a" stroke-width="0.8"/>
<rect x="217.60" y="342.30" width="8.60" height="78.10" fill="#79ad8b" stroke="#2a2a2a" stroke-width="0.8"/>
<line x1="191.15" y1="345.70" x2="191.15" y2="340.00" stroke="#111" stroke-width="0.7"/>
<line x1="189.15" y1="340.00" x2="193.15" y2="340.00" stroke="#111" stroke-width="0.7"/>
<circle cx="190.73" cy="338.00" r="1.00" fill="#111" stroke="none" stroke-width="0.5"/>
<circle cx="191.81" cy="344.00" r="1.00" fill="#111" stroke="none" stroke-width="0.5"/>
<circle cx="191.98" cy="346.00" r="1.00" fill="#111" stroke="none" stroke-width="0.5"/>
<circle cx="190.80" cy="349.00" r="1.00" fill="#111" stroke="none" stroke-width="0.5"/>
<circle cx="189.94" cy="353.00" r="1.00" fill="#111" stroke="none" stroke-width="0.5"/>
<circle cx="189.40" cy="359.00" r="1.00" fill="#111" stroke="none" stroke-width="0.5"/>
<line x1="201.40" y1="338.80" x2="201.40" y2="333.00" stroke="#111" stroke-width="0.7"/>
<line x1="199.40" y1="333.00" x2="203.40" y2="333.00" stroke="#111" stroke-width="0.7"/>
<circle cx="201.65" cy="330.00" r="1.00" fill="#111" stroke="none" stroke-width="0.5"/>
<circle cx="202.31" cy="336.00" r="1.00" fill="#111" stroke="none" stroke-width="0.5"/>
<circle cx="199.59" cy="338.00" r="1.00" fill="#111" stroke="none" stroke-width="0.5"/>
<circle cx="202.85" cy="340.00" r="1.00" fill="#111" stroke="none" stroke-width="0.5"/>
<circle cx="201.90" cy="348.00" r="1.00" fill="#111" stroke="none" stroke-width="0.5"/>
<circle cx="201.98" cy="358.00" r="1.00" fill="#111" stroke="none" stroke-width="0.5"/>
<line x1="211.75" y1="338.20" x2="211.75" y2="332.00" stroke="#111" stroke-width="0.7"/>
<line x1="209.75" y1="332.00" x2="213.75" y2="332.00" stroke="#111" stroke-width="0.7"/>
<circle cx="211.34" cy="331.00" r="1.00" fill="#111" stroke="none" stroke-width="0.5"/>
<circle cx="213.64" cy="334.00" r="1.00" fill="#111" stroke="none" stroke-width="0.5"/>
<circle cx="212.55" cy="337.00" r="1.00" fill="#111" stroke="none" stroke-width="0.5"/>
<circle cx="210.03" cy="341.00" r="1.00" fill="#111" stroke="none" stroke-width="0.5"/>
<circle cx="211.98" cy="346.00" r="1.00" fill="#111" stroke="none" stroke-width="0.5"/>
<circle cx="210.40" cy="354.00" r="1.00" fill="#111" stroke="none" stroke-width="0.5"/>
<line x1="221.90" y1="342.30" x2="221.90" y2="335.00" stroke="#111" stroke-width="0.7"/>
<line x1="219.90" y1="335.00" x2="223.90" y2="335.00" stroke="#111" stroke-width="0.7"/>
<circle cx="220.58" cy="333.00" r="1.00" fill="#111" stroke="none" stroke-width="0.5"/>
<circle cx="220.84" cy="345.00" r="1.00" fill="#111" stroke="none" stroke-width="0.5"/>
<circle cx="220.08" cy="348.00" r="1.00" fill="#111" stroke="none" stroke-width="0.5"/>
<circle cx="221.58" cy="351.00" r="1.00" fill="#111" stroke="none" stroke-width="0.5"/>
<text x="232.60" y="419.30" font-size="11" font-weight="bold" fill="#111" text-anchor="middle">†</text>
<line x1="74.00" y1="420.40" x2="74.00" y2="423.00" stroke="#333" stroke-width="0.8"/>
<text x="74.00" y="431.20" font-size="7.3" font-weight="normal" fill="#1a1a1a" text-anchor="middle">d7</text>
<line x1="142.60" y1="420.40" x2="142.60" y2="423.00" stroke="#333" stroke-width="0.8"/>
<text x="142.60" y="431.20" font-size="7.3" font-weight="normal" fill="#1a1a1a" text-anchor="middle">d14</text>
<line x1="211.20" y1="420.40" x2="211.20" y2="423.00" stroke="#333" stroke-width="0.8"/>
<text x="211.20" y="431.20" font-size="7.3" font-weight="normal" fill="#1a1a1a" text-anchor="middle">d21</text>
<rect x="250.30" y="332.60" width="10.60" height="4.60" fill="#1c6399" stroke="#444" stroke-width="0.7"/>
<text x="263.10" y="337.60" font-size="7.5" font-weight="bold" fill="#2a6aa3" text-anchor="start">JCAR017</text>
<rect x="250.30" y="341.20" width="10.60" height="4.60" fill="#bddff2" stroke="#444" stroke-width="0.7"/>
<text x="263.10" y="346.20" font-size="7.5" font-weight="bold" fill="#b3d6ef" text-anchor="start">JCAR021</text>
<rect x="250.30" y="348.90" width="10.60" height="4.60" fill="#037a37" stroke="#444" stroke-width="0.7"/>
<text x="263.10" y="353.90" font-size="7.5" font-weight="bold" fill="#107d3b" text-anchor="start">L237W</text>
<rect x="250.30" y="357.30" width="10.60" height="4.60" fill="#79ad8b" stroke="#444" stroke-width="0.7"/>
<text x="263.10" y="362.30" font-size="7.5" font-weight="bold" fill="#6aa67f" text-anchor="start">M35A</text>
<rect x="250.30" y="365.70" width="10.60" height="4.60" fill="#c0d9c9" stroke="#444" stroke-width="0.7"/>
<text x="263.10" y="370.70" font-size="7.5" font-weight="bold" fill="#b5d3c1" text-anchor="start">V236W</text>
<text x="361.30" y="314.20" font-size="10.5" font-weight="bold" fill="#000" text-anchor="start">h</text>
<text x="387.00" y="365.00" font-size="7.2" font-weight="normal" fill="#1e1e1e" text-anchor="middle" transform="rotate(-90 387.0 365.0)">abs. count EGFRt<tspan font-size="5.8" dy="-3.2">+</tspan></text>
<line x1="403.50" y1="321.80" x2="403.50" y2="420.40" stroke="#444" stroke-width="1.0"/>
<line x1="403.50" y1="420.40" x2="460.50" y2="420.40" stroke="#444" stroke-width="1.0"/>
<line x1="400.50" y1="420.40" x2="403.50" y2="420.40" stroke="#333" stroke-width="0.9"/>
<text x="400.10" y="420.60" font-size="6.8" font-weight="normal" fill="#1e1e1e" text-anchor="end">10<tspan font-size="3.74" dy="-3.40">5</tspan></text>
<line x1="401.30" y1="405.56" x2="403.50" y2="405.56" stroke="#555" stroke-width="0.6"/>
<line x1="401.30" y1="396.88" x2="403.50" y2="396.88" stroke="#555" stroke-width="0.6"/>
<line x1="401.30" y1="390.72" x2="403.50" y2="390.72" stroke="#555" stroke-width="0.6"/>
<line x1="401.30" y1="385.94" x2="403.50" y2="385.94" stroke="#555" stroke-width="0.6"/>
<line x1="401.30" y1="382.04" x2="403.50" y2="382.04" stroke="#555" stroke-width="0.6"/>
<line x1="401.30" y1="378.74" x2="403.50" y2="378.74" stroke="#555" stroke-width="0.6"/>
<line x1="401.30" y1="375.88" x2="403.50" y2="375.88" stroke="#555" stroke-width="0.6"/>
<line x1="401.30" y1="373.36" x2="403.50" y2="373.36" stroke="#555" stroke-width="0.6"/>
<line x1="400.50" y1="371.10" x2="403.50" y2="371.10" stroke="#333" stroke-width="0.9"/>
<text x="400.10" y="371.30" font-size="6.8" font-weight="normal" fill="#1e1e1e" text-anchor="end">10<tspan font-size="3.74" dy="-3.40">6</tspan></text>
<line x1="401.30" y1="356.26" x2="403.50" y2="356.26" stroke="#555" stroke-width="0.6"/>
<line x1="401.30" y1="347.58" x2="403.50" y2="347.58" stroke="#555" stroke-width="0.6"/>
<line x1="401.30" y1="341.42" x2="403.50" y2="341.42" stroke="#555" stroke-width="0.6"/>
<line x1="401.30" y1="336.64" x2="403.50" y2="336.64" stroke="#555" stroke-width="0.6"/>
<line x1="401.30" y1="332.74" x2="403.50" y2="332.74" stroke="#555" stroke-width="0.6"/>
<line x1="401.30" y1="329.44" x2="403.50" y2="329.44" stroke="#555" stroke-width="0.6"/>
<line x1="401.30" y1="326.58" x2="403.50" y2="326.58" stroke="#555" stroke-width="0.6"/>
<line x1="401.30" y1="324.06" x2="403.50" y2="324.06" stroke="#555" stroke-width="0.6"/>
<line x1="400.50" y1="321.80" x2="403.50" y2="321.80" stroke="#333" stroke-width="0.9"/>
<text x="400.10" y="322.00" font-size="6.8" font-weight="normal" fill="#1e1e1e" text-anchor="end">10<tspan font-size="3.74" dy="-3.40">7</tspan></text>
<line x1="482.40" y1="322.90" x2="482.40" y2="420.40" stroke="#444" stroke-width="1.0"/>
<line x1="482.40" y1="420.40" x2="540.80" y2="420.40" stroke="#444" stroke-width="1.0"/>
<line x1="479.40" y1="420.40" x2="482.40" y2="420.40" stroke="#333" stroke-width="0.9"/>
<text x="479.00" y="420.60" font-size="6.8" font-weight="normal" fill="#1e1e1e" text-anchor="end">10<tspan font-size="3.74" dy="-3.40">4</tspan></text>
<line x1="480.20" y1="410.62" x2="482.40" y2="410.62" stroke="#555" stroke-width="0.6"/>
<line x1="480.20" y1="404.89" x2="482.40" y2="404.89" stroke="#555" stroke-width="0.6"/>
<line x1="480.20" y1="400.83" x2="482.40" y2="400.83" stroke="#555" stroke-width="0.6"/>
<line x1="480.20" y1="397.68" x2="482.40" y2="397.68" stroke="#555" stroke-width="0.6"/>
<line x1="480.20" y1="395.11" x2="482.40" y2="395.11" stroke="#555" stroke-width="0.6"/>
<line x1="480.20" y1="392.93" x2="482.40" y2="392.93" stroke="#555" stroke-width="0.6"/>
<line x1="480.20" y1="391.05" x2="482.40" y2="391.05" stroke="#555" stroke-width="0.6"/>
<line x1="480.20" y1="389.39" x2="482.40" y2="389.39" stroke="#555" stroke-width="0.6"/>
<line x1="479.40" y1="387.90" x2="482.40" y2="387.90" stroke="#333" stroke-width="0.9"/>
<text x="479.00" y="388.10" font-size="6.8" font-weight="normal" fill="#1e1e1e" text-anchor="end">10<tspan font-size="3.74" dy="-3.40">5</tspan></text>
<line x1="480.20" y1="378.12" x2="482.40" y2="378.12" stroke="#555" stroke-width="0.6"/>
<line x1="480.20" y1="372.39" x2="482.40" y2="372.39" stroke="#555" stroke-width="0.6"/>
<line x1="480.20" y1="368.33" x2="482.40" y2="368.33" stroke="#555" stroke-width="0.6"/>
<line x1="480.20" y1="365.18" x2="482.40" y2="365.18" stroke="#555" stroke-width="0.6"/>
<line x1="480.20" y1="362.61" x2="482.40" y2="362.61" stroke="#555" stroke-width="0.6"/>
<line x1="480.20" y1="360.43" x2="482.40" y2="360.43" stroke="#555" stroke-width="0.6"/>
<line x1="480.20" y1="358.55" x2="482.40" y2="358.55" stroke="#555" stroke-width="0.6"/>
<line x1="480.20" y1="356.89" x2="482.40" y2="356.89" stroke="#555" stroke-width="0.6"/>
<line x1="479.40" y1="355.40" x2="482.40" y2="355.40" stroke="#333" stroke-width="0.9"/>
<text x="479.00" y="355.60" font-size="6.8" font-weight="normal" fill="#1e1e1e" text-anchor="end">10<tspan font-size="3.74" dy="-3.40">6</tspan></text>
<line x1="480.20" y1="345.62" x2="482.40" y2="345.62" stroke="#555" stroke-width="0.6"/>
<line x1="480.20" y1="339.89" x2="482.40" y2="339.89" stroke="#555" stroke-width="0.6"/>
<line x1="480.20" y1="335.83" x2="482.40" y2="335.83" stroke="#555" stroke-width="0.6"/>
<line x1="480.20" y1="332.68" x2="482.40" y2="332.68" stroke="#555" stroke-width="0.6"/>
<line x1="480.20" y1="330.11" x2="482.40" y2="330.11" stroke="#555" stroke-width="0.6"/>
<line x1="480.20" y1="327.93" x2="482.40" y2="327.93" stroke="#555" stroke-width="0.6"/>
<line x1="480.20" y1="326.05" x2="482.40" y2="326.05" stroke="#555" stroke-width="0.6"/>
<line x1="480.20" y1="324.39" x2="482.40" y2="324.39" stroke="#555" stroke-width="0.6"/>
<line x1="479.40" y1="322.90" x2="482.40" y2="322.90" stroke="#333" stroke-width="0.9"/>
<text x="479.00" y="323.10" font-size="6.8" font-weight="normal" fill="#1e1e1e" text-anchor="end">10<tspan font-size="3.74" dy="-3.40">7</tspan></text>
<rect x="408.00" y="350.80" width="8.40" height="69.60" fill="#1c6399" stroke="#2a2a2a" stroke-width="0.8"/>
<rect x="418.30" y="367.00" width="8.40" height="53.40" fill="#bddff2" stroke="#2a2a2a" stroke-width="0.8"/>
<rect x="428.50" y="373.50" width="8.40" height="46.90" fill="#037a37" stroke="#2a2a2a" stroke-width="0.8"/>
<rect x="438.70" y="364.00" width="8.60" height="56.40" fill="#79ad8b" stroke="#2a2a2a" stroke-width="0.8"/>
<rect x="449.40" y="388.00" width="8.60" height="32.40" fill="#c0d9c9" stroke="#2a2a2a" stroke-width="0.8"/>
<line x1="412.20" y1="350.80" x2="412.20" y2="342.00" stroke="#111" stroke-width="0.7"/>
<line x1="410.20" y1="342.00" x2="414.20" y2="342.00" stroke="#111" stroke-width="0.7"/>
<circle cx="412.34" cy="342.00" r="1.00" fill="#111" stroke="none" stroke-width="0.5"/>
<circle cx="411.42" cy="344.00" r="1.00" fill="#111" stroke="none" stroke-width="0.5"/>
<circle cx="410.46" cy="352.00" r="1.00" fill="#111" stroke="none" stroke-width="0.5"/>
<circle cx="412.77" cy="358.00" r="1.00" fill="#111" stroke="none" stroke-width="0.5"/>
<circle cx="411.13" cy="364.00" r="1.00" fill="#111" stroke="none" stroke-width="0.5"/>
<circle cx="411.30" cy="373.00" r="1.00" fill="#111" stroke="none" stroke-width="0.5"/>
<circle cx="411.82" cy="345.00" r="1.00" fill="#111" stroke="none" stroke-width="0.5"/>
<line x1="422.50" y1="367.00" x2="422.50" y2="357.50" stroke="#111" stroke-width="0.7"/>
<line x1="420.50" y1="357.50" x2="424.50" y2="357.50" stroke="#111" stroke-width="0.7"/>
<circle cx="420.70" cy="353.00" r="1.00" fill="#111" stroke="none" stroke-width="0.5"/>
<circle cx="421.07" cy="358.00" r="1.00" fill="#111" stroke="none" stroke-width="0.5"/>
<circle cx="422.10" cy="374.00" r="1.00" fill="#111" stroke="none" stroke-width="0.5"/>
<circle cx="423.18" cy="378.00" r="1.00" fill="#111" stroke="none" stroke-width="0.5"/>
<circle cx="421.16" cy="387.00" r="1.00" fill="#111" stroke="none" stroke-width="0.5"/>
<line x1="432.70" y1="373.50" x2="432.70" y2="363.50" stroke="#111" stroke-width="0.7"/>
<line x1="430.70" y1="363.50" x2="434.70" y2="363.50" stroke="#111" stroke-width="0.7"/>
<circle cx="431.14" cy="366.00" r="1.00" fill="#111" stroke="none" stroke-width="0.5"/>
<circle cx="431.64" cy="374.00" r="1.00" fill="#111" stroke="none" stroke-width="0.5"/>
<circle cx="431.97" cy="380.00" r="1.00" fill="#111" stroke="none" stroke-width="0.5"/>
<circle cx="434.18" cy="388.00" r="1.00" fill="#111" stroke="none" stroke-width="0.5"/>
<line x1="443.00" y1="364.00" x2="443.00" y2="355.00" stroke="#111" stroke-width="0.7"/>
<line x1="441.00" y1="355.00" x2="445.00" y2="355.00" stroke="#111" stroke-width="0.7"/>
<circle cx="443.27" cy="355.00" r="1.00" fill="#111" stroke="none" stroke-width="0.5"/>
<circle cx="443.50" cy="358.00" r="1.00" fill="#111" stroke="none" stroke-width="0.5"/>
<circle cx="444.20" cy="372.00" r="1.00" fill="#111" stroke="none" stroke-width="0.5"/>
<circle cx="442.16" cy="377.00" r="1.00" fill="#111" stroke="none" stroke-width="0.5"/>
<circle cx="443.57" cy="367.00" r="1.00" fill="#111" stroke="none" stroke-width="0.5"/>
<line x1="453.70" y1="388.00" x2="453.70" y2="376.00" stroke="#111" stroke-width="0.7"/>
<line x1="451.70" y1="376.00" x2="455.70" y2="376.00" stroke="#111" stroke-width="0.7"/>
<circle cx="453.81" cy="376.00" r="1.00" fill="#111" stroke="none" stroke-width="0.5"/>
<circle cx="454.02" cy="378.00" r="1.00" fill="#111" stroke="none" stroke-width="0.5"/>
<circle cx="455.00" cy="380.00" r="1.00" fill="#111" stroke="none" stroke-width="0.5"/>
<circle cx="455.21" cy="406.00" r="1.00" fill="#111" stroke="none" stroke-width="0.5"/>
<circle cx="455.15" cy="414.00" r="1.00" fill="#111" stroke="none" stroke-width="0.5"/>
<path d="M412.20,343.00 L412.20,336.50 L422.50,336.50 L422.50,357.00" fill="none" stroke="#333" stroke-width="0.7"/>
<text x="420.80" y="334.20" font-size="4.9" font-weight="normal" fill="#333" text-anchor="middle" font-style="italic">p = 0.0040</text>
<path d="M412.20,336.50 L412.20,329.00 L432.70,329.00 L432.70,362.50" fill="none" stroke="#333" stroke-width="0.7"/>
<text x="422.40" y="326.90" font-size="4.9" font-weight="normal" fill="#333" text-anchor="middle" font-style="italic">p = 0.0058</text>
<path d="M412.20,329.00 L412.20,321.10 L443.00,321.10 L443.00,354.00" fill="none" stroke="#333" stroke-width="0.7"/>
<text x="425.20" y="318.90" font-size="4.9" font-weight="normal" fill="#333" text-anchor="middle" font-style="italic">p = 0.0253</text>
<path d="M412.20,321.10 L412.20,313.40 L453.70,313.40 L453.70,374.00" fill="none" stroke="#333" stroke-width="0.7"/>
<text x="431.00" y="311.40" font-size="4.9" font-weight="normal" fill="#333" text-anchor="middle" font-style="italic">p = 0.0001</text>
<rect x="487.40" y="368.30" width="8.00" height="52.10" fill="#1c6399" stroke="#2a2a2a" stroke-width="0.8"/>
<rect x="497.20" y="370.00" width="8.40" height="50.40" fill="#bddff2" stroke="#2a2a2a" stroke-width="0.8"/>
<rect x="507.80" y="359.70" width="8.40" height="60.70" fill="#037a37" stroke="#2a2a2a" stroke-width="0.8"/>
<rect x="518.00" y="361.00" width="8.50" height="59.40" fill="#79ad8b" stroke="#2a2a2a" stroke-width="0.8"/>
<rect x="528.30" y="355.80" width="8.60" height="64.60" fill="#c0d9c9" stroke="#2a2a2a" stroke-width="0.8"/>
<line x1="491.40" y1="368.30" x2="491.40" y2="358.00" stroke="#111" stroke-width="0.7"/>
<line x1="489.40" y1="358.00" x2="493.40" y2="358.00" stroke="#111" stroke-width="0.7"/>
<circle cx="491.39" cy="352.00" r="1.00" fill="#111" stroke="none" stroke-width="0.5"/>
<circle cx="490.58" cy="365.00" r="1.00" fill="#111" stroke="none" stroke-width="0.5"/>
<circle cx="491.88" cy="376.00" r="1.00" fill="#111" stroke="none" stroke-width="0.5"/>
<circle cx="490.49" cy="388.00" r="1.00" fill="#111" stroke="none" stroke-width="0.5"/>
<circle cx="491.31" cy="387.00" r="1.00" fill="#111" stroke="none" stroke-width="0.5"/>
<circle cx="493.06" cy="390.00" r="1.00" fill="#111" stroke="none" stroke-width="0.5"/>
<line x1="501.40" y1="370.00" x2="501.40" y2="361.50" stroke="#111" stroke-width="0.7"/>
<line x1="499.40" y1="361.50" x2="503.40" y2="361.50" stroke="#111" stroke-width="0.7"/>
<circle cx="500.45" cy="356.00" r="1.00" fill="#111" stroke="none" stroke-width="0.5"/>
<circle cx="501.41" cy="373.00" r="1.00" fill="#111" stroke="none" stroke-width="0.5"/>
<circle cx="500.15" cy="376.00" r="1.00" fill="#111" stroke="none" stroke-width="0.5"/>
<circle cx="502.59" cy="377.00" r="1.00" fill="#111" stroke="none" stroke-width="0.5"/>
<circle cx="500.41" cy="384.00" r="1.00" fill="#111" stroke="none" stroke-width="0.5"/>
<line x1="512.00" y1="359.70" x2="512.00" y2="353.00" stroke="#111" stroke-width="0.7"/>
<line x1="510.00" y1="353.00" x2="514.00" y2="353.00" stroke="#111" stroke-width="0.7"/>
<circle cx="513.77" cy="350.00" r="1.00" fill="#111" stroke="none" stroke-width="0.5"/>
<circle cx="510.35" cy="358.00" r="1.00" fill="#111" stroke="none" stroke-width="0.5"/>
<circle cx="512.83" cy="360.00" r="1.00" fill="#111" stroke="none" stroke-width="0.5"/>
<circle cx="511.94" cy="363.00" r="1.00" fill="#111" stroke="none" stroke-width="0.5"/>
<line x1="522.25" y1="361.00" x2="522.25" y2="349.00" stroke="#111" stroke-width="0.7"/>
<line x1="520.25" y1="349.00" x2="524.25" y2="349.00" stroke="#111" stroke-width="0.7"/>
<circle cx="522.69" cy="344.00" r="1.00" fill="#111" stroke="none" stroke-width="0.5"/>
<circle cx="523.71" cy="367.00" r="1.00" fill="#111" stroke="none" stroke-width="0.5"/>
<circle cx="522.09" cy="377.00" r="1.00" fill="#111" stroke="none" stroke-width="0.5"/>
<circle cx="523.04" cy="381.00" r="1.00" fill="#111" stroke="none" stroke-width="0.5"/>
<circle cx="523.88" cy="391.00" r="1.00" fill="#111" stroke="none" stroke-width="0.5"/>
<line x1="532.60" y1="355.80" x2="532.60" y2="349.00" stroke="#111" stroke-width="0.7"/>
<line x1="530.60" y1="349.00" x2="534.60" y2="349.00" stroke="#111" stroke-width="0.7"/>
<circle cx="534.17" cy="347.00" r="1.00" fill="#111" stroke="none" stroke-width="0.5"/>
<circle cx="531.23" cy="350.00" r="1.00" fill="#111" stroke="none" stroke-width="0.5"/>
<circle cx="532.81" cy="356.00" r="1.00" fill="#111" stroke="none" stroke-width="0.5"/>
<circle cx="532.54" cy="362.00" r="1.00" fill="#111" stroke="none" stroke-width="0.5"/>
<circle cx="534.34" cy="367.00" r="1.00" fill="#111" stroke="none" stroke-width="0.5"/>
<circle cx="532.15" cy="370.00" r="1.00" fill="#111" stroke="none" stroke-width="0.5"/>
<line x1="433.00" y1="420.40" x2="433.00" y2="423.00" stroke="#333" stroke-width="0.8"/>
<text x="433.00" y="431.20" font-size="7.3" font-weight="normal" fill="#1a1a1a" text-anchor="middle">BM</text>
<line x1="512.50" y1="420.40" x2="512.50" y2="423.00" stroke="#333" stroke-width="0.8"/>
<text x="512.50" y="431.20" font-size="7.3" font-weight="normal" fill="#1a1a1a" text-anchor="middle">spleen</text>
<rect x="561.20" y="332.60" width="10.70" height="4.60" fill="#1c6399" stroke="#444" stroke-width="0.7"/>
<text x="574.50" y="337.60" font-size="7.5" font-weight="bold" fill="#2a6aa3" text-anchor="start">JCAR017</text>
<rect x="561.20" y="340.70" width="10.70" height="4.60" fill="#bddff2" stroke="#444" stroke-width="0.7"/>
<text x="574.50" y="345.70" font-size="7.5" font-weight="bold" fill="#b3d6ef" text-anchor="start">JCAR021</text>
<rect x="561.20" y="349.10" width="10.70" height="4.60" fill="#037a37" stroke="#444" stroke-width="0.7"/>
<text x="574.50" y="354.10" font-size="7.5" font-weight="bold" fill="#107d3b" text-anchor="start">L237W</text>
<rect x="561.20" y="357.10" width="10.70" height="4.60" fill="#79ad8b" stroke="#444" stroke-width="0.7"/>
<text x="574.50" y="362.10" font-size="7.5" font-weight="bold" fill="#6aa67f" text-anchor="start">M35A</text>
<rect x="561.20" y="365.40" width="10.70" height="4.60" fill="#c0d9c9" stroke="#444" stroke-width="0.7"/>
<text x="574.50" y="370.40" font-size="7.5" font-weight="bold" fill="#b5d3c1" text-anchor="start">V236W</text>
<text x="5.40" y="449.80" font-size="10.5" font-weight="bold" fill="#000" text-anchor="start">i</text>
<text x="44.00" y="457.40" font-size="8.8" font-weight="bold" fill="#2a6aa3" text-anchor="middle">JCAR017</text>
<rect x="16.90" y="462.30" width="56.80" height="56.10" fill="#fff" stroke="none" stroke-width="0.7"/>
<text x="106.40" y="457.40" font-size="8.8" font-weight="bold" fill="#b3d6ef" text-anchor="middle">JCAR021</text>
<rect x="78.90" y="462.30" width="57.60" height="56.10" fill="#fff" stroke="none" stroke-width="0.7"/>
<text x="169.80" y="457.40" font-size="8.8" font-weight="bold" fill="#107d3b" text-anchor="middle">L237W</text>
<rect x="142.90" y="462.30" width="56.40" height="56.10" fill="#fff" stroke="none" stroke-width="0.7"/>
<text x="231.85" y="457.40" font-size="8.8" font-weight="bold" fill="#6aa67f" text-anchor="middle">M35A</text>
<rect x="204.80" y="462.30" width="56.70" height="56.10" fill="#fff" stroke="none" stroke-width="0.7"/>
<text x="294.45" y="457.40" font-size="8.8" font-weight="bold" fill="#b5d3c1" text-anchor="middle">V236W</text>
<rect x="267.00" y="462.30" width="57.50" height="56.10" fill="#fff" stroke="none" stroke-width="0.7"/>
<ellipse cx="45.50" cy="486.00" rx="14.50" ry="10.00" transform="rotate(0 45.50 486.00)" fill="none" stroke="#777" stroke-width="0.4" stroke-opacity="0.8"/>
<ellipse cx="45.50" cy="486.00" rx="12.69" ry="8.75" transform="rotate(0 45.50 486.00)" fill="none" stroke="#777" stroke-width="0.4" stroke-opacity="0.8"/>
<ellipse cx="45.50" cy="486.00" rx="10.88" ry="7.50" transform="rotate(0 45.50 486.00)" fill="none" stroke="#777" stroke-width="0.4" stroke-opacity="0.8"/>
<ellipse cx="45.00" cy="491.50" rx="5.50" ry="4.00" transform="rotate(0 45.00 491.50)" fill="none" stroke="#777" stroke-width="0.4" stroke-opacity="0.8"/>
<ellipse cx="45.00" cy="491.50" rx="4.12" ry="3.00" transform="rotate(0 45.00 491.50)" fill="none" stroke="#777" stroke-width="0.4" stroke-opacity="0.8"/>
<ellipse cx="45.00" cy="491.50" rx="2.75" ry="2.00" transform="rotate(0 45.00 491.50)" fill="none" stroke="#777" stroke-width="0.4" stroke-opacity="0.8"/>
<ellipse cx="55.00" cy="491.50" rx="5.50" ry="4.00" transform="rotate(0 55.00 491.50)" fill="none" stroke="#777" stroke-width="0.4" stroke-opacity="0.8"/>
<ellipse cx="55.00" cy="491.50" rx="4.12" ry="3.00" transform="rotate(0 55.00 491.50)" fill="none" stroke="#777" stroke-width="0.4" stroke-opacity="0.8"/>
<ellipse cx="55.00" cy="491.50" rx="2.75" ry="2.00" transform="rotate(0 55.00 491.50)" fill="none" stroke="#777" stroke-width="0.4" stroke-opacity="0.8"/>
<ellipse cx="49.30" cy="483.30" rx="10.20" ry="8.20" transform="rotate(0 49.30 483.30)" fill="#000" fill-opacity="0.02" stroke="#333" stroke-width="0.45" stroke-opacity="0.85"/>
<ellipse cx="49.30" cy="483.30" rx="9.91" ry="7.97" transform="rotate(0 49.30 483.30)" fill="#000" fill-opacity="0.02" stroke="#333" stroke-width="0.45" stroke-opacity="0.85"/>
<ellipse cx="49.30" cy="483.30" rx="9.38" ry="7.54" transform="rotate(0 49.30 483.30)" fill="#000" fill-opacity="0.02" stroke="#333" stroke-width="0.45" stroke-opacity="0.85"/>
<ellipse cx="49.30" cy="483.30" rx="8.69" ry="6.99" transform="rotate(0 49.30 483.30)" fill="#000" fill-opacity="0.02" stroke="#333" stroke-width="0.45" stroke-opacity="0.85"/>
<ellipse cx="49.30" cy="483.30" rx="7.88" ry="6.33" transform="rotate(0 49.30 483.30)" fill="#000" fill-opacity="0.02" stroke="#333" stroke-width="0.45" stroke-opacity="0.85"/>
<ellipse cx="49.30" cy="483.30" rx="6.95" ry="5.59" transform="rotate(0 49.30 483.30)" fill="#000" fill-opacity="0.02" stroke="#333" stroke-width="0.45" stroke-opacity="0.85"/>
<ellipse cx="49.30" cy="483.30" rx="5.93" ry="4.77" transform="rotate(0 49.30 483.30)" fill="#000" fill-opacity="0.02" stroke="#333" stroke-width="0.45" stroke-opacity="0.85"/>
<ellipse cx="49.30" cy="483.30" rx="4.82" ry="3.88" transform="rotate(0 49.30 483.30)" fill="#000" fill-opacity="0.02" stroke="#333" stroke-width="0.45" stroke-opacity="0.85"/>
<ellipse cx="49.30" cy="483.30" rx="3.63" ry="2.92" transform="rotate(0 49.30 483.30)" fill="#000" fill-opacity="0.02" stroke="#333" stroke-width="0.45" stroke-opacity="0.85"/>
<ellipse cx="49.30" cy="483.30" rx="2.36" ry="1.90" transform="rotate(0 49.30 483.30)" fill="#000" fill-opacity="0.02" stroke="#333" stroke-width="0.45" stroke-opacity="0.85"/>
<ellipse cx="49.30" cy="483.30" rx="1.02" ry="0.82" transform="rotate(0 49.30 483.30)" fill="#000" fill-opacity="0.02" stroke="#333" stroke-width="0.45" stroke-opacity="0.85"/>
<ellipse cx="119.80" cy="507.20" rx="5.80" ry="5.20" transform="rotate(0 119.80 507.20)" fill="none" stroke="#555" stroke-width="0.4" stroke-opacity="0.8"/>
<ellipse cx="119.80" cy="507.20" rx="4.81" ry="4.32" transform="rotate(0 119.80 507.20)" fill="none" stroke="#555" stroke-width="0.4" stroke-opacity="0.8"/>
<ellipse cx="119.80" cy="507.20" rx="3.83" ry="3.43" transform="rotate(0 119.80 507.20)" fill="none" stroke="#555" stroke-width="0.4" stroke-opacity="0.8"/>
<ellipse cx="119.80" cy="507.20" rx="2.84" ry="2.55" transform="rotate(0 119.80 507.20)" fill="none" stroke="#555" stroke-width="0.4" stroke-opacity="0.8"/>
<ellipse cx="119.80" cy="507.20" rx="1.86" ry="1.66" transform="rotate(0 119.80 507.20)" fill="none" stroke="#555" stroke-width="0.4" stroke-opacity="0.8"/>
<ellipse cx="119.80" cy="507.20" rx="0.87" ry="0.78" transform="rotate(0 119.80 507.20)" fill="none" stroke="#555" stroke-width="0.4" stroke-opacity="0.8"/>
<ellipse cx="117.50" cy="489.00" rx="8.30" ry="9.50" transform="rotate(0 117.50 489.00)" fill="#000" fill-opacity="0.02" stroke="#333" stroke-width="0.45" stroke-opacity="0.9"/>
<ellipse cx="117.50" cy="488.90" rx="8.06" ry="9.23" transform="rotate(0 117.50 488.90)" fill="#000" fill-opacity="0.02" stroke="#333" stroke-width="0.45" stroke-opacity="0.9"/>
<ellipse cx="117.50" cy="488.80" rx="7.63" ry="8.74" transform="rotate(0 117.50 488.80)" fill="#000" fill-opacity="0.02" stroke="#333" stroke-width="0.45" stroke-opacity="0.9"/>
<ellipse cx="117.50" cy="488.70" rx="7.07" ry="8.10" transform="rotate(0 117.50 488.70)" fill="#000" fill-opacity="0.02" stroke="#333" stroke-width="0.45" stroke-opacity="0.9"/>
<ellipse cx="117.50" cy="488.60" rx="6.41" ry="7.34" transform="rotate(0 117.50 488.60)" fill="#000" fill-opacity="0.02" stroke="#333" stroke-width="0.45" stroke-opacity="0.9"/>
<ellipse cx="117.50" cy="488.50" rx="5.66" ry="6.48" transform="rotate(0 117.50 488.50)" fill="#000" fill-opacity="0.02" stroke="#333" stroke-width="0.45" stroke-opacity="0.9"/>
<ellipse cx="117.50" cy="488.40" rx="4.83" ry="5.53" transform="rotate(0 117.50 488.40)" fill="#000" fill-opacity="0.02" stroke="#333" stroke-width="0.45" stroke-opacity="0.9"/>
<ellipse cx="117.50" cy="488.30" rx="3.93" ry="4.49" transform="rotate(0 117.50 488.30)" fill="#000" fill-opacity="0.02" stroke="#333" stroke-width="0.45" stroke-opacity="0.9"/>
<ellipse cx="117.50" cy="488.20" rx="2.95" ry="3.38" transform="rotate(0 117.50 488.20)" fill="#000" fill-opacity="0.02" stroke="#333" stroke-width="0.45" stroke-opacity="0.9"/>
<ellipse cx="117.50" cy="488.10" rx="1.92" ry="2.20" transform="rotate(0 117.50 488.10)" fill="#000" fill-opacity="0.02" stroke="#333" stroke-width="0.45" stroke-opacity="0.9"/>
<ellipse cx="117.50" cy="488.00" rx="0.83" ry="0.95" transform="rotate(0 117.50 488.00)" fill="#000" fill-opacity="0.02" stroke="#333" stroke-width="0.45" stroke-opacity="0.9"/>
<ellipse cx="180.50" cy="505.00" rx="5.20" ry="7.00" transform="rotate(0 180.50 505.00)" fill="none" stroke="#666" stroke-width="0.4" stroke-opacity="0.8"/>
<ellipse cx="180.50" cy="505.00" rx="4.16" ry="5.60" transform="rotate(0 180.50 505.00)" fill="none" stroke="#666" stroke-width="0.4" stroke-opacity="0.8"/>
<ellipse cx="180.50" cy="505.00" rx="3.12" ry="4.20" transform="rotate(0 180.50 505.00)" fill="none" stroke="#666" stroke-width="0.4" stroke-opacity="0.8"/>
<ellipse cx="180.50" cy="505.00" rx="2.08" ry="2.80" transform="rotate(0 180.50 505.00)" fill="none" stroke="#666" stroke-width="0.4" stroke-opacity="0.8"/>
<ellipse cx="180.50" cy="505.00" rx="1.04" ry="1.40" transform="rotate(0 180.50 505.00)" fill="none" stroke="#666" stroke-width="0.4" stroke-opacity="0.8"/>
<ellipse cx="178.60" cy="489.50" rx="8.60" ry="9.30" transform="rotate(0 178.60 489.50)" fill="#000" fill-opacity="0.02" stroke="#333" stroke-width="0.45" stroke-opacity="0.9"/>
<ellipse cx="178.60" cy="489.40" rx="8.36" ry="9.04" transform="rotate(0 178.60 489.40)" fill="#000" fill-opacity="0.02" stroke="#333" stroke-width="0.45" stroke-opacity="0.9"/>
<ellipse cx="178.60" cy="489.30" rx="7.91" ry="8.55" transform="rotate(0 178.60 489.30)" fill="#000" fill-opacity="0.02" stroke="#333" stroke-width="0.45" stroke-opacity="0.9"/>
<ellipse cx="178.60" cy="489.20" rx="7.33" ry="7.92" transform="rotate(0 178.60 489.20)" fill="#000" fill-opacity="0.02" stroke="#333" stroke-width="0.45" stroke-opacity="0.9"/>
<ellipse cx="178.60" cy="489.10" rx="6.64" ry="7.18" transform="rotate(0 178.60 489.10)" fill="#000" fill-opacity="0.02" stroke="#333" stroke-width="0.45" stroke-opacity="0.9"/>
<ellipse cx="178.60" cy="489.00" rx="5.86" ry="6.34" transform="rotate(0 178.60 489.00)" fill="#000" fill-opacity="0.02" stroke="#333" stroke-width="0.45" stroke-opacity="0.9"/>
<ellipse cx="178.60" cy="488.90" rx="5.00" ry="5.41" transform="rotate(0 178.60 488.90)" fill="#000" fill-opacity="0.02" stroke="#333" stroke-width="0.45" stroke-opacity="0.9"/>
<ellipse cx="178.60" cy="488.80" rx="4.07" ry="4.40" transform="rotate(0 178.60 488.80)" fill="#000" fill-opacity="0.02" stroke="#333" stroke-width="0.45" stroke-opacity="0.9"/>
<ellipse cx="178.60" cy="488.70" rx="3.06" ry="3.31" transform="rotate(0 178.60 488.70)" fill="#000" fill-opacity="0.02" stroke="#333" stroke-width="0.45" stroke-opacity="0.9"/>
<ellipse cx="178.60" cy="488.60" rx="1.99" ry="2.15" transform="rotate(0 178.60 488.60)" fill="#000" fill-opacity="0.02" stroke="#333" stroke-width="0.45" stroke-opacity="0.9"/>
<ellipse cx="178.60" cy="488.50" rx="0.86" ry="0.93" transform="rotate(0 178.60 488.50)" fill="#000" fill-opacity="0.02" stroke="#333" stroke-width="0.45" stroke-opacity="0.9"/>
<ellipse cx="239.50" cy="498.50" rx="11.50" ry="13.50" transform="rotate(0 239.50 498.50)" fill="none" stroke="#555" stroke-width="0.4" stroke-opacity="0.8"/>
<ellipse cx="239.50" cy="498.50" rx="10.35" ry="12.15" transform="rotate(0 239.50 498.50)" fill="none" stroke="#555" stroke-width="0.4" stroke-opacity="0.8"/>
<ellipse cx="239.50" cy="498.50" rx="9.20" ry="10.80" transform="rotate(0 239.50 498.50)" fill="none" stroke="#555" stroke-width="0.4" stroke-opacity="0.8"/>
<ellipse cx="239.50" cy="498.50" rx="8.05" ry="9.45" transform="rotate(0 239.50 498.50)" fill="none" stroke="#555" stroke-width="0.4" stroke-opacity="0.8"/>
<ellipse cx="224.60" cy="506.70" rx="2.80" ry="2.50" transform="rotate(0 224.60 506.70)" fill="none" stroke="#666" stroke-width="0.4" stroke-opacity="0.8"/>
<ellipse cx="224.60" cy="506.70" rx="1.68" ry="1.50" transform="rotate(0 224.60 506.70)" fill="none" stroke="#666" stroke-width="0.4" stroke-opacity="0.8"/>
<ellipse cx="241.30" cy="493.00" rx="7.50" ry="6.50" transform="rotate(0 241.30 493.00)" fill="#000" fill-opacity="0.02" stroke="#333" stroke-width="0.45" stroke-opacity="0.85"/>
<ellipse cx="241.30" cy="493.00" rx="6.97" ry="6.04" transform="rotate(0 241.30 493.00)" fill="#000" fill-opacity="0.02" stroke="#333" stroke-width="0.45" stroke-opacity="0.85"/>
<ellipse cx="241.30" cy="493.00" rx="6.21" ry="5.38" transform="rotate(0 241.30 493.00)" fill="#000" fill-opacity="0.02" stroke="#333" stroke-width="0.45" stroke-opacity="0.85"/>
<ellipse cx="241.30" cy="493.00" rx="5.31" ry="4.60" transform="rotate(0 241.30 493.00)" fill="#000" fill-opacity="0.02" stroke="#333" stroke-width="0.45" stroke-opacity="0.85"/>
<ellipse cx="241.30" cy="493.00" rx="4.31" ry="3.74" transform="rotate(0 241.30 493.00)" fill="#000" fill-opacity="0.02" stroke="#333" stroke-width="0.45" stroke-opacity="0.85"/>
<ellipse cx="241.30" cy="493.00" rx="3.24" ry="2.81" transform="rotate(0 241.30 493.00)" fill="#000" fill-opacity="0.02" stroke="#333" stroke-width="0.45" stroke-opacity="0.85"/>
<ellipse cx="241.30" cy="493.00" rx="2.10" ry="1.82" transform="rotate(0 241.30 493.00)" fill="#000" fill-opacity="0.02" stroke="#333" stroke-width="0.45" stroke-opacity="0.85"/>
<ellipse cx="241.30" cy="493.00" rx="0.90" ry="0.78" transform="rotate(0 241.30 493.00)" fill="#000" fill-opacity="0.02" stroke="#333" stroke-width="0.45" stroke-opacity="0.85"/>
<ellipse cx="242.20" cy="507.70" rx="8.00" ry="4.50" transform="rotate(0 242.20 507.70)" fill="#000" fill-opacity="0.03" stroke="#222" stroke-width="0.45" stroke-opacity="0.9"/>
<ellipse cx="242.20" cy="507.70" rx="7.60" ry="4.27" transform="rotate(0 242.20 507.70)" fill="#000" fill-opacity="0.03" stroke="#222" stroke-width="0.45" stroke-opacity="0.9"/>
<ellipse cx="242.20" cy="507.70" rx="7.00" ry="3.94" transform="rotate(0 242.20 507.70)" fill="#000" fill-opacity="0.03" stroke="#222" stroke-width="0.45" stroke-opacity="0.9"/>
<ellipse cx="242.20" cy="507.70" rx="6.31" ry="3.55" transform="rotate(0 242.20 507.70)" fill="#000" fill-opacity="0.03" stroke="#222" stroke-width="0.45" stroke-opacity="0.9"/>
<ellipse cx="242.20" cy="507.70" rx="5.55" ry="3.12" transform="rotate(0 242.20 507.70)" fill="#000" fill-opacity="0.03" stroke="#222" stroke-width="0.45" stroke-opacity="0.9"/>
<ellipse cx="242.20" cy="507.70" rx="4.72" ry="2.66" transform="rotate(0 242.20 507.70)" fill="#000" fill-opacity="0.03" stroke="#222" stroke-width="0.45" stroke-opacity="0.9"/>
<ellipse cx="242.20" cy="507.70" rx="3.84" ry="2.16" transform="rotate(0 242.20 507.70)" fill="#000" fill-opacity="0.03" stroke="#222" stroke-width="0.45" stroke-opacity="0.9"/>
<ellipse cx="242.20" cy="507.70" rx="2.92" ry="1.64" transform="rotate(0 242.20 507.70)" fill="#000" fill-opacity="0.03" stroke="#222" stroke-width="0.45" stroke-opacity="0.9"/>
<ellipse cx="242.20" cy="507.70" rx="1.96" ry="1.10" transform="rotate(0 242.20 507.70)" fill="#000" fill-opacity="0.03" stroke="#222" stroke-width="0.45" stroke-opacity="0.9"/>
<ellipse cx="242.20" cy="507.70" rx="0.96" ry="0.54" transform="rotate(0 242.20 507.70)" fill="#000" fill-opacity="0.03" stroke="#222" stroke-width="0.45" stroke-opacity="0.9"/>
<ellipse cx="298.50" cy="496.00" rx="6.50" ry="6.80" transform="rotate(0 298.50 496.00)" fill="none" stroke="#666" stroke-width="0.4" stroke-opacity="0.8"/>
<ellipse cx="298.50" cy="496.00" rx="5.36" ry="5.61" transform="rotate(0 298.50 496.00)" fill="none" stroke="#666" stroke-width="0.4" stroke-opacity="0.8"/>
<ellipse cx="298.50" cy="496.00" rx="4.23" ry="4.42" transform="rotate(0 298.50 496.00)" fill="none" stroke="#666" stroke-width="0.4" stroke-opacity="0.8"/>
<ellipse cx="298.50" cy="496.00" rx="3.09" ry="3.23" transform="rotate(0 298.50 496.00)" fill="none" stroke="#666" stroke-width="0.4" stroke-opacity="0.8"/>
<ellipse cx="298.50" cy="496.00" rx="1.95" ry="2.04" transform="rotate(0 298.50 496.00)" fill="none" stroke="#666" stroke-width="0.4" stroke-opacity="0.8"/>
<ellipse cx="299.50" cy="506.50" rx="7.20" ry="4.80" transform="rotate(0 299.50 506.50)" fill="#000" fill-opacity="0.03" stroke="#222" stroke-width="0.45" stroke-opacity="0.9"/>
<ellipse cx="299.50" cy="506.50" rx="6.77" ry="4.51" transform="rotate(0 299.50 506.50)" fill="#000" fill-opacity="0.03" stroke="#222" stroke-width="0.45" stroke-opacity="0.9"/>
<ellipse cx="299.50" cy="506.50" rx="6.13" ry="4.09" transform="rotate(0 299.50 506.50)" fill="#000" fill-opacity="0.03" stroke="#222" stroke-width="0.45" stroke-opacity="0.9"/>
<ellipse cx="299.50" cy="506.50" rx="5.39" ry="3.59" transform="rotate(0 299.50 506.50)" fill="#000" fill-opacity="0.03" stroke="#222" stroke-width="0.45" stroke-opacity="0.9"/>
<ellipse cx="299.50" cy="506.50" rx="4.57" ry="3.05" transform="rotate(0 299.50 506.50)" fill="#000" fill-opacity="0.03" stroke="#222" stroke-width="0.45" stroke-opacity="0.9"/>
<ellipse cx="299.50" cy="506.50" rx="3.68" ry="2.46" transform="rotate(0 299.50 506.50)" fill="#000" fill-opacity="0.03" stroke="#222" stroke-width="0.45" stroke-opacity="0.9"/>
<ellipse cx="299.50" cy="506.50" rx="2.74" ry="1.83" transform="rotate(0 299.50 506.50)" fill="#000" fill-opacity="0.03" stroke="#222" stroke-width="0.45" stroke-opacity="0.9"/>
<ellipse cx="299.50" cy="506.50" rx="1.75" ry="1.17" transform="rotate(0 299.50 506.50)" fill="#000" fill-opacity="0.03" stroke="#222" stroke-width="0.45" stroke-opacity="0.9"/>
<ellipse cx="299.50" cy="506.50" rx="0.72" ry="0.48" transform="rotate(0 299.50 506.50)" fill="#000" fill-opacity="0.03" stroke="#222" stroke-width="0.45" stroke-opacity="0.9"/>
<ellipse cx="49.50" cy="482.60" rx="5.20" ry="4.20" transform="rotate(0 49.50 482.60)" fill="none" stroke="#1a1a1a" stroke-width="0.5" stroke-opacity="0.9"/>
<ellipse cx="49.50" cy="482.60" rx="4.29" ry="3.46" transform="rotate(0 49.50 482.60)" fill="none" stroke="#1a1a1a" stroke-width="0.5" stroke-opacity="0.9"/>
<ellipse cx="49.50" cy="482.60" rx="3.38" ry="2.73" transform="rotate(0 49.50 482.60)" fill="none" stroke="#1a1a1a" stroke-width="0.5" stroke-opacity="0.9"/>
<ellipse cx="49.50" cy="482.60" rx="2.47" ry="2.00" transform="rotate(0 49.50 482.60)" fill="none" stroke="#1a1a1a" stroke-width="0.5" stroke-opacity="0.9"/>
<ellipse cx="49.50" cy="482.60" rx="1.56" ry="1.26" transform="rotate(0 49.50 482.60)" fill="none" stroke="#1a1a1a" stroke-width="0.5" stroke-opacity="0.9"/>
<ellipse cx="118.60" cy="499.00" rx="4.80" ry="9.00" transform="rotate(0 118.60 499.00)" fill="none" stroke="#555" stroke-width="0.42" stroke-opacity="0.85"/>
<ellipse cx="118.60" cy="499.00" rx="4.00" ry="7.50" transform="rotate(0 118.60 499.00)" fill="none" stroke="#555" stroke-width="0.42" stroke-opacity="0.85"/>
<ellipse cx="118.60" cy="499.00" rx="3.20" ry="6.00" transform="rotate(0 118.60 499.00)" fill="none" stroke="#555" stroke-width="0.42" stroke-opacity="0.85"/>
<ellipse cx="118.60" cy="499.00" rx="2.40" ry="4.50" transform="rotate(0 118.60 499.00)" fill="none" stroke="#555" stroke-width="0.42" stroke-opacity="0.85"/>
<ellipse cx="179.60" cy="498.00" rx="4.80" ry="9.50" transform="rotate(0 179.60 498.00)" fill="none" stroke="#555" stroke-width="0.42" stroke-opacity="0.85"/>
<ellipse cx="179.60" cy="498.00" rx="4.00" ry="7.92" transform="rotate(0 179.60 498.00)" fill="none" stroke="#555" stroke-width="0.42" stroke-opacity="0.85"/>
<ellipse cx="179.60" cy="498.00" rx="3.20" ry="6.33" transform="rotate(0 179.60 498.00)" fill="none" stroke="#555" stroke-width="0.42" stroke-opacity="0.85"/>
<ellipse cx="179.60" cy="498.00" rx="2.40" ry="4.75" transform="rotate(0 179.60 498.00)" fill="none" stroke="#555" stroke-width="0.42" stroke-opacity="0.85"/>
<ellipse cx="117.60" cy="488.60" rx="4.60" ry="5.00" transform="rotate(0 117.60 488.60)" fill="none" stroke="#1a1a1a" stroke-width="0.5" stroke-opacity="0.9"/>
<ellipse cx="117.60" cy="488.60" rx="3.79" ry="4.12" transform="rotate(0 117.60 488.60)" fill="none" stroke="#1a1a1a" stroke-width="0.5" stroke-opacity="0.9"/>
<ellipse cx="117.60" cy="488.60" rx="2.99" ry="3.25" transform="rotate(0 117.60 488.60)" fill="none" stroke="#1a1a1a" stroke-width="0.5" stroke-opacity="0.9"/>
<ellipse cx="117.60" cy="488.60" rx="2.19" ry="2.38" transform="rotate(0 117.60 488.60)" fill="none" stroke="#1a1a1a" stroke-width="0.5" stroke-opacity="0.9"/>
<ellipse cx="117.60" cy="488.60" rx="1.38" ry="1.50" transform="rotate(0 117.60 488.60)" fill="none" stroke="#1a1a1a" stroke-width="0.5" stroke-opacity="0.9"/>
<ellipse cx="178.60" cy="489.20" rx="4.60" ry="5.00" transform="rotate(0 178.60 489.20)" fill="none" stroke="#1a1a1a" stroke-width="0.5" stroke-opacity="0.9"/>
<ellipse cx="178.60" cy="489.20" rx="3.79" ry="4.12" transform="rotate(0 178.60 489.20)" fill="none" stroke="#1a1a1a" stroke-width="0.5" stroke-opacity="0.9"/>
<ellipse cx="178.60" cy="489.20" rx="2.99" ry="3.25" transform="rotate(0 178.60 489.20)" fill="none" stroke="#1a1a1a" stroke-width="0.5" stroke-opacity="0.9"/>
<ellipse cx="178.60" cy="489.20" rx="2.19" ry="2.38" transform="rotate(0 178.60 489.20)" fill="none" stroke="#1a1a1a" stroke-width="0.5" stroke-opacity="0.9"/>
<ellipse cx="178.60" cy="489.20" rx="1.38" ry="1.50" transform="rotate(0 178.60 489.20)" fill="none" stroke="#1a1a1a" stroke-width="0.5" stroke-opacity="0.9"/>
<line x1="38.50" y1="462.30" x2="38.50" y2="518.40" stroke="#222" stroke-width="0.8"/>
<line x1="16.90" y1="497.50" x2="73.70" y2="497.50" stroke="#222" stroke-width="0.8"/>
<path d="M16.90,462.30 L73.70,462.30 L73.70,518.40" fill="none" stroke="#aaa" stroke-width="0.6"/>
<path d="M16.90,462.30 L16.90,518.40 L73.70,518.40" fill="none" stroke="#bbb" stroke-width="0.5"/>
<path d="M16.90,508.30L18.90,508.30M16.90,504.92L18.00,504.92M16.90,502.95L18.00,502.95M16.90,501.55L18.00,501.55M16.90,500.46L18.00,500.46M16.90,499.57L18.00,499.57M16.90,498.82L18.00,498.82M16.90,498.17L18.00,498.17M16.90,497.60L18.00,497.60M16.90,497.08L18.90,497.08M16.90,493.70L18.00,493.70M16.90,491.73L18.00,491.73M16.90,490.33L18.00,490.33M16.90,489.24L18.00,489.24M16.90,488.35L18.00,488.35M16.90,487.60L18.00,487.60M16.90,486.95L18.00,486.95M16.90,486.38L18.00,486.38M16.90,485.86L18.90,485.86M16.90,482.48L18.00,482.48M16.90,480.51L18.00,480.51M16.90,479.11L18.00,479.11M16.90,478.02L18.00,478.02M16.90,477.13L18.00,477.13M16.90,476.38L18.00,476.38M16.90,475.73L18.00,475.73M16.90,475.16L18.00,475.16M16.90,474.64L18.90,474.64M16.90,471.26L18.00,471.26M16.90,469.29L18.00,469.29M16.90,467.89L18.00,467.89M16.90,466.80L18.00,466.80M16.90,465.91L18.00,465.91M16.90,465.16L18.00,465.16M16.90,464.51L18.00,464.51M16.90,463.94L18.00,463.94M16.90,463.42L18.90,463.42M28.26,518.40L28.26,516.40M31.68,518.40L31.68,517.30M33.68,518.40L33.68,517.30M35.10,518.40L35.10,517.30M36.20,518.40L36.20,517.30M37.10,518.40L37.10,517.30M37.86,518.40L37.86,517.30M38.52,518.40L38.52,517.30M39.10,518.40L39.10,517.30M39.62,518.40L39.62,516.40M43.04,518.40L43.04,517.30M45.04,518.40L45.04,517.30M46.46,518.40L46.46,517.30M47.56,518.40L47.56,517.30M48.46,518.40L48.46,517.30M49.22,518.40L49.22,517.30M49.88,518.40L49.88,517.30M50.46,518.40L50.46,517.30M50.98,518.40L50.98,516.40M54.40,518.40L54.40,517.30M56.40,518.40L56.40,517.30M57.82,518.40L57.82,517.30M58.92,518.40L58.92,517.30M59.82,518.40L59.82,517.30M60.58,518.40L60.58,517.30M61.24,518.40L61.24,517.30M61.82,518.40L61.82,517.30M62.34,518.40L62.34,516.40M65.76,518.40L65.76,517.30M67.76,518.40L67.76,517.30M69.18,518.40L69.18,517.30M70.28,518.40L70.28,517.30M71.18,518.40L71.18,517.30M71.94,518.40L71.94,517.30M72.60,518.40L72.60,517.30M73.18,518.40L73.18,517.30M73.70,518.40L73.70,516.40" stroke="#444" stroke-width="0.5" fill="none"/>
<rect x="16.10" y="507.18" width="1.60" height="2.20" fill="#111" stroke="none" stroke-width="0.7"/>
<rect x="24.85" y="517.80" width="2.80" height="1.30" fill="#111" stroke="none" stroke-width="0.7"/>
<text x="65.90" y="470.40" font-size="6.7" font-weight="normal" fill="#000" text-anchor="end">92.2</text>
<line x1="101.50" y1="462.30" x2="101.50" y2="518.40" stroke="#222" stroke-width="0.8"/>
<line x1="78.90" y1="501.50" x2="136.50" y2="501.50" stroke="#222" stroke-width="0.8"/>
<path d="M78.90,462.30 L136.50,462.30 L136.50,518.40" fill="none" stroke="#aaa" stroke-width="0.6"/>
<path d="M78.90,462.30 L78.90,518.40 L136.50,518.40" fill="none" stroke="#bbb" stroke-width="0.5"/>
<path d="M78.90,508.30L80.90,508.30M78.90,504.92L80.00,504.92M78.90,502.95L80.00,502.95M78.90,501.55L80.00,501.55M78.90,500.46L80.00,500.46M78.90,499.57L80.00,499.57M78.90,498.82L80.00,498.82M78.90,498.17L80.00,498.17M78.90,497.60L80.00,497.60M78.90,497.08L80.90,497.08M78.90,493.70L80.00,493.70M78.90,491.73L80.00,491.73M78.90,490.33L80.00,490.33M78.90,489.24L80.00,489.24M78.90,488.35L80.00,488.35M78.90,487.60L80.00,487.60M78.90,486.95L80.00,486.95M78.90,486.38L80.00,486.38M78.90,485.86L80.90,485.86M78.90,482.48L80.00,482.48M78.90,480.51L80.00,480.51M78.90,479.11L80.00,479.11M78.90,478.02L80.00,478.02M78.90,477.13L80.00,477.13M78.90,476.38L80.00,476.38M78.90,475.73L80.00,475.73M78.90,475.16L80.00,475.16M78.90,474.64L80.90,474.64M78.90,471.26L80.00,471.26M78.90,469.29L80.00,469.29M78.90,467.89L80.00,467.89M78.90,466.80L80.00,466.80M78.90,465.91L80.00,465.91M78.90,465.16L80.00,465.16M78.90,464.51L80.00,464.51M78.90,463.94L80.00,463.94M78.90,463.42L80.90,463.42M90.42,518.40L90.42,516.40M93.89,518.40L93.89,517.30M95.92,518.40L95.92,517.30M97.36,518.40L97.36,517.30M98.47,518.40L98.47,517.30M99.38,518.40L99.38,517.30M100.16,518.40L100.16,517.30M100.82,518.40L100.82,517.30M101.41,518.40L101.41,517.30M101.94,518.40L101.94,516.40M105.41,518.40L105.41,517.30M107.44,518.40L107.44,517.30M108.88,518.40L108.88,517.30M109.99,518.40L109.99,517.30M110.90,518.40L110.90,517.30M111.68,518.40L111.68,517.30M112.34,518.40L112.34,517.30M112.93,518.40L112.93,517.30M113.46,518.40L113.46,516.40M116.93,518.40L116.93,517.30M118.96,518.40L118.96,517.30M120.40,518.40L120.40,517.30M121.51,518.40L121.51,517.30M122.42,518.40L122.42,517.30M123.20,518.40L123.20,517.30M123.86,518.40L123.86,517.30M124.45,518.40L124.45,517.30M124.98,518.40L124.98,516.40M128.45,518.40L128.45,517.30M130.48,518.40L130.48,517.30M131.92,518.40L131.92,517.30M133.03,518.40L133.03,517.30M133.94,518.40L133.94,517.30M134.72,518.40L134.72,517.30M135.38,518.40L135.38,517.30M135.97,518.40L135.97,517.30M136.50,518.40L136.50,516.40" stroke="#444" stroke-width="0.5" fill="none"/>
<rect x="78.10" y="507.18" width="1.60" height="2.20" fill="#111" stroke="none" stroke-width="0.7"/>
<rect x="86.96" y="517.80" width="2.80" height="1.30" fill="#111" stroke="none" stroke-width="0.7"/>
<text x="128.70" y="470.40" font-size="6.7" font-weight="normal" fill="#000" text-anchor="end">80.7</text>
<line x1="163.50" y1="462.30" x2="163.50" y2="518.40" stroke="#222" stroke-width="0.8"/>
<line x1="142.90" y1="501.50" x2="199.30" y2="501.50" stroke="#222" stroke-width="0.8"/>
<path d="M142.90,462.30 L199.30,462.30 L199.30,518.40" fill="none" stroke="#aaa" stroke-width="0.6"/>
<path d="M142.90,462.30 L142.90,518.40 L199.30,518.40" fill="none" stroke="#bbb" stroke-width="0.5"/>
<path d="M142.90,508.30L144.90,508.30M142.90,504.92L144.00,504.92M142.90,502.95L144.00,502.95M142.90,501.55L144.00,501.55M142.90,500.46L144.00,500.46M142.90,499.57L144.00,499.57M142.90,498.82L144.00,498.82M142.90,498.17L144.00,498.17M142.90,497.60L144.00,497.60M142.90,497.08L144.90,497.08M142.90,493.70L144.00,493.70M142.90,491.73L144.00,491.73M142.90,490.33L144.00,490.33M142.90,489.24L144.00,489.24M142.90,488.35L144.00,488.35M142.90,487.60L144.00,487.60M142.90,486.95L144.00,486.95M142.90,486.38L144.00,486.38M142.90,485.86L144.90,485.86M142.90,482.48L144.00,482.48M142.90,480.51L144.00,480.51M142.90,479.11L144.00,479.11M142.90,478.02L144.00,478.02M142.90,477.13L144.00,477.13M142.90,476.38L144.00,476.38M142.90,475.73L144.00,475.73M142.90,475.16L144.00,475.16M142.90,474.64L144.90,474.64M142.90,471.26L144.00,471.26M142.90,469.29L144.00,469.29M142.90,467.89L144.00,467.89M142.90,466.80L144.00,466.80M142.90,465.91L144.00,465.91M142.90,465.16L144.00,465.16M142.90,464.51L144.00,464.51M142.90,463.94L144.00,463.94M142.90,463.42L144.90,463.42M154.18,518.40L154.18,516.40M157.58,518.40L157.58,517.30M159.56,518.40L159.56,517.30M160.97,518.40L160.97,517.30M162.06,518.40L162.06,517.30M162.96,518.40L162.96,517.30M163.71,518.40L163.71,517.30M164.37,518.40L164.37,517.30M164.94,518.40L164.94,517.30M165.46,518.40L165.46,516.40M168.86,518.40L168.86,517.30M170.84,518.40L170.84,517.30M172.25,518.40L172.25,517.30M173.34,518.40L173.34,517.30M174.24,518.40L174.24,517.30M174.99,518.40L174.99,517.30M175.65,518.40L175.65,517.30M176.22,518.40L176.22,517.30M176.74,518.40L176.74,516.40M180.14,518.40L180.14,517.30M182.12,518.40L182.12,517.30M183.53,518.40L183.53,517.30M184.62,518.40L184.62,517.30M185.52,518.40L185.52,517.30M186.27,518.40L186.27,517.30M186.93,518.40L186.93,517.30M187.50,518.40L187.50,517.30M188.02,518.40L188.02,516.40M191.42,518.40L191.42,517.30M193.40,518.40L193.40,517.30M194.81,518.40L194.81,517.30M195.90,518.40L195.90,517.30M196.80,518.40L196.80,517.30M197.55,518.40L197.55,517.30M198.21,518.40L198.21,517.30M198.78,518.40L198.78,517.30M199.30,518.40L199.30,516.40" stroke="#444" stroke-width="0.5" fill="none"/>
<rect x="142.10" y="507.18" width="1.60" height="2.20" fill="#111" stroke="none" stroke-width="0.7"/>
<rect x="150.80" y="517.80" width="2.80" height="1.30" fill="#111" stroke="none" stroke-width="0.7"/>
<text x="191.50" y="470.40" font-size="6.7" font-weight="normal" fill="#000" text-anchor="end">86.7</text>
<line x1="226.50" y1="462.30" x2="226.50" y2="518.40" stroke="#222" stroke-width="0.8"/>
<line x1="204.80" y1="501.50" x2="261.50" y2="501.50" stroke="#222" stroke-width="0.8"/>
<path d="M204.80,462.30 L261.50,462.30 L261.50,518.40" fill="none" stroke="#aaa" stroke-width="0.6"/>
<path d="M204.80,462.30 L204.80,518.40 L261.50,518.40" fill="none" stroke="#bbb" stroke-width="0.5"/>
<path d="M204.80,508.30L206.80,508.30M204.80,504.92L205.90,504.92M204.80,502.95L205.90,502.95M204.80,501.55L205.90,501.55M204.80,500.46L205.90,500.46M204.80,499.57L205.90,499.57M204.80,498.82L205.90,498.82M204.80,498.17L205.90,498.17M204.80,497.60L205.90,497.60M204.80,497.08L206.80,497.08M204.80,493.70L205.90,493.70M204.80,491.73L205.90,491.73M204.80,490.33L205.90,490.33M204.80,489.24L205.90,489.24M204.80,488.35L205.90,488.35M204.80,487.60L205.90,487.60M204.80,486.95L205.90,486.95M204.80,486.38L205.90,486.38M204.80,485.86L206.80,485.86M204.80,482.48L205.90,482.48M204.80,480.51L205.90,480.51M204.80,479.11L205.90,479.11M204.80,478.02L205.90,478.02M204.80,477.13L205.90,477.13M204.80,476.38L205.90,476.38M204.80,475.73L205.90,475.73M204.80,475.16L205.90,475.16M204.80,474.64L206.80,474.64M204.80,471.26L205.90,471.26M204.80,469.29L205.90,469.29M204.80,467.89L205.90,467.89M204.80,466.80L205.90,466.80M204.80,465.91L205.90,465.91M204.80,465.16L205.90,465.16M204.80,464.51L205.90,464.51M204.80,463.94L205.90,463.94M204.80,463.42L206.80,463.42M216.14,518.40L216.14,516.40M219.55,518.40L219.55,517.30M221.55,518.40L221.55,517.30M222.97,518.40L222.97,517.30M224.07,518.40L224.07,517.30M224.96,518.40L224.96,517.30M225.72,518.40L225.72,517.30M226.38,518.40L226.38,517.30M226.96,518.40L226.96,517.30M227.48,518.40L227.48,516.40M230.89,518.40L230.89,517.30M232.89,518.40L232.89,517.30M234.31,518.40L234.31,517.30M235.41,518.40L235.41,517.30M236.30,518.40L236.30,517.30M237.06,518.40L237.06,517.30M237.72,518.40L237.72,517.30M238.30,518.40L238.30,517.30M238.82,518.40L238.82,516.40M242.23,518.40L242.23,517.30M244.23,518.40L244.23,517.30M245.65,518.40L245.65,517.30M246.75,518.40L246.75,517.30M247.64,518.40L247.64,517.30M248.40,518.40L248.40,517.30M249.06,518.40L249.06,517.30M249.64,518.40L249.64,517.30M250.16,518.40L250.16,516.40M253.57,518.40L253.57,517.30M255.57,518.40L255.57,517.30M256.99,518.40L256.99,517.30M258.09,518.40L258.09,517.30M258.98,518.40L258.98,517.30M259.74,518.40L259.74,517.30M260.40,518.40L260.40,517.30M260.98,518.40L260.98,517.30M261.50,518.40L261.50,516.40" stroke="#444" stroke-width="0.5" fill="none"/>
<rect x="204.00" y="507.18" width="1.60" height="2.20" fill="#111" stroke="none" stroke-width="0.7"/>
<rect x="212.74" y="517.80" width="2.80" height="1.30" fill="#111" stroke="none" stroke-width="0.7"/>
<text x="253.70" y="470.40" font-size="6.7" font-weight="normal" fill="#000" text-anchor="end">46.9</text>
<line x1="285.50" y1="462.30" x2="285.50" y2="518.40" stroke="#222" stroke-width="0.8"/>
<line x1="267.00" y1="501.50" x2="324.50" y2="501.50" stroke="#222" stroke-width="0.8"/>
<path d="M267.00,462.30 L324.50,462.30 L324.50,518.40" fill="none" stroke="#aaa" stroke-width="0.6"/>
<path d="M267.00,462.30 L267.00,518.40 L324.50,518.40" fill="none" stroke="#bbb" stroke-width="0.5"/>
<path d="M267.00,508.30L269.00,508.30M267.00,504.92L268.10,504.92M267.00,502.95L268.10,502.95M267.00,501.55L268.10,501.55M267.00,500.46L268.10,500.46M267.00,499.57L268.10,499.57M267.00,498.82L268.10,498.82M267.00,498.17L268.10,498.17M267.00,497.60L268.10,497.60M267.00,497.08L269.00,497.08M267.00,493.70L268.10,493.70M267.00,491.73L268.10,491.73M267.00,490.33L268.10,490.33M267.00,489.24L268.10,489.24M267.00,488.35L268.10,488.35M267.00,487.60L268.10,487.60M267.00,486.95L268.10,486.95M267.00,486.38L268.10,486.38M267.00,485.86L269.00,485.86M267.00,482.48L268.10,482.48M267.00,480.51L268.10,480.51M267.00,479.11L268.10,479.11M267.00,478.02L268.10,478.02M267.00,477.13L268.10,477.13M267.00,476.38L268.10,476.38M267.00,475.73L268.10,475.73M267.00,475.16L268.10,475.16M267.00,474.64L269.00,474.64M267.00,471.26L268.10,471.26M267.00,469.29L268.10,469.29M267.00,467.89L268.10,467.89M267.00,466.80L268.10,466.80M267.00,465.91L268.10,465.91M267.00,465.16L268.10,465.16M267.00,464.51L268.10,464.51M267.00,463.94L268.10,463.94M267.00,463.42L269.00,463.42M278.50,518.40L278.50,516.40M281.96,518.40L281.96,517.30M283.99,518.40L283.99,517.30M285.42,518.40L285.42,517.30M286.54,518.40L286.54,517.30M287.45,518.40L287.45,517.30M288.22,518.40L288.22,517.30M288.89,518.40L288.89,517.30M289.47,518.40L289.47,517.30M290.00,518.40L290.00,516.40M293.46,518.40L293.46,517.30M295.49,518.40L295.49,517.30M296.92,518.40L296.92,517.30M298.04,518.40L298.04,517.30M298.95,518.40L298.95,517.30M299.72,518.40L299.72,517.30M300.39,518.40L300.39,517.30M300.97,518.40L300.97,517.30M301.50,518.40L301.50,516.40M304.96,518.40L304.96,517.30M306.99,518.40L306.99,517.30M308.42,518.40L308.42,517.30M309.54,518.40L309.54,517.30M310.45,518.40L310.45,517.30M311.22,518.40L311.22,517.30M311.89,518.40L311.89,517.30M312.47,518.40L312.47,517.30M313.00,518.40L313.00,516.40M316.46,518.40L316.46,517.30M318.49,518.40L318.49,517.30M319.92,518.40L319.92,517.30M321.04,518.40L321.04,517.30M321.95,518.40L321.95,517.30M322.72,518.40L322.72,517.30M323.39,518.40L323.39,517.30M323.97,518.40L323.97,517.30M324.50,518.40L324.50,516.40" stroke="#444" stroke-width="0.5" fill="none"/>
<rect x="266.20" y="507.18" width="1.60" height="2.20" fill="#111" stroke="none" stroke-width="0.7"/>
<rect x="275.05" y="517.80" width="2.80" height="1.30" fill="#111" stroke="none" stroke-width="0.7"/>
<text x="316.70" y="470.40" font-size="6.7" font-weight="normal" fill="#000" text-anchor="end">20.7</text>
<line x1="11.70" y1="464.70" x2="11.70" y2="497.00" stroke="#000" stroke-width="1.4"/>
<text x="13.20" y="510.80" font-size="7.0" font-weight="normal" fill="#1e1e1e" text-anchor="middle" transform="rotate(-90 13.2 510.8)">PD-1</text>
<text x="16.80" y="527.60" font-size="7.1" font-weight="normal" fill="#1e1e1e" text-anchor="start">HLA-DR</text>
<line x1="48.40" y1="523.80" x2="324.00" y2="523.80" stroke="#000" stroke-width="1.3"/>
<text x="323.40" y="531.60" font-size="6.1" font-weight="normal" fill="#1e1e1e" text-anchor="end">BM - pregated on EGFRt<tspan font-size="5.4" dy="-2.8">+</tspan></text>
<text x="9.00" y="602.00" font-size="7.6" font-weight="normal" fill="#1e1e1e" text-anchor="middle" transform="rotate(-90 9.0 602.0)">% PD-1<tspan font-size="5.8" dy="-3.2">+</tspan><tspan dy="3.2">/HLA-DR</tspan><tspan font-size="5.8" dy="-3.2">+</tspan></text>
<text x="17.90" y="603.40" font-size="7.6" font-weight="normal" fill="#1e1e1e" text-anchor="middle" transform="rotate(-90 17.9 603.4)">of EGFRt<tspan font-size="5.8" dy="-3.2">+</tspan></text>
<line x1="32.10" y1="650.00" x2="35.70" y2="650.00" stroke="#333" stroke-width="0.9"/>
<text x="31.90" y="650.30" font-size="7.1" font-weight="normal" fill="#1e1e1e" text-anchor="end">0</text>
<line x1="32.10" y1="630.48" x2="35.70" y2="630.48" stroke="#333" stroke-width="0.9"/>
<text x="31.90" y="630.78" font-size="7.1" font-weight="normal" fill="#1e1e1e" text-anchor="end">20</text>
<line x1="32.10" y1="610.96" x2="35.70" y2="610.96" stroke="#333" stroke-width="0.9"/>
<text x="31.90" y="611.26" font-size="7.1" font-weight="normal" fill="#1e1e1e" text-anchor="end">40</text>
<line x1="32.10" y1="591.44" x2="35.70" y2="591.44" stroke="#333" stroke-width="0.9"/>
<text x="31.90" y="591.74" font-size="7.1" font-weight="normal" fill="#1e1e1e" text-anchor="end">60</text>
<line x1="32.10" y1="571.92" x2="35.70" y2="571.92" stroke="#333" stroke-width="0.9"/>
<text x="31.90" y="572.22" font-size="7.1" font-weight="normal" fill="#1e1e1e" text-anchor="end">80</text>
<line x1="32.10" y1="552.40" x2="35.70" y2="552.40" stroke="#333" stroke-width="0.9"/>
<text x="31.90" y="552.70" font-size="7.1" font-weight="normal" fill="#1e1e1e" text-anchor="end">100</text>
<line x1="35.70" y1="552.00" x2="35.70" y2="650.00" stroke="#444" stroke-width="1.0"/>
<line x1="35.70" y1="650.00" x2="93.20" y2="650.00" stroke="#444" stroke-width="1.0"/>
<line x1="100.60" y1="650.00" x2="104.20" y2="650.00" stroke="#333" stroke-width="0.9"/>
<line x1="100.60" y1="630.48" x2="104.20" y2="630.48" stroke="#333" stroke-width="0.9"/>
<line x1="100.60" y1="610.96" x2="104.20" y2="610.96" stroke="#333" stroke-width="0.9"/>
<line x1="100.60" y1="591.44" x2="104.20" y2="591.44" stroke="#333" stroke-width="0.9"/>
<line x1="100.60" y1="571.92" x2="104.20" y2="571.92" stroke="#333" stroke-width="0.9"/>
<line x1="100.60" y1="552.40" x2="104.20" y2="552.40" stroke="#333" stroke-width="0.9"/>
<line x1="104.20" y1="552.00" x2="104.20" y2="650.00" stroke="#444" stroke-width="1.0"/>
<line x1="104.20" y1="650.00" x2="163.50" y2="650.00" stroke="#444" stroke-width="1.0"/>
<line x1="169.70" y1="650.00" x2="173.30" y2="650.00" stroke="#333" stroke-width="0.9"/>
<line x1="169.70" y1="630.48" x2="173.30" y2="630.48" stroke="#333" stroke-width="0.9"/>
<line x1="169.70" y1="610.96" x2="173.30" y2="610.96" stroke="#333" stroke-width="0.9"/>
<line x1="169.70" y1="591.44" x2="173.30" y2="591.44" stroke="#333" stroke-width="0.9"/>
<line x1="169.70" y1="571.92" x2="173.30" y2="571.92" stroke="#333" stroke-width="0.9"/>
<line x1="169.70" y1="552.40" x2="173.30" y2="552.40" stroke="#333" stroke-width="0.9"/>
<line x1="173.30" y1="552.00" x2="173.30" y2="650.00" stroke="#444" stroke-width="1.0"/>
<line x1="173.30" y1="650.00" x2="231.50" y2="650.00" stroke="#444" stroke-width="1.0"/>
<rect x="40.30" y="587.54" width="8.30" height="62.46" fill="#1c6399" stroke="#2a2a2a" stroke-width="0.8"/>
<rect x="50.60" y="593.39" width="8.30" height="56.61" fill="#bddff2" stroke="#2a2a2a" stroke-width="0.8"/>
<rect x="60.90" y="598.27" width="8.50" height="51.73" fill="#037a37" stroke="#2a2a2a" stroke-width="0.8"/>
<rect x="71.40" y="618.77" width="8.40" height="31.23" fill="#79ad8b" stroke="#2a2a2a" stroke-width="0.8"/>
<rect x="81.30" y="612.91" width="8.40" height="37.09" fill="#c0d9c9" stroke="#2a2a2a" stroke-width="0.8"/>
<line x1="44.45" y1="587.54" x2="44.45" y2="581.68" stroke="#111" stroke-width="0.7"/>
<line x1="42.45" y1="581.68" x2="46.45" y2="581.68" stroke="#111" stroke-width="0.7"/>
<circle cx="44.64" cy="594.37" r="1.00" fill="#111" stroke="none" stroke-width="0.5"/>
<circle cx="43.31" cy="591.44" r="1.00" fill="#111" stroke="none" stroke-width="0.5"/>
<circle cx="43.57" cy="589.49" r="1.00" fill="#111" stroke="none" stroke-width="0.5"/>
<circle cx="43.67" cy="585.58" r="1.00" fill="#111" stroke="none" stroke-width="0.5"/>
<circle cx="44.77" cy="583.63" r="1.00" fill="#111" stroke="none" stroke-width="0.5"/>
<circle cx="45.79" cy="580.70" r="1.00" fill="#111" stroke="none" stroke-width="0.5"/>
<circle cx="44.54" cy="578.75" r="1.00" fill="#111" stroke="none" stroke-width="0.5"/>
<line x1="54.75" y1="593.39" x2="54.75" y2="581.68" stroke="#111" stroke-width="0.7"/>
<line x1="52.75" y1="581.68" x2="56.75" y2="581.68" stroke="#111" stroke-width="0.7"/>
<circle cx="55.92" cy="611.94" r="1.00" fill="#111" stroke="none" stroke-width="0.5"/>
<circle cx="53.86" cy="599.25" r="1.00" fill="#111" stroke="none" stroke-width="0.5"/>
<circle cx="53.18" cy="595.34" r="1.00" fill="#111" stroke="none" stroke-width="0.5"/>
<circle cx="54.52" cy="589.49" r="1.00" fill="#111" stroke="none" stroke-width="0.5"/>
<circle cx="56.47" cy="584.61" r="1.00" fill="#111" stroke="none" stroke-width="0.5"/>
<circle cx="53.49" cy="579.73" r="1.00" fill="#111" stroke="none" stroke-width="0.5"/>
<line x1="65.15" y1="598.27" x2="65.15" y2="584.61" stroke="#111" stroke-width="0.7"/>
<line x1="63.15" y1="584.61" x2="67.15" y2="584.61" stroke="#111" stroke-width="0.7"/>
<circle cx="65.71" cy="614.86" r="1.00" fill="#111" stroke="none" stroke-width="0.5"/>
<circle cx="65.74" cy="614.86" r="1.00" fill="#111" stroke="none" stroke-width="0.5"/>
<circle cx="63.40" cy="601.20" r="1.00" fill="#111" stroke="none" stroke-width="0.5"/>
<circle cx="63.83" cy="591.44" r="1.00" fill="#111" stroke="none" stroke-width="0.5"/>
<circle cx="66.91" cy="587.54" r="1.00" fill="#111" stroke="none" stroke-width="0.5"/>
<line x1="75.60" y1="618.77" x2="75.60" y2="604.13" stroke="#111" stroke-width="0.7"/>
<line x1="73.60" y1="604.13" x2="77.60" y2="604.13" stroke="#111" stroke-width="0.7"/>
<circle cx="75.84" cy="632.43" r="1.00" fill="#111" stroke="none" stroke-width="0.5"/>
<circle cx="77.33" cy="630.48" r="1.00" fill="#111" stroke="none" stroke-width="0.5"/>
<circle cx="75.33" cy="628.53" r="1.00" fill="#111" stroke="none" stroke-width="0.5"/>
<circle cx="76.98" cy="603.15" r="1.00" fill="#111" stroke="none" stroke-width="0.5"/>
<line x1="85.50" y1="612.91" x2="85.50" y2="608.03" stroke="#111" stroke-width="0.7"/>
<line x1="83.50" y1="608.03" x2="87.50" y2="608.03" stroke="#111" stroke-width="0.7"/>
<circle cx="84.38" cy="616.82" r="1.00" fill="#111" stroke="none" stroke-width="0.5"/>
<circle cx="84.06" cy="615.84" r="1.00" fill="#111" stroke="none" stroke-width="0.5"/>
<circle cx="83.66" cy="614.86" r="1.00" fill="#111" stroke="none" stroke-width="0.5"/>
<circle cx="85.97" cy="610.96" r="1.00" fill="#111" stroke="none" stroke-width="0.5"/>
<circle cx="84.52" cy="608.03" r="1.00" fill="#111" stroke="none" stroke-width="0.5"/>
<circle cx="84.42" cy="606.08" r="1.00" fill="#111" stroke="none" stroke-width="0.5"/>
<path d="M44.40,572.70 L44.40,570.70 L75.60,570.70 L75.60,595.50" fill="none" stroke="#333" stroke-width="0.7"/>
<text x="59.50" y="568.60" font-size="5.0" font-weight="normal" fill="#222" text-anchor="middle"><tspan font-style="italic">p</tspan> = 0.0018</text>
<path d="M44.40,570.70 L44.40,563.30 L85.70,563.30 L85.70,607.40" fill="none" stroke="#333" stroke-width="0.7"/>
<text x="64.50" y="561.20" font-size="5.0" font-weight="normal" fill="#222" text-anchor="middle"><tspan font-style="italic">p</tspan> = 0.0024</text>
<rect x="108.90" y="565.09" width="8.60" height="84.91" fill="#1c6399" stroke="#2a2a2a" stroke-width="0.8"/>
<rect x="119.50" y="566.06" width="8.60" height="83.94" fill="#bddff2" stroke="#2a2a2a" stroke-width="0.8"/>
<rect x="129.70" y="562.65" width="8.60" height="87.35" fill="#037a37" stroke="#2a2a2a" stroke-width="0.8"/>
<rect x="140.40" y="590.46" width="8.40" height="59.54" fill="#79ad8b" stroke="#2a2a2a" stroke-width="0.8"/>
<rect x="150.60" y="610.96" width="8.40" height="39.04" fill="#c0d9c9" stroke="#2a2a2a" stroke-width="0.8"/>
<line x1="113.20" y1="565.09" x2="113.20" y2="560.21" stroke="#111" stroke-width="0.7"/>
<line x1="111.20" y1="560.21" x2="115.20" y2="560.21" stroke="#111" stroke-width="0.7"/>
<circle cx="112.99" cy="576.80" r="1.00" fill="#111" stroke="none" stroke-width="0.5"/>
<circle cx="113.69" cy="569.97" r="1.00" fill="#111" stroke="none" stroke-width="0.5"/>
<circle cx="112.97" cy="567.04" r="1.00" fill="#111" stroke="none" stroke-width="0.5"/>
<circle cx="112.53" cy="564.11" r="1.00" fill="#111" stroke="none" stroke-width="0.5"/>
<circle cx="112.89" cy="562.16" r="1.00" fill="#111" stroke="none" stroke-width="0.5"/>
<circle cx="111.65" cy="560.21" r="1.00" fill="#111" stroke="none" stroke-width="0.5"/>
<circle cx="113.25" cy="561.18" r="1.00" fill="#111" stroke="none" stroke-width="0.5"/>
<line x1="123.80" y1="566.06" x2="123.80" y2="562.16" stroke="#111" stroke-width="0.7"/>
<line x1="121.80" y1="562.16" x2="125.80" y2="562.16" stroke="#111" stroke-width="0.7"/>
<circle cx="122.95" cy="568.02" r="1.00" fill="#111" stroke="none" stroke-width="0.5"/>
<circle cx="122.38" cy="566.06" r="1.00" fill="#111" stroke="none" stroke-width="0.5"/>
<circle cx="124.03" cy="564.11" r="1.00" fill="#111" stroke="none" stroke-width="0.5"/>
<circle cx="123.58" cy="561.18" r="1.00" fill="#111" stroke="none" stroke-width="0.5"/>
<circle cx="125.55" cy="558.26" r="1.00" fill="#111" stroke="none" stroke-width="0.5"/>
<line x1="134.00" y1="562.65" x2="134.00" y2="561.18" stroke="#111" stroke-width="0.7"/>
<line x1="132.00" y1="561.18" x2="136.00" y2="561.18" stroke="#111" stroke-width="0.7"/>
<circle cx="135.41" cy="564.11" r="1.00" fill="#111" stroke="none" stroke-width="0.5"/>
<circle cx="135.19" cy="563.14" r="1.00" fill="#111" stroke="none" stroke-width="0.5"/>
<circle cx="133.70" cy="562.16" r="1.00" fill="#111" stroke="none" stroke-width="0.5"/>
<circle cx="132.35" cy="561.18" r="1.00" fill="#111" stroke="none" stroke-width="0.5"/>
<circle cx="133.18" cy="561.18" r="1.00" fill="#111" stroke="none" stroke-width="0.5"/>
<line x1="144.60" y1="590.46" x2="144.60" y2="580.70" stroke="#111" stroke-width="0.7"/>
<line x1="142.60" y1="580.70" x2="146.60" y2="580.70" stroke="#111" stroke-width="0.7"/>
<circle cx="145.46" cy="599.25" r="1.00" fill="#111" stroke="none" stroke-width="0.5"/>
<circle cx="145.43" cy="591.44" r="1.00" fill="#111" stroke="none" stroke-width="0.5"/>
<circle cx="143.26" cy="589.49" r="1.00" fill="#111" stroke="none" stroke-width="0.5"/>
<circle cx="143.89" cy="587.54" r="1.00" fill="#111" stroke="none" stroke-width="0.5"/>
<circle cx="144.76" cy="578.75" r="1.00" fill="#111" stroke="none" stroke-width="0.5"/>
<line x1="154.80" y1="610.96" x2="154.80" y2="595.34" stroke="#111" stroke-width="0.7"/>
<line x1="152.80" y1="595.34" x2="156.80" y2="595.34" stroke="#111" stroke-width="0.7"/>
<circle cx="155.13" cy="628.53" r="1.00" fill="#111" stroke="none" stroke-width="0.5"/>
<circle cx="155.60" cy="615.84" r="1.00" fill="#111" stroke="none" stroke-width="0.5"/>
<circle cx="156.53" cy="612.91" r="1.00" fill="#111" stroke="none" stroke-width="0.5"/>
<circle cx="154.69" cy="610.96" r="1.00" fill="#111" stroke="none" stroke-width="0.5"/>
<circle cx="154.93" cy="589.49" r="1.00" fill="#111" stroke="none" stroke-width="0.5"/>
<path d="M113.20,555.50 L113.20,552.10 L144.60,552.10 L144.60,574.60" fill="none" stroke="#333" stroke-width="0.7"/>
<text x="127.70" y="550.60" font-size="5.0" font-weight="normal" fill="#222" text-anchor="middle"><tspan font-style="italic">p</tspan> = 0.0372</text>
<path d="M113.20,552.10 L113.20,546.00 L154.80,546.00 L154.80,597.40" fill="none" stroke="#333" stroke-width="0.7"/>
<text x="132.80" y="544.50" font-size="5.0" font-weight="normal" fill="#222" text-anchor="middle"><tspan font-style="italic">p</tspan> = 0.0008</text>
<rect x="177.80" y="578.75" width="8.60" height="71.25" fill="#1c6399" stroke="#2a2a2a" stroke-width="0.8"/>
<rect x="188.40" y="584.61" width="8.40" height="65.39" fill="#bddff2" stroke="#2a2a2a" stroke-width="0.8"/>
<rect x="198.60" y="589.49" width="8.40" height="60.51" fill="#037a37" stroke="#2a2a2a" stroke-width="0.8"/>
<rect x="209.00" y="599.25" width="8.60" height="50.75" fill="#79ad8b" stroke="#2a2a2a" stroke-width="0.8"/>
<rect x="219.70" y="610.96" width="8.10" height="39.04" fill="#c0d9c9" stroke="#2a2a2a" stroke-width="0.8"/>
<line x1="182.10" y1="578.75" x2="182.10" y2="573.87" stroke="#111" stroke-width="0.7"/>
<line x1="180.10" y1="573.87" x2="184.10" y2="573.87" stroke="#111" stroke-width="0.7"/>
<circle cx="183.81" cy="587.54" r="1.00" fill="#111" stroke="none" stroke-width="0.5"/>
<circle cx="182.54" cy="581.68" r="1.00" fill="#111" stroke="none" stroke-width="0.5"/>
<circle cx="183.74" cy="579.73" r="1.00" fill="#111" stroke="none" stroke-width="0.5"/>
<circle cx="181.73" cy="576.80" r="1.00" fill="#111" stroke="none" stroke-width="0.5"/>
<circle cx="180.27" cy="574.85" r="1.00" fill="#111" stroke="none" stroke-width="0.5"/>
<circle cx="182.54" cy="573.87" r="1.00" fill="#111" stroke="none" stroke-width="0.5"/>
<line x1="192.60" y1="584.61" x2="192.60" y2="579.73" stroke="#111" stroke-width="0.7"/>
<line x1="190.60" y1="579.73" x2="194.60" y2="579.73" stroke="#111" stroke-width="0.7"/>
<circle cx="193.84" cy="588.51" r="1.00" fill="#111" stroke="none" stroke-width="0.5"/>
<circle cx="191.94" cy="586.56" r="1.00" fill="#111" stroke="none" stroke-width="0.5"/>
<circle cx="191.38" cy="583.63" r="1.00" fill="#111" stroke="none" stroke-width="0.5"/>
<circle cx="193.97" cy="581.68" r="1.00" fill="#111" stroke="none" stroke-width="0.5"/>
<circle cx="193.09" cy="575.82" r="1.00" fill="#111" stroke="none" stroke-width="0.5"/>
<line x1="202.80" y1="589.49" x2="202.80" y2="584.61" stroke="#111" stroke-width="0.7"/>
<line x1="200.80" y1="584.61" x2="204.80" y2="584.61" stroke="#111" stroke-width="0.7"/>
<circle cx="201.87" cy="595.34" r="1.00" fill="#111" stroke="none" stroke-width="0.5"/>
<circle cx="202.91" cy="591.44" r="1.00" fill="#111" stroke="none" stroke-width="0.5"/>
<circle cx="203.09" cy="589.49" r="1.00" fill="#111" stroke="none" stroke-width="0.5"/>
<circle cx="203.54" cy="586.56" r="1.00" fill="#111" stroke="none" stroke-width="0.5"/>
<circle cx="202.40" cy="583.63" r="1.00" fill="#111" stroke="none" stroke-width="0.5"/>
<line x1="213.30" y1="599.25" x2="213.30" y2="592.42" stroke="#111" stroke-width="0.7"/>
<line x1="211.30" y1="592.42" x2="215.30" y2="592.42" stroke="#111" stroke-width="0.7"/>
<circle cx="213.51" cy="607.06" r="1.00" fill="#111" stroke="none" stroke-width="0.5"/>
<circle cx="212.74" cy="605.10" r="1.00" fill="#111" stroke="none" stroke-width="0.5"/>
<circle cx="215.13" cy="602.18" r="1.00" fill="#111" stroke="none" stroke-width="0.5"/>
<circle cx="211.72" cy="598.27" r="1.00" fill="#111" stroke="none" stroke-width="0.5"/>
<circle cx="213.44" cy="595.34" r="1.00" fill="#111" stroke="none" stroke-width="0.5"/>
<circle cx="212.70" cy="591.44" r="1.00" fill="#111" stroke="none" stroke-width="0.5"/>
<line x1="223.75" y1="610.96" x2="223.75" y2="606.08" stroke="#111" stroke-width="0.7"/>
<line x1="221.75" y1="606.08" x2="225.75" y2="606.08" stroke="#111" stroke-width="0.7"/>
<circle cx="225.26" cy="615.84" r="1.00" fill="#111" stroke="none" stroke-width="0.5"/>
<circle cx="223.95" cy="612.91" r="1.00" fill="#111" stroke="none" stroke-width="0.5"/>
<circle cx="225.17" cy="610.96" r="1.00" fill="#111" stroke="none" stroke-width="0.5"/>
<circle cx="223.47" cy="609.01" r="1.00" fill="#111" stroke="none" stroke-width="0.5"/>
<circle cx="223.25" cy="607.06" r="1.00" fill="#111" stroke="none" stroke-width="0.5"/>
<circle cx="223.21" cy="604.13" r="1.00" fill="#111" stroke="none" stroke-width="0.5"/>
<path d="M182.10,571.90 L182.10,566.40 L202.80,566.40 L202.80,580.00" fill="none" stroke="#333" stroke-width="0.7"/>
<text x="192.70" y="564.40" font-size="5.0" font-weight="normal" fill="#222" text-anchor="middle"><tspan font-style="italic">p</tspan> = 0.0063</text>
<path d="M182.10,566.40 L182.10,558.20 L213.30,558.20 L213.30,589.30" fill="none" stroke="#333" stroke-width="0.7"/>
<text x="197.20" y="556.60" font-size="5.0" font-weight="normal" fill="#222" text-anchor="middle"><tspan font-style="italic">p</tspan> &lt; 0.0001</text>
<path d="M182.10,558.20 L182.10,550.40 L223.80,550.40 L223.80,601.50" fill="none" stroke="#333" stroke-width="0.7"/>
<text x="201.30" y="548.80" font-size="5.0" font-weight="normal" fill="#222" text-anchor="middle"><tspan font-style="italic">p</tspan> &lt; 0.0001</text>
<line x1="66.50" y1="650.00" x2="66.50" y2="652.60" stroke="#333" stroke-width="0.8"/>
<text x="66.50" y="658.60" font-size="7.4" font-weight="normal" fill="#1a1a1a" text-anchor="middle">blood</text>
<line x1="134.90" y1="650.00" x2="134.90" y2="652.60" stroke="#333" stroke-width="0.8"/>
<text x="134.90" y="658.60" font-size="7.4" font-weight="normal" fill="#1a1a1a" text-anchor="middle">BM</text>
<line x1="202.30" y1="650.00" x2="202.30" y2="652.60" stroke="#333" stroke-width="0.8"/>
<text x="202.30" y="658.60" font-size="7.4" font-weight="normal" fill="#1a1a1a" text-anchor="middle">spleen</text>
<text x="362.60" y="449.40" font-size="10.5" font-weight="bold" fill="#000" text-anchor="start">j</text>
<text x="400.80" y="457.40" font-size="8.6" font-weight="bold" fill="#2a6aa3" text-anchor="middle">JCAR017</text>
<rect x="373.50" y="463.00" width="56.30" height="55.60" fill="#fff" stroke="none" stroke-width="0.7"/>
<text x="464.00" y="457.40" font-size="8.6" font-weight="bold" fill="#b3d6ef" text-anchor="middle">JCAR021</text>
<rect x="436.30" y="463.00" width="55.70" height="55.60" fill="#fff" stroke="none" stroke-width="0.7"/>
<text x="526.40" y="457.40" font-size="8.6" font-weight="bold" fill="#107d3b" text-anchor="middle">L237W</text>
<rect x="499.10" y="463.40" width="56.90" height="55.00" fill="#fff" stroke="none" stroke-width="0.7"/>
<text x="590.20" y="457.40" font-size="8.6" font-weight="bold" fill="#6aa67f" text-anchor="middle">M35A</text>
<rect x="560.60" y="463.40" width="56.10" height="55.00" fill="#fff" stroke="none" stroke-width="0.7"/>
<text x="650.80" y="457.40" font-size="8.6" font-weight="bold" fill="#b5d3c1" text-anchor="middle">V236W</text>
<rect x="622.60" y="463.40" width="56.70" height="55.00" fill="#fff" stroke="none" stroke-width="0.7"/>
<ellipse cx="395.40" cy="502.50" rx="10.00" ry="12.00" transform="rotate(10 395.40 502.50)" fill="#000" fill-opacity="0.02" stroke="#333" stroke-width="0.45" stroke-opacity="0.9"/>
<ellipse cx="395.54" cy="502.59" rx="8.68" ry="10.41" transform="rotate(10 395.54 502.59)" fill="#000" fill-opacity="0.02" stroke="#333" stroke-width="0.45" stroke-opacity="0.9"/>
<ellipse cx="395.67" cy="502.68" rx="7.70" ry="9.24" transform="rotate(10 395.67 502.68)" fill="#000" fill-opacity="0.02" stroke="#333" stroke-width="0.45" stroke-opacity="0.9"/>
<ellipse cx="395.81" cy="502.77" rx="6.82" ry="8.18" transform="rotate(10 395.81 502.77)" fill="#000" fill-opacity="0.02" stroke="#333" stroke-width="0.45" stroke-opacity="0.9"/>
<ellipse cx="395.95" cy="502.86" rx="5.99" ry="7.19" transform="rotate(10 395.95 502.86)" fill="#000" fill-opacity="0.02" stroke="#333" stroke-width="0.45" stroke-opacity="0.9"/>
<ellipse cx="396.08" cy="502.95" rx="5.21" ry="6.25" transform="rotate(10 396.08 502.95)" fill="#000" fill-opacity="0.02" stroke="#333" stroke-width="0.45" stroke-opacity="0.9"/>
<ellipse cx="396.22" cy="503.05" rx="4.46" ry="5.35" transform="rotate(10 396.22 503.05)" fill="#000" fill-opacity="0.02" stroke="#333" stroke-width="0.45" stroke-opacity="0.9"/>
<ellipse cx="396.35" cy="503.14" rx="3.73" ry="4.48" transform="rotate(10 396.35 503.14)" fill="#000" fill-opacity="0.02" stroke="#333" stroke-width="0.45" stroke-opacity="0.9"/>
<ellipse cx="396.49" cy="503.23" rx="3.02" ry="3.63" transform="rotate(10 396.49 503.23)" fill="#000" fill-opacity="0.02" stroke="#333" stroke-width="0.45" stroke-opacity="0.9"/>
<ellipse cx="396.63" cy="503.32" rx="2.33" ry="2.80" transform="rotate(10 396.63 503.32)" fill="#000" fill-opacity="0.02" stroke="#333" stroke-width="0.45" stroke-opacity="0.9"/>
<ellipse cx="396.76" cy="503.41" rx="1.66" ry="1.99" transform="rotate(10 396.76 503.41)" fill="#000" fill-opacity="0.02" stroke="#333" stroke-width="0.45" stroke-opacity="0.9"/>
<ellipse cx="396.90" cy="503.50" rx="1.00" ry="1.20" transform="rotate(10 396.90 503.50)" fill="#000" fill-opacity="0.02" stroke="#333" stroke-width="0.45" stroke-opacity="0.9"/>
<ellipse cx="465.00" cy="502.50" rx="13.00" ry="11.50" transform="rotate(-20 465.00 502.50)" fill="#000" fill-opacity="0.015" stroke="#333" stroke-width="0.45" stroke-opacity="0.9"/>
<ellipse cx="464.86" cy="502.64" rx="11.28" ry="9.98" transform="rotate(-20 464.86 502.64)" fill="#000" fill-opacity="0.015" stroke="#333" stroke-width="0.45" stroke-opacity="0.9"/>
<ellipse cx="464.73" cy="502.77" rx="10.01" ry="8.85" transform="rotate(-20 464.73 502.77)" fill="#000" fill-opacity="0.015" stroke="#333" stroke-width="0.45" stroke-opacity="0.9"/>
<ellipse cx="464.59" cy="502.91" rx="8.86" ry="7.84" transform="rotate(-20 464.59 502.91)" fill="#000" fill-opacity="0.015" stroke="#333" stroke-width="0.45" stroke-opacity="0.9"/>
<ellipse cx="464.45" cy="503.05" rx="7.79" ry="6.89" transform="rotate(-20 464.45 503.05)" fill="#000" fill-opacity="0.015" stroke="#333" stroke-width="0.45" stroke-opacity="0.9"/>
<ellipse cx="464.32" cy="503.18" rx="6.77" ry="5.99" transform="rotate(-20 464.32 503.18)" fill="#000" fill-opacity="0.015" stroke="#333" stroke-width="0.45" stroke-opacity="0.9"/>
<ellipse cx="464.18" cy="503.32" rx="5.80" ry="5.13" transform="rotate(-20 464.18 503.32)" fill="#000" fill-opacity="0.015" stroke="#333" stroke-width="0.45" stroke-opacity="0.9"/>
<ellipse cx="464.05" cy="503.45" rx="4.85" ry="4.29" transform="rotate(-20 464.05 503.45)" fill="#000" fill-opacity="0.015" stroke="#333" stroke-width="0.45" stroke-opacity="0.9"/>
<ellipse cx="463.91" cy="503.59" rx="3.93" ry="3.48" transform="rotate(-20 463.91 503.59)" fill="#000" fill-opacity="0.015" stroke="#333" stroke-width="0.45" stroke-opacity="0.9"/>
<ellipse cx="463.77" cy="503.73" rx="3.04" ry="2.69" transform="rotate(-20 463.77 503.73)" fill="#000" fill-opacity="0.015" stroke="#333" stroke-width="0.45" stroke-opacity="0.9"/>
<ellipse cx="463.64" cy="503.86" rx="2.16" ry="1.91" transform="rotate(-20 463.64 503.86)" fill="#000" fill-opacity="0.015" stroke="#333" stroke-width="0.45" stroke-opacity="0.9"/>
<ellipse cx="463.50" cy="504.00" rx="1.30" ry="1.15" transform="rotate(-20 463.50 504.00)" fill="#000" fill-opacity="0.015" stroke="#333" stroke-width="0.45" stroke-opacity="0.9"/>
<ellipse cx="529.00" cy="494.00" rx="6.50" ry="5.50" transform="rotate(0 529.00 494.00)" fill="none" stroke="#555" stroke-width="0.42" stroke-opacity="0.85"/>
<ellipse cx="529.00" cy="494.00" rx="5.20" ry="4.40" transform="rotate(0 529.00 494.00)" fill="none" stroke="#555" stroke-width="0.42" stroke-opacity="0.85"/>
<ellipse cx="529.00" cy="494.00" rx="3.90" ry="3.30" transform="rotate(0 529.00 494.00)" fill="none" stroke="#555" stroke-width="0.42" stroke-opacity="0.85"/>
<ellipse cx="529.00" cy="494.00" rx="2.60" ry="2.20" transform="rotate(0 529.00 494.00)" fill="none" stroke="#555" stroke-width="0.42" stroke-opacity="0.85"/>
<ellipse cx="528.30" cy="503.80" rx="10.50" ry="12.00" transform="rotate(5 528.30 503.80)" fill="#000" fill-opacity="0.015" stroke="#333" stroke-width="0.45" stroke-opacity="0.9"/>
<ellipse cx="528.30" cy="504.07" rx="9.11" ry="10.41" transform="rotate(5 528.30 504.07)" fill="#000" fill-opacity="0.015" stroke="#333" stroke-width="0.45" stroke-opacity="0.9"/>
<ellipse cx="528.30" cy="504.35" rx="8.08" ry="9.24" transform="rotate(5 528.30 504.35)" fill="#000" fill-opacity="0.015" stroke="#333" stroke-width="0.45" stroke-opacity="0.9"/>
<ellipse cx="528.30" cy="504.62" rx="7.16" ry="8.18" transform="rotate(5 528.30 504.62)" fill="#000" fill-opacity="0.015" stroke="#333" stroke-width="0.45" stroke-opacity="0.9"/>
<ellipse cx="528.30" cy="504.89" rx="6.29" ry="7.19" transform="rotate(5 528.30 504.89)" fill="#000" fill-opacity="0.015" stroke="#333" stroke-width="0.45" stroke-opacity="0.9"/>
<ellipse cx="528.30" cy="505.16" rx="5.47" ry="6.25" transform="rotate(5 528.30 505.16)" fill="#000" fill-opacity="0.015" stroke="#333" stroke-width="0.45" stroke-opacity="0.9"/>
<ellipse cx="528.30" cy="505.44" rx="4.68" ry="5.35" transform="rotate(5 528.30 505.44)" fill="#000" fill-opacity="0.015" stroke="#333" stroke-width="0.45" stroke-opacity="0.9"/>
<ellipse cx="528.30" cy="505.71" rx="3.92" ry="4.48" transform="rotate(5 528.30 505.71)" fill="#000" fill-opacity="0.015" stroke="#333" stroke-width="0.45" stroke-opacity="0.9"/>
<ellipse cx="528.30" cy="505.98" rx="3.18" ry="3.63" transform="rotate(5 528.30 505.98)" fill="#000" fill-opacity="0.015" stroke="#333" stroke-width="0.45" stroke-opacity="0.9"/>
<ellipse cx="528.30" cy="506.25" rx="2.45" ry="2.80" transform="rotate(5 528.30 506.25)" fill="#000" fill-opacity="0.015" stroke="#333" stroke-width="0.45" stroke-opacity="0.9"/>
<ellipse cx="528.30" cy="506.53" rx="1.74" ry="1.99" transform="rotate(5 528.30 506.53)" fill="#000" fill-opacity="0.015" stroke="#333" stroke-width="0.45" stroke-opacity="0.9"/>
<ellipse cx="528.30" cy="506.80" rx="1.05" ry="1.20" transform="rotate(5 528.30 506.80)" fill="#000" fill-opacity="0.015" stroke="#333" stroke-width="0.45" stroke-opacity="0.9"/>
<ellipse cx="589.50" cy="502.00" rx="13.50" ry="10.00" transform="rotate(-35 589.50 502.00)" fill="#000" fill-opacity="0.015" stroke="#333" stroke-width="0.45" stroke-opacity="0.9"/>
<ellipse cx="589.32" cy="502.18" rx="11.72" ry="8.68" transform="rotate(-35 589.32 502.18)" fill="#000" fill-opacity="0.015" stroke="#333" stroke-width="0.45" stroke-opacity="0.9"/>
<ellipse cx="589.14" cy="502.36" rx="10.39" ry="7.70" transform="rotate(-35 589.14 502.36)" fill="#000" fill-opacity="0.015" stroke="#333" stroke-width="0.45" stroke-opacity="0.9"/>
<ellipse cx="588.95" cy="502.55" rx="9.20" ry="6.82" transform="rotate(-35 588.95 502.55)" fill="#000" fill-opacity="0.015" stroke="#333" stroke-width="0.45" stroke-opacity="0.9"/>
<ellipse cx="588.77" cy="502.73" rx="8.09" ry="5.99" transform="rotate(-35 588.77 502.73)" fill="#000" fill-opacity="0.015" stroke="#333" stroke-width="0.45" stroke-opacity="0.9"/>
<ellipse cx="588.59" cy="502.91" rx="7.03" ry="5.21" transform="rotate(-35 588.59 502.91)" fill="#000" fill-opacity="0.015" stroke="#333" stroke-width="0.45" stroke-opacity="0.9"/>
<ellipse cx="588.41" cy="503.09" rx="6.02" ry="4.46" transform="rotate(-35 588.41 503.09)" fill="#000" fill-opacity="0.015" stroke="#333" stroke-width="0.45" stroke-opacity="0.9"/>
<ellipse cx="588.23" cy="503.27" rx="5.04" ry="3.73" transform="rotate(-35 588.23 503.27)" fill="#000" fill-opacity="0.015" stroke="#333" stroke-width="0.45" stroke-opacity="0.9"/>
<ellipse cx="588.05" cy="503.45" rx="4.08" ry="3.02" transform="rotate(-35 588.05 503.45)" fill="#000" fill-opacity="0.015" stroke="#333" stroke-width="0.45" stroke-opacity="0.9"/>
<ellipse cx="587.86" cy="503.64" rx="3.15" ry="2.33" transform="rotate(-35 587.86 503.64)" fill="#000" fill-opacity="0.015" stroke="#333" stroke-width="0.45" stroke-opacity="0.9"/>
<ellipse cx="587.68" cy="503.82" rx="2.24" ry="1.66" transform="rotate(-35 587.68 503.82)" fill="#000" fill-opacity="0.015" stroke="#333" stroke-width="0.45" stroke-opacity="0.9"/>
<ellipse cx="587.50" cy="504.00" rx="1.35" ry="1.00" transform="rotate(-35 587.50 504.00)" fill="#000" fill-opacity="0.015" stroke="#333" stroke-width="0.45" stroke-opacity="0.9"/>
<ellipse cx="646.80" cy="498.00" rx="8.50" ry="15.50" transform="rotate(5 646.80 498.00)" fill="#000" fill-opacity="0.01" stroke="#444" stroke-width="0.42" stroke-opacity="0.85"/>
<ellipse cx="646.80" cy="498.00" rx="7.44" ry="13.56" transform="rotate(5 646.80 498.00)" fill="#000" fill-opacity="0.01" stroke="#444" stroke-width="0.42" stroke-opacity="0.85"/>
<ellipse cx="646.80" cy="498.00" rx="6.38" ry="11.62" transform="rotate(5 646.80 498.00)" fill="#000" fill-opacity="0.01" stroke="#444" stroke-width="0.42" stroke-opacity="0.85"/>
<ellipse cx="646.80" cy="498.00" rx="5.31" ry="9.69" transform="rotate(5 646.80 498.00)" fill="#000" fill-opacity="0.01" stroke="#444" stroke-width="0.42" stroke-opacity="0.85"/>
<ellipse cx="646.80" cy="498.00" rx="4.25" ry="7.75" transform="rotate(5 646.80 498.00)" fill="#000" fill-opacity="0.01" stroke="#444" stroke-width="0.42" stroke-opacity="0.85"/>
<ellipse cx="647.50" cy="491.50" rx="4.50" ry="6.50" transform="rotate(5 647.50 491.50)" fill="#000" fill-opacity="0.02" stroke="#333" stroke-width="0.42" stroke-opacity="0.9"/>
<ellipse cx="647.50" cy="491.50" rx="3.73" ry="5.39" transform="rotate(5 647.50 491.50)" fill="#000" fill-opacity="0.02" stroke="#333" stroke-width="0.42" stroke-opacity="0.9"/>
<ellipse cx="647.50" cy="491.50" rx="2.97" ry="4.29" transform="rotate(5 647.50 491.50)" fill="#000" fill-opacity="0.02" stroke="#333" stroke-width="0.42" stroke-opacity="0.9"/>
<ellipse cx="647.50" cy="491.50" rx="2.21" ry="3.19" transform="rotate(5 647.50 491.50)" fill="#000" fill-opacity="0.02" stroke="#333" stroke-width="0.42" stroke-opacity="0.9"/>
<ellipse cx="647.50" cy="491.50" rx="1.44" ry="2.08" transform="rotate(5 647.50 491.50)" fill="#000" fill-opacity="0.02" stroke="#333" stroke-width="0.42" stroke-opacity="0.9"/>
<ellipse cx="647.50" cy="491.50" rx="0.68" ry="0.98" transform="rotate(5 647.50 491.50)" fill="#000" fill-opacity="0.02" stroke="#333" stroke-width="0.42" stroke-opacity="0.9"/>
<ellipse cx="646.50" cy="506.50" rx="5.50" ry="6.00" transform="rotate(10 646.50 506.50)" fill="#000" fill-opacity="0.03" stroke="#222" stroke-width="0.42" stroke-opacity="0.9"/>
<ellipse cx="646.50" cy="506.50" rx="4.69" ry="5.12" transform="rotate(10 646.50 506.50)" fill="#000" fill-opacity="0.03" stroke="#222" stroke-width="0.42" stroke-opacity="0.9"/>
<ellipse cx="646.50" cy="506.50" rx="3.89" ry="4.24" transform="rotate(10 646.50 506.50)" fill="#000" fill-opacity="0.03" stroke="#222" stroke-width="0.42" stroke-opacity="0.9"/>
<ellipse cx="646.50" cy="506.50" rx="3.08" ry="3.36" transform="rotate(10 646.50 506.50)" fill="#000" fill-opacity="0.03" stroke="#222" stroke-width="0.42" stroke-opacity="0.9"/>
<ellipse cx="646.50" cy="506.50" rx="2.27" ry="2.48" transform="rotate(10 646.50 506.50)" fill="#000" fill-opacity="0.03" stroke="#222" stroke-width="0.42" stroke-opacity="0.9"/>
<ellipse cx="646.50" cy="506.50" rx="1.47" ry="1.60" transform="rotate(10 646.50 506.50)" fill="#000" fill-opacity="0.03" stroke="#222" stroke-width="0.42" stroke-opacity="0.9"/>
<ellipse cx="646.50" cy="506.50" rx="0.66" ry="0.72" transform="rotate(10 646.50 506.50)" fill="#000" fill-opacity="0.03" stroke="#222" stroke-width="0.42" stroke-opacity="0.9"/>
<ellipse cx="396.00" cy="502.60" rx="4.60" ry="6.00" transform="rotate(10 396.00 502.60)" fill="none" stroke="#1a1a1a" stroke-width="0.5" stroke-opacity="0.9"/>
<ellipse cx="396.00" cy="502.60" rx="3.96" ry="5.16" transform="rotate(10 396.00 502.60)" fill="none" stroke="#1a1a1a" stroke-width="0.5" stroke-opacity="0.9"/>
<ellipse cx="396.00" cy="502.60" rx="3.31" ry="4.32" transform="rotate(10 396.00 502.60)" fill="none" stroke="#1a1a1a" stroke-width="0.5" stroke-opacity="0.9"/>
<ellipse cx="396.00" cy="502.60" rx="2.67" ry="3.48" transform="rotate(10 396.00 502.60)" fill="none" stroke="#1a1a1a" stroke-width="0.5" stroke-opacity="0.9"/>
<ellipse cx="396.00" cy="502.60" rx="2.02" ry="2.64" transform="rotate(10 396.00 502.60)" fill="none" stroke="#1a1a1a" stroke-width="0.5" stroke-opacity="0.9"/>
<ellipse cx="396.00" cy="502.60" rx="1.38" ry="1.80" transform="rotate(10 396.00 502.60)" fill="none" stroke="#1a1a1a" stroke-width="0.5" stroke-opacity="0.9"/>
<ellipse cx="466.00" cy="503.00" rx="5.80" ry="4.60" transform="rotate(-20 466.00 503.00)" fill="none" stroke="#1a1a1a" stroke-width="0.5" stroke-opacity="0.9"/>
<ellipse cx="466.00" cy="503.00" rx="4.99" ry="3.96" transform="rotate(-20 466.00 503.00)" fill="none" stroke="#1a1a1a" stroke-width="0.5" stroke-opacity="0.9"/>
<ellipse cx="466.00" cy="503.00" rx="4.18" ry="3.31" transform="rotate(-20 466.00 503.00)" fill="none" stroke="#1a1a1a" stroke-width="0.5" stroke-opacity="0.9"/>
<ellipse cx="466.00" cy="503.00" rx="3.36" ry="2.67" transform="rotate(-20 466.00 503.00)" fill="none" stroke="#1a1a1a" stroke-width="0.5" stroke-opacity="0.9"/>
<ellipse cx="466.00" cy="503.00" rx="2.55" ry="2.02" transform="rotate(-20 466.00 503.00)" fill="none" stroke="#1a1a1a" stroke-width="0.5" stroke-opacity="0.9"/>
<ellipse cx="466.00" cy="503.00" rx="1.74" ry="1.38" transform="rotate(-20 466.00 503.00)" fill="none" stroke="#1a1a1a" stroke-width="0.5" stroke-opacity="0.9"/>
<ellipse cx="528.30" cy="505.00" rx="4.60" ry="5.20" transform="rotate(5 528.30 505.00)" fill="none" stroke="#1a1a1a" stroke-width="0.5" stroke-opacity="0.9"/>
<ellipse cx="528.30" cy="505.00" rx="3.96" ry="4.47" transform="rotate(5 528.30 505.00)" fill="none" stroke="#1a1a1a" stroke-width="0.5" stroke-opacity="0.9"/>
<ellipse cx="528.30" cy="505.00" rx="3.31" ry="3.74" transform="rotate(5 528.30 505.00)" fill="none" stroke="#1a1a1a" stroke-width="0.5" stroke-opacity="0.9"/>
<ellipse cx="528.30" cy="505.00" rx="2.67" ry="3.02" transform="rotate(5 528.30 505.00)" fill="none" stroke="#1a1a1a" stroke-width="0.5" stroke-opacity="0.9"/>
<ellipse cx="528.30" cy="505.00" rx="2.02" ry="2.29" transform="rotate(5 528.30 505.00)" fill="none" stroke="#1a1a1a" stroke-width="0.5" stroke-opacity="0.9"/>
<ellipse cx="528.30" cy="505.00" rx="1.38" ry="1.56" transform="rotate(5 528.30 505.00)" fill="none" stroke="#1a1a1a" stroke-width="0.5" stroke-opacity="0.9"/>
<ellipse cx="590.40" cy="504.40" rx="6.20" ry="3.80" transform="rotate(-40 590.40 504.40)" fill="none" stroke="#1a1a1a" stroke-width="0.5" stroke-opacity="0.9"/>
<ellipse cx="590.40" cy="504.40" rx="5.33" ry="3.27" transform="rotate(-40 590.40 504.40)" fill="none" stroke="#1a1a1a" stroke-width="0.5" stroke-opacity="0.9"/>
<ellipse cx="590.40" cy="504.40" rx="4.46" ry="2.74" transform="rotate(-40 590.40 504.40)" fill="none" stroke="#1a1a1a" stroke-width="0.5" stroke-opacity="0.9"/>
<ellipse cx="590.40" cy="504.40" rx="3.60" ry="2.20" transform="rotate(-40 590.40 504.40)" fill="none" stroke="#1a1a1a" stroke-width="0.5" stroke-opacity="0.9"/>
<ellipse cx="590.40" cy="504.40" rx="2.73" ry="1.67" transform="rotate(-40 590.40 504.40)" fill="none" stroke="#1a1a1a" stroke-width="0.5" stroke-opacity="0.9"/>
<ellipse cx="590.40" cy="504.40" rx="1.86" ry="1.14" transform="rotate(-40 590.40 504.40)" fill="none" stroke="#1a1a1a" stroke-width="0.5" stroke-opacity="0.9"/>
<line x1="397.50" y1="463.00" x2="397.50" y2="518.60" stroke="#222" stroke-width="0.8"/>
<line x1="373.50" y1="495.50" x2="429.80" y2="495.50" stroke="#222" stroke-width="0.8"/>
<path d="M373.50,463.00 L429.80,463.00 L429.80,518.60" fill="none" stroke="#aaa" stroke-width="0.6"/>
<path d="M373.50,463.00 L373.50,518.60 L429.80,518.60" fill="none" stroke="#bbb" stroke-width="0.5"/>
<path d="M373.50,508.59L375.50,508.59M373.50,505.24L374.60,505.24M373.50,503.29L374.60,503.29M373.50,501.90L374.60,501.90M373.50,500.82L374.60,500.82M373.50,499.94L374.60,499.94M373.50,499.19L374.60,499.19M373.50,498.55L374.60,498.55M373.50,497.98L374.60,497.98M373.50,497.47L375.50,497.47M373.50,494.12L374.60,494.12M373.50,492.17L374.60,492.17M373.50,490.78L374.60,490.78M373.50,489.70L374.60,489.70M373.50,488.82L374.60,488.82M373.50,488.07L374.60,488.07M373.50,487.43L374.60,487.43M373.50,486.86L374.60,486.86M373.50,486.35L375.50,486.35M373.50,483.00L374.60,483.00M373.50,481.05L374.60,481.05M373.50,479.66L374.60,479.66M373.50,478.58L374.60,478.58M373.50,477.70L374.60,477.70M373.50,476.95L374.60,476.95M373.50,476.31L374.60,476.31M373.50,475.74L374.60,475.74M373.50,475.23L375.50,475.23M373.50,471.88L374.60,471.88M373.50,469.93L374.60,469.93M373.50,468.54L374.60,468.54M373.50,467.46L374.60,467.46M373.50,466.58L374.60,466.58M373.50,465.83L374.60,465.83M373.50,465.19L374.60,465.19M373.50,464.62L374.60,464.62M373.50,464.11L375.50,464.11M384.76,518.60L384.76,516.60M388.15,518.60L388.15,517.50M390.13,518.60L390.13,517.50M391.54,518.60L391.54,517.50M392.63,518.60L392.63,517.50M393.52,518.60L393.52,517.50M394.28,518.60L394.28,517.50M394.93,518.60L394.93,517.50M395.50,518.60L395.50,517.50M396.02,518.60L396.02,516.60M399.41,518.60L399.41,517.50M401.39,518.60L401.39,517.50M402.80,518.60L402.80,517.50M403.89,518.60L403.89,517.50M404.78,518.60L404.78,517.50M405.54,518.60L405.54,517.50M406.19,518.60L406.19,517.50M406.76,518.60L406.76,517.50M407.28,518.60L407.28,516.60M410.67,518.60L410.67,517.50M412.65,518.60L412.65,517.50M414.06,518.60L414.06,517.50M415.15,518.60L415.15,517.50M416.04,518.60L416.04,517.50M416.80,518.60L416.80,517.50M417.45,518.60L417.45,517.50M418.02,518.60L418.02,517.50M418.54,518.60L418.54,516.60M421.93,518.60L421.93,517.50M423.91,518.60L423.91,517.50M425.32,518.60L425.32,517.50M426.41,518.60L426.41,517.50M427.30,518.60L427.30,517.50M428.06,518.60L428.06,517.50M428.71,518.60L428.71,517.50M429.28,518.60L429.28,517.50M429.80,518.60L429.80,516.60" stroke="#444" stroke-width="0.5" fill="none"/>
<rect x="372.70" y="507.48" width="1.60" height="2.20" fill="#111" stroke="none" stroke-width="0.7"/>
<rect x="381.38" y="518.00" width="2.80" height="1.30" fill="#111" stroke="none" stroke-width="0.7"/>
<text x="374.90" y="471.20" font-size="6.7" font-weight="normal" fill="#000" text-anchor="start">5.19</text>
<text x="422.00" y="471.20" font-size="6.7" font-weight="normal" fill="#000" text-anchor="end">4.04</text>
<text x="374.90" y="513.60" font-size="6.7" font-weight="normal" fill="#000" text-anchor="start">59.0</text>
<text x="422.00" y="513.60" font-size="6.7" font-weight="normal" fill="#000" text-anchor="end">31.8</text>
<line x1="459.50" y1="463.00" x2="459.50" y2="518.60" stroke="#222" stroke-width="0.8"/>
<line x1="436.30" y1="499.50" x2="492.00" y2="499.50" stroke="#222" stroke-width="0.8"/>
<path d="M436.30,463.00 L492.00,463.00 L492.00,518.60" fill="none" stroke="#aaa" stroke-width="0.6"/>
<path d="M436.30,463.00 L436.30,518.60 L492.00,518.60" fill="none" stroke="#bbb" stroke-width="0.5"/>
<path d="M436.30,508.59L438.30,508.59M436.30,505.24L437.40,505.24M436.30,503.29L437.40,503.29M436.30,501.90L437.40,501.90M436.30,500.82L437.40,500.82M436.30,499.94L437.40,499.94M436.30,499.19L437.40,499.19M436.30,498.55L437.40,498.55M436.30,497.98L437.40,497.98M436.30,497.47L438.30,497.47M436.30,494.12L437.40,494.12M436.30,492.17L437.40,492.17M436.30,490.78L437.40,490.78M436.30,489.70L437.40,489.70M436.30,488.82L437.40,488.82M436.30,488.07L437.40,488.07M436.30,487.43L437.40,487.43M436.30,486.86L437.40,486.86M436.30,486.35L438.30,486.35M436.30,483.00L437.40,483.00M436.30,481.05L437.40,481.05M436.30,479.66L437.40,479.66M436.30,478.58L437.40,478.58M436.30,477.70L437.40,477.70M436.30,476.95L437.40,476.95M436.30,476.31L437.40,476.31M436.30,475.74L437.40,475.74M436.30,475.23L438.30,475.23M436.30,471.88L437.40,471.88M436.30,469.93L437.40,469.93M436.30,468.54L437.40,468.54M436.30,467.46L437.40,467.46M436.30,466.58L437.40,466.58M436.30,465.83L437.40,465.83M436.30,465.19L437.40,465.19M436.30,464.62L437.40,464.62M436.30,464.11L438.30,464.11M447.44,518.60L447.44,516.60M450.79,518.60L450.79,517.50M452.76,518.60L452.76,517.50M454.15,518.60L454.15,517.50M455.23,518.60L455.23,517.50M456.11,518.60L456.11,517.50M456.85,518.60L456.85,517.50M457.50,518.60L457.50,517.50M458.07,518.60L458.07,517.50M458.58,518.60L458.58,516.60M461.93,518.60L461.93,517.50M463.90,518.60L463.90,517.50M465.29,518.60L465.29,517.50M466.37,518.60L466.37,517.50M467.25,518.60L467.25,517.50M467.99,518.60L467.99,517.50M468.64,518.60L468.64,517.50M469.21,518.60L469.21,517.50M469.72,518.60L469.72,516.60M473.07,518.60L473.07,517.50M475.04,518.60L475.04,517.50M476.43,518.60L476.43,517.50M477.51,518.60L477.51,517.50M478.39,518.60L478.39,517.50M479.13,518.60L479.13,517.50M479.78,518.60L479.78,517.50M480.35,518.60L480.35,517.50M480.86,518.60L480.86,516.60M484.21,518.60L484.21,517.50M486.18,518.60L486.18,517.50M487.57,518.60L487.57,517.50M488.65,518.60L488.65,517.50M489.53,518.60L489.53,517.50M490.27,518.60L490.27,517.50M490.92,518.60L490.92,517.50M491.49,518.60L491.49,517.50M492.00,518.60L492.00,516.60" stroke="#444" stroke-width="0.5" fill="none"/>
<rect x="435.50" y="507.48" width="1.60" height="2.20" fill="#111" stroke="none" stroke-width="0.7"/>
<rect x="444.10" y="518.00" width="2.80" height="1.30" fill="#111" stroke="none" stroke-width="0.7"/>
<text x="437.70" y="471.20" font-size="6.7" font-weight="normal" fill="#000" text-anchor="start">0.67</text>
<text x="484.20" y="471.20" font-size="6.7" font-weight="normal" fill="#000" text-anchor="end">19.7</text>
<text x="437.70" y="513.60" font-size="6.7" font-weight="normal" fill="#000" text-anchor="start">9.04</text>
<text x="484.20" y="513.60" font-size="6.7" font-weight="normal" fill="#000" text-anchor="end">70.6</text>
<line x1="522.50" y1="463.40" x2="522.50" y2="518.40" stroke="#222" stroke-width="0.8"/>
<line x1="499.10" y1="499.50" x2="556.00" y2="499.50" stroke="#222" stroke-width="0.8"/>
<path d="M499.10,463.40 L556.00,463.40 L556.00,518.40" fill="none" stroke="#aaa" stroke-width="0.6"/>
<path d="M499.10,463.40 L499.10,518.40 L556.00,518.40" fill="none" stroke="#bbb" stroke-width="0.5"/>
<path d="M499.10,508.50L501.10,508.50M499.10,505.19L500.20,505.19M499.10,503.25L500.20,503.25M499.10,501.88L500.20,501.88M499.10,500.81L500.20,500.81M499.10,499.94L500.20,499.94M499.10,499.20L500.20,499.20M499.10,498.57L500.20,498.57M499.10,498.00L500.20,498.00M499.10,497.50L501.10,497.50M499.10,494.19L500.20,494.19M499.10,492.25L500.20,492.25M499.10,490.88L500.20,490.88M499.10,489.81L500.20,489.81M499.10,488.94L500.20,488.94M499.10,488.20L500.20,488.20M499.10,487.57L500.20,487.57M499.10,487.00L500.20,487.00M499.10,486.50L501.10,486.50M499.10,483.19L500.20,483.19M499.10,481.25L500.20,481.25M499.10,479.88L500.20,479.88M499.10,478.81L500.20,478.81M499.10,477.94L500.20,477.94M499.10,477.20L500.20,477.20M499.10,476.57L500.20,476.57M499.10,476.00L500.20,476.00M499.10,475.50L501.10,475.50M499.10,472.19L500.20,472.19M499.10,470.25L500.20,470.25M499.10,468.88L500.20,468.88M499.10,467.81L500.20,467.81M499.10,466.94L500.20,466.94M499.10,466.20L500.20,466.20M499.10,465.57L500.20,465.57M499.10,465.00L500.20,465.00M499.10,464.50L501.10,464.50M510.48,518.40L510.48,516.40M513.91,518.40L513.91,517.30M515.91,518.40L515.91,517.30M517.33,518.40L517.33,517.30M518.43,518.40L518.43,517.30M519.34,518.40L519.34,517.30M520.10,518.40L520.10,517.30M520.76,518.40L520.76,517.30M521.34,518.40L521.34,517.30M521.86,518.40L521.86,516.40M525.29,518.40L525.29,517.30M527.29,518.40L527.29,517.30M528.71,518.40L528.71,517.30M529.81,518.40L529.81,517.30M530.72,518.40L530.72,517.30M531.48,518.40L531.48,517.30M532.14,518.40L532.14,517.30M532.72,518.40L532.72,517.30M533.24,518.40L533.24,516.40M536.67,518.40L536.67,517.30M538.67,518.40L538.67,517.30M540.09,518.40L540.09,517.30M541.19,518.40L541.19,517.30M542.10,518.40L542.10,517.30M542.86,518.40L542.86,517.30M543.52,518.40L543.52,517.30M544.10,518.40L544.10,517.30M544.62,518.40L544.62,516.40M548.05,518.40L548.05,517.30M550.05,518.40L550.05,517.30M551.47,518.40L551.47,517.30M552.57,518.40L552.57,517.30M553.48,518.40L553.48,517.30M554.24,518.40L554.24,517.30M554.90,518.40L554.90,517.30M555.48,518.40L555.48,517.30M556.00,518.40L556.00,516.40" stroke="#444" stroke-width="0.5" fill="none"/>
<rect x="498.30" y="507.40" width="1.60" height="2.20" fill="#111" stroke="none" stroke-width="0.7"/>
<rect x="507.07" y="517.80" width="2.80" height="1.30" fill="#111" stroke="none" stroke-width="0.7"/>
<text x="500.50" y="471.20" font-size="6.7" font-weight="normal" fill="#000" text-anchor="start">1.72</text>
<text x="548.20" y="471.20" font-size="6.7" font-weight="normal" fill="#000" text-anchor="end">17.1</text>
<text x="500.50" y="513.60" font-size="6.7" font-weight="normal" fill="#000" text-anchor="start">9.26</text>
<text x="548.20" y="513.60" font-size="6.7" font-weight="normal" fill="#000" text-anchor="end">71.9</text>
<line x1="584.50" y1="463.40" x2="584.50" y2="518.40" stroke="#222" stroke-width="0.8"/>
<line x1="560.60" y1="499.50" x2="616.70" y2="499.50" stroke="#222" stroke-width="0.8"/>
<path d="M560.60,463.40 L616.70,463.40 L616.70,518.40" fill="none" stroke="#aaa" stroke-width="0.6"/>
<path d="M560.60,463.40 L560.60,518.40 L616.70,518.40" fill="none" stroke="#bbb" stroke-width="0.5"/>
<path d="M560.60,508.50L562.60,508.50M560.60,505.19L561.70,505.19M560.60,503.25L561.70,503.25M560.60,501.88L561.70,501.88M560.60,500.81L561.70,500.81M560.60,499.94L561.70,499.94M560.60,499.20L561.70,499.20M560.60,498.57L561.70,498.57M560.60,498.00L561.70,498.00M560.60,497.50L562.60,497.50M560.60,494.19L561.70,494.19M560.60,492.25L561.70,492.25M560.60,490.88L561.70,490.88M560.60,489.81L561.70,489.81M560.60,488.94L561.70,488.94M560.60,488.20L561.70,488.20M560.60,487.57L561.70,487.57M560.60,487.00L561.70,487.00M560.60,486.50L562.60,486.50M560.60,483.19L561.70,483.19M560.60,481.25L561.70,481.25M560.60,479.88L561.70,479.88M560.60,478.81L561.70,478.81M560.60,477.94L561.70,477.94M560.60,477.20L561.70,477.20M560.60,476.57L561.70,476.57M560.60,476.00L561.70,476.00M560.60,475.50L562.60,475.50M560.60,472.19L561.70,472.19M560.60,470.25L561.70,470.25M560.60,468.88L561.70,468.88M560.60,467.81L561.70,467.81M560.60,466.94L561.70,466.94M560.60,466.20L561.70,466.20M560.60,465.57L561.70,465.57M560.60,465.00L561.70,465.00M560.60,464.50L562.60,464.50M571.82,518.40L571.82,516.40M575.20,518.40L575.20,517.30M577.17,518.40L577.17,517.30M578.58,518.40L578.58,517.30M579.66,518.40L579.66,517.30M580.55,518.40L580.55,517.30M581.30,518.40L581.30,517.30M581.95,518.40L581.95,517.30M582.53,518.40L582.53,517.30M583.04,518.40L583.04,516.40M586.42,518.40L586.42,517.30M588.39,518.40L588.39,517.30M589.80,518.40L589.80,517.30M590.88,518.40L590.88,517.30M591.77,518.40L591.77,517.30M592.52,518.40L592.52,517.30M593.17,518.40L593.17,517.30M593.75,518.40L593.75,517.30M594.26,518.40L594.26,516.40M597.64,518.40L597.64,517.30M599.61,518.40L599.61,517.30M601.02,518.40L601.02,517.30M602.10,518.40L602.10,517.30M602.99,518.40L602.99,517.30M603.74,518.40L603.74,517.30M604.39,518.40L604.39,517.30M604.97,518.40L604.97,517.30M605.48,518.40L605.48,516.40M608.86,518.40L608.86,517.30M610.83,518.40L610.83,517.30M612.24,518.40L612.24,517.30M613.32,518.40L613.32,517.30M614.21,518.40L614.21,517.30M614.96,518.40L614.96,517.30M615.61,518.40L615.61,517.30M616.19,518.40L616.19,517.30M616.70,518.40L616.70,516.40" stroke="#444" stroke-width="0.5" fill="none"/>
<rect x="559.80" y="507.40" width="1.60" height="2.20" fill="#111" stroke="none" stroke-width="0.7"/>
<rect x="568.45" y="517.80" width="2.80" height="1.30" fill="#111" stroke="none" stroke-width="0.7"/>
<text x="562.00" y="471.20" font-size="6.7" font-weight="normal" fill="#000" text-anchor="start">0.17</text>
<text x="608.90" y="471.20" font-size="6.7" font-weight="normal" fill="#000" text-anchor="end">24.9</text>
<text x="562.00" y="513.60" font-size="6.7" font-weight="normal" fill="#000" text-anchor="start">8.67</text>
<text x="608.90" y="513.60" font-size="6.7" font-weight="normal" fill="#000" text-anchor="end">66.3</text>
<line x1="643.50" y1="463.40" x2="643.50" y2="518.40" stroke="#222" stroke-width="0.8"/>
<line x1="622.60" y1="499.50" x2="679.30" y2="499.50" stroke="#222" stroke-width="0.8"/>
<path d="M622.60,463.40 L679.30,463.40 L679.30,518.40" fill="none" stroke="#aaa" stroke-width="0.6"/>
<path d="M622.60,463.40 L622.60,518.40 L679.30,518.40" fill="none" stroke="#bbb" stroke-width="0.5"/>
<path d="M622.60,508.50L624.60,508.50M622.60,505.19L623.70,505.19M622.60,503.25L623.70,503.25M622.60,501.88L623.70,501.88M622.60,500.81L623.70,500.81M622.60,499.94L623.70,499.94M622.60,499.20L623.70,499.20M622.60,498.57L623.70,498.57M622.60,498.00L623.70,498.00M622.60,497.50L624.60,497.50M622.60,494.19L623.70,494.19M622.60,492.25L623.70,492.25M622.60,490.88L623.70,490.88M622.60,489.81L623.70,489.81M622.60,488.94L623.70,488.94M622.60,488.20L623.70,488.20M622.60,487.57L623.70,487.57M622.60,487.00L623.70,487.00M622.60,486.50L624.60,486.50M622.60,483.19L623.70,483.19M622.60,481.25L623.70,481.25M622.60,479.88L623.70,479.88M622.60,478.81L623.70,478.81M622.60,477.94L623.70,477.94M622.60,477.20L623.70,477.20M622.60,476.57L623.70,476.57M622.60,476.00L623.70,476.00M622.60,475.50L624.60,475.50M622.60,472.19L623.70,472.19M622.60,470.25L623.70,470.25M622.60,468.88L623.70,468.88M622.60,467.81L623.70,467.81M622.60,466.94L623.70,466.94M622.60,466.20L623.70,466.20M622.60,465.57L623.70,465.57M622.60,465.00L623.70,465.00M622.60,464.50L624.60,464.50M633.94,518.40L633.94,516.40M637.35,518.40L637.35,517.30M639.35,518.40L639.35,517.30M640.77,518.40L640.77,517.30M641.87,518.40L641.87,517.30M642.76,518.40L642.76,517.30M643.52,518.40L643.52,517.30M644.18,518.40L644.18,517.30M644.76,518.40L644.76,517.30M645.28,518.40L645.28,516.40M648.69,518.40L648.69,517.30M650.69,518.40L650.69,517.30M652.11,518.40L652.11,517.30M653.21,518.40L653.21,517.30M654.10,518.40L654.10,517.30M654.86,518.40L654.86,517.30M655.52,518.40L655.52,517.30M656.10,518.40L656.10,517.30M656.62,518.40L656.62,516.40M660.03,518.40L660.03,517.30M662.03,518.40L662.03,517.30M663.45,518.40L663.45,517.30M664.55,518.40L664.55,517.30M665.44,518.40L665.44,517.30M666.20,518.40L666.20,517.30M666.86,518.40L666.86,517.30M667.44,518.40L667.44,517.30M667.96,518.40L667.96,516.40M671.37,518.40L671.37,517.30M673.37,518.40L673.37,517.30M674.79,518.40L674.79,517.30M675.89,518.40L675.89,517.30M676.78,518.40L676.78,517.30M677.54,518.40L677.54,517.30M678.20,518.40L678.20,517.30M678.78,518.40L678.78,517.30M679.30,518.40L679.30,516.40" stroke="#444" stroke-width="0.5" fill="none"/>
<rect x="621.80" y="507.40" width="1.60" height="2.20" fill="#111" stroke="none" stroke-width="0.7"/>
<rect x="630.54" y="517.80" width="2.80" height="1.30" fill="#111" stroke="none" stroke-width="0.7"/>
<text x="624.00" y="471.20" font-size="6.7" font-weight="normal" fill="#000" text-anchor="start">3.40</text>
<text x="671.50" y="471.20" font-size="6.7" font-weight="normal" fill="#000" text-anchor="end">42.2</text>
<text x="624.00" y="513.60" font-size="6.7" font-weight="normal" fill="#000" text-anchor="start">8.23</text>
<text x="671.50" y="513.60" font-size="6.7" font-weight="normal" fill="#000" text-anchor="end">46.2</text>
<line x1="368.50" y1="464.70" x2="368.50" y2="492.00" stroke="#000" stroke-width="1.4"/>
<text x="371.30" y="508.00" font-size="7.2" font-weight="normal" fill="#1e1e1e" text-anchor="middle" transform="rotate(-90 371.3 508.0)">CD62L</text>
<text x="374.30" y="527.60" font-size="7.3" font-weight="normal" fill="#1e1e1e" text-anchor="start">CD45RA</text>
<line x1="407.50" y1="523.60" x2="680.00" y2="523.60" stroke="#000" stroke-width="1.3"/>
<text x="680.60" y="531.80" font-size="6.1" font-weight="normal" fill="#1e1e1e" text-anchor="end">BM - pregated on EGFRt<tspan font-size="5.4" dy="-2.8">+</tspan></text>
<text x="370.00" y="607.40" font-size="7.6" font-weight="normal" fill="#1e1e1e" text-anchor="middle" transform="rotate(-90 370.0 607.4)">% of EGFRt<tspan font-size="5.8" dy="-3.2">+</tspan></text>
<line x1="382.50" y1="648.20" x2="385.90" y2="648.20" stroke="#333" stroke-width="0.9"/>
<text x="382.30" y="648.50" font-size="6.8" font-weight="normal" fill="#1e1e1e" text-anchor="end">0</text>
<line x1="382.50" y1="634.36" x2="385.90" y2="634.36" stroke="#333" stroke-width="0.9"/>
<text x="382.30" y="634.66" font-size="6.8" font-weight="normal" fill="#1e1e1e" text-anchor="end">20</text>
<line x1="382.50" y1="620.52" x2="385.90" y2="620.52" stroke="#333" stroke-width="0.9"/>
<text x="382.30" y="620.82" font-size="6.8" font-weight="normal" fill="#1e1e1e" text-anchor="end">40</text>
<line x1="382.50" y1="606.68" x2="385.90" y2="606.68" stroke="#333" stroke-width="0.9"/>
<text x="382.30" y="606.98" font-size="6.8" font-weight="normal" fill="#1e1e1e" text-anchor="end">60</text>
<line x1="382.50" y1="592.84" x2="385.90" y2="592.84" stroke="#333" stroke-width="0.9"/>
<text x="382.30" y="593.14" font-size="6.8" font-weight="normal" fill="#1e1e1e" text-anchor="end">80</text>
<line x1="382.50" y1="579.00" x2="385.90" y2="579.00" stroke="#333" stroke-width="0.9"/>
<text x="382.30" y="579.30" font-size="6.8" font-weight="normal" fill="#1e1e1e" text-anchor="end">100</text>
<line x1="385.90" y1="578.60" x2="385.90" y2="648.20" stroke="#444" stroke-width="1.0"/>
<line x1="385.90" y1="648.20" x2="530.50" y2="648.20" stroke="#444" stroke-width="1.0"/>
<line x1="537.80" y1="648.20" x2="541.40" y2="648.20" stroke="#333" stroke-width="0.9"/>
<line x1="537.80" y1="634.36" x2="541.40" y2="634.36" stroke="#333" stroke-width="0.9"/>
<line x1="537.80" y1="620.52" x2="541.40" y2="620.52" stroke="#333" stroke-width="0.9"/>
<line x1="537.80" y1="606.68" x2="541.40" y2="606.68" stroke="#333" stroke-width="0.9"/>
<line x1="537.80" y1="592.84" x2="541.40" y2="592.84" stroke="#333" stroke-width="0.9"/>
<line x1="537.80" y1="579.00" x2="541.40" y2="579.00" stroke="#333" stroke-width="0.9"/>
<line x1="541.40" y1="578.60" x2="541.40" y2="648.20" stroke="#444" stroke-width="1.0"/>
<line x1="541.40" y1="648.20" x2="683.50" y2="648.20" stroke="#444" stroke-width="1.0"/>
<text x="459.60" y="557.20" font-size="8.0" font-weight="normal" fill="#1a1a1a" text-anchor="middle">BM</text>
<text x="608.70" y="557.20" font-size="8.0" font-weight="normal" fill="#1a1a1a" text-anchor="middle">spleen</text>
<rect x="388.60" y="646.82" width="4.90" height="1.38" fill="#1c6399" stroke="#2a2a2a" stroke-width="0.6"/>
<rect x="395.05" y="634.71" width="4.90" height="13.49" fill="#bddff2" stroke="#2a2a2a" stroke-width="0.6"/>
<rect x="401.50" y="636.44" width="4.90" height="11.76" fill="#037a37" stroke="#2a2a2a" stroke-width="0.6"/>
<rect x="407.95" y="633.25" width="4.90" height="14.95" fill="#79ad8b" stroke="#2a2a2a" stroke-width="0.6"/>
<rect x="414.40" y="621.90" width="4.90" height="26.30" fill="#c0d9c9" stroke="#2a2a2a" stroke-width="0.6"/>
<line x1="391.05" y1="646.82" x2="391.05" y2="645.78" stroke="#111" stroke-width="0.7"/>
<line x1="389.67" y1="645.78" x2="392.43" y2="645.78" stroke="#111" stroke-width="0.7"/>
<circle cx="391.65" cy="647.85" r="0.85" fill="#111" stroke="none" stroke-width="0.5"/>
<circle cx="391.42" cy="646.95" r="0.85" fill="#111" stroke="none" stroke-width="0.5"/>
<circle cx="390.19" cy="646.03" r="0.85" fill="#111" stroke="none" stroke-width="0.5"/>
<circle cx="390.73" cy="646.22" r="0.85" fill="#111" stroke="none" stroke-width="0.5"/>
<circle cx="390.98" cy="646.14" r="0.85" fill="#111" stroke="none" stroke-width="0.5"/>
<circle cx="391.12" cy="647.01" r="0.85" fill="#111" stroke="none" stroke-width="0.5"/>
<circle cx="392.08" cy="645.94" r="0.85" fill="#111" stroke="none" stroke-width="0.5"/>
<line x1="397.50" y1="634.71" x2="397.50" y2="625.02" stroke="#111" stroke-width="0.7"/>
<line x1="396.12" y1="625.02" x2="398.88" y2="625.02" stroke="#111" stroke-width="0.7"/>
<circle cx="398.14" cy="633.94" r="0.85" fill="#111" stroke="none" stroke-width="0.5"/>
<circle cx="396.55" cy="644.47" r="0.85" fill="#111" stroke="none" stroke-width="0.5"/>
<circle cx="398.06" cy="635.73" r="0.85" fill="#111" stroke="none" stroke-width="0.5"/>
<circle cx="398.28" cy="645.22" r="0.85" fill="#111" stroke="none" stroke-width="0.5"/>
<circle cx="396.62" cy="624.64" r="0.85" fill="#111" stroke="none" stroke-width="0.5"/>
<circle cx="398.37" cy="624.31" r="0.85" fill="#111" stroke="none" stroke-width="0.5"/>
<circle cx="398.12" cy="638.53" r="0.85" fill="#111" stroke="none" stroke-width="0.5"/>
<line x1="403.95" y1="636.44" x2="403.95" y2="632.28" stroke="#111" stroke-width="0.7"/>
<line x1="402.57" y1="632.28" x2="405.33" y2="632.28" stroke="#111" stroke-width="0.7"/>
<circle cx="404.00" cy="638.28" r="0.85" fill="#111" stroke="none" stroke-width="0.5"/>
<circle cx="403.78" cy="633.84" r="0.85" fill="#111" stroke="none" stroke-width="0.5"/>
<circle cx="403.35" cy="639.30" r="0.85" fill="#111" stroke="none" stroke-width="0.5"/>
<circle cx="403.15" cy="639.55" r="0.85" fill="#111" stroke="none" stroke-width="0.5"/>
<circle cx="403.92" cy="639.45" r="0.85" fill="#111" stroke="none" stroke-width="0.5"/>
<circle cx="404.22" cy="637.92" r="0.85" fill="#111" stroke="none" stroke-width="0.5"/>
<circle cx="404.21" cy="635.21" r="0.85" fill="#111" stroke="none" stroke-width="0.5"/>
<line x1="410.40" y1="633.25" x2="410.40" y2="624.26" stroke="#111" stroke-width="0.7"/>
<line x1="409.02" y1="624.26" x2="411.78" y2="624.26" stroke="#111" stroke-width="0.7"/>
<circle cx="410.39" cy="622.48" r="0.85" fill="#111" stroke="none" stroke-width="0.5"/>
<circle cx="410.10" cy="639.98" r="0.85" fill="#111" stroke="none" stroke-width="0.5"/>
<circle cx="410.88" cy="622.65" r="0.85" fill="#111" stroke="none" stroke-width="0.5"/>
<circle cx="410.29" cy="631.96" r="0.85" fill="#111" stroke="none" stroke-width="0.5"/>
<circle cx="410.30" cy="623.93" r="0.85" fill="#111" stroke="none" stroke-width="0.5"/>
<circle cx="409.38" cy="625.86" r="0.85" fill="#111" stroke="none" stroke-width="0.5"/>
<circle cx="410.04" cy="641.15" r="0.85" fill="#111" stroke="none" stroke-width="0.5"/>
<line x1="416.85" y1="621.90" x2="416.85" y2="619.14" stroke="#111" stroke-width="0.7"/>
<line x1="415.47" y1="619.14" x2="418.23" y2="619.14" stroke="#111" stroke-width="0.7"/>
<circle cx="416.68" cy="620.75" r="0.85" fill="#111" stroke="none" stroke-width="0.5"/>
<circle cx="417.88" cy="624.82" r="0.85" fill="#111" stroke="none" stroke-width="0.5"/>
<circle cx="417.09" cy="625.74" r="0.85" fill="#111" stroke="none" stroke-width="0.5"/>
<circle cx="417.27" cy="622.71" r="0.85" fill="#111" stroke="none" stroke-width="0.5"/>
<circle cx="416.87" cy="619.78" r="0.85" fill="#111" stroke="none" stroke-width="0.5"/>
<circle cx="416.18" cy="621.39" r="0.85" fill="#111" stroke="none" stroke-width="0.5"/>
<circle cx="417.56" cy="624.29" r="0.85" fill="#111" stroke="none" stroke-width="0.5"/>
<line x1="403.95" y1="648.20" x2="403.95" y2="650.80" stroke="#333" stroke-width="0.8"/>
<text x="402.95" y="657.60" font-size="8.0" font-weight="normal" fill="#1a1a1a" text-anchor="middle">T<tspan font-size="4.6" dy="2.4">SCM</tspan></text>
<rect x="425.20" y="645.43" width="4.90" height="2.77" fill="#1c6399" stroke="#2a2a2a" stroke-width="0.6"/>
<rect x="431.65" y="646.12" width="4.90" height="2.08" fill="#bddff2" stroke="#2a2a2a" stroke-width="0.6"/>
<rect x="438.10" y="646.47" width="4.90" height="1.73" fill="#037a37" stroke="#2a2a2a" stroke-width="0.6"/>
<rect x="444.55" y="646.47" width="4.90" height="1.73" fill="#79ad8b" stroke="#2a2a2a" stroke-width="0.6"/>
<rect x="451.00" y="645.43" width="4.90" height="2.77" fill="#c0d9c9" stroke="#2a2a2a" stroke-width="0.6"/>
<line x1="427.65" y1="645.43" x2="427.65" y2="644.39" stroke="#111" stroke-width="0.7"/>
<line x1="426.27" y1="644.39" x2="429.03" y2="644.39" stroke="#111" stroke-width="0.7"/>
<circle cx="428.02" cy="645.20" r="0.85" fill="#111" stroke="none" stroke-width="0.5"/>
<circle cx="428.42" cy="646.32" r="0.85" fill="#111" stroke="none" stroke-width="0.5"/>
<circle cx="427.10" cy="644.08" r="0.85" fill="#111" stroke="none" stroke-width="0.5"/>
<circle cx="426.75" cy="644.20" r="0.85" fill="#111" stroke="none" stroke-width="0.5"/>
<circle cx="427.51" cy="645.53" r="0.85" fill="#111" stroke="none" stroke-width="0.5"/>
<circle cx="426.93" cy="644.96" r="0.85" fill="#111" stroke="none" stroke-width="0.5"/>
<circle cx="427.51" cy="646.26" r="0.85" fill="#111" stroke="none" stroke-width="0.5"/>
<line x1="434.10" y1="646.12" x2="434.10" y2="645.09" stroke="#111" stroke-width="0.7"/>
<line x1="432.72" y1="645.09" x2="435.48" y2="645.09" stroke="#111" stroke-width="0.7"/>
<circle cx="433.81" cy="646.66" r="0.85" fill="#111" stroke="none" stroke-width="0.5"/>
<circle cx="433.09" cy="646.53" r="0.85" fill="#111" stroke="none" stroke-width="0.5"/>
<circle cx="433.40" cy="645.75" r="0.85" fill="#111" stroke="none" stroke-width="0.5"/>
<circle cx="433.98" cy="646.68" r="0.85" fill="#111" stroke="none" stroke-width="0.5"/>
<circle cx="434.71" cy="645.21" r="0.85" fill="#111" stroke="none" stroke-width="0.5"/>
<circle cx="433.98" cy="646.96" r="0.85" fill="#111" stroke="none" stroke-width="0.5"/>
<circle cx="434.11" cy="646.72" r="0.85" fill="#111" stroke="none" stroke-width="0.5"/>
<line x1="440.55" y1="646.47" x2="440.55" y2="645.78" stroke="#111" stroke-width="0.7"/>
<line x1="439.17" y1="645.78" x2="441.93" y2="645.78" stroke="#111" stroke-width="0.7"/>
<circle cx="440.20" cy="647.27" r="0.85" fill="#111" stroke="none" stroke-width="0.5"/>
<circle cx="439.78" cy="645.95" r="0.85" fill="#111" stroke="none" stroke-width="0.5"/>
<circle cx="439.92" cy="646.73" r="0.85" fill="#111" stroke="none" stroke-width="0.5"/>
<circle cx="439.54" cy="646.52" r="0.85" fill="#111" stroke="none" stroke-width="0.5"/>
<circle cx="440.02" cy="646.81" r="0.85" fill="#111" stroke="none" stroke-width="0.5"/>
<circle cx="441.31" cy="646.20" r="0.85" fill="#111" stroke="none" stroke-width="0.5"/>
<circle cx="440.62" cy="646.66" r="0.85" fill="#111" stroke="none" stroke-width="0.5"/>
<line x1="447.00" y1="646.47" x2="447.00" y2="645.43" stroke="#111" stroke-width="0.7"/>
<line x1="445.62" y1="645.43" x2="448.38" y2="645.43" stroke="#111" stroke-width="0.7"/>
<circle cx="447.87" cy="647.04" r="0.85" fill="#111" stroke="none" stroke-width="0.5"/>
<circle cx="447.57" cy="646.61" r="0.85" fill="#111" stroke="none" stroke-width="0.5"/>
<circle cx="447.41" cy="646.85" r="0.85" fill="#111" stroke="none" stroke-width="0.5"/>
<circle cx="447.49" cy="647.22" r="0.85" fill="#111" stroke="none" stroke-width="0.5"/>
<circle cx="447.72" cy="645.84" r="0.85" fill="#111" stroke="none" stroke-width="0.5"/>
<circle cx="447.43" cy="646.12" r="0.85" fill="#111" stroke="none" stroke-width="0.5"/>
<circle cx="447.15" cy="646.15" r="0.85" fill="#111" stroke="none" stroke-width="0.5"/>
<line x1="453.45" y1="645.43" x2="453.45" y2="643.36" stroke="#111" stroke-width="0.7"/>
<line x1="452.07" y1="643.36" x2="454.83" y2="643.36" stroke="#111" stroke-width="0.7"/>
<circle cx="453.48" cy="643.95" r="0.85" fill="#111" stroke="none" stroke-width="0.5"/>
<circle cx="452.89" cy="645.84" r="0.85" fill="#111" stroke="none" stroke-width="0.5"/>
<circle cx="452.45" cy="645.90" r="0.85" fill="#111" stroke="none" stroke-width="0.5"/>
<circle cx="453.30" cy="645.73" r="0.85" fill="#111" stroke="none" stroke-width="0.5"/>
<circle cx="454.47" cy="645.80" r="0.85" fill="#111" stroke="none" stroke-width="0.5"/>
<circle cx="453.71" cy="644.78" r="0.85" fill="#111" stroke="none" stroke-width="0.5"/>
<circle cx="453.38" cy="647.34" r="0.85" fill="#111" stroke="none" stroke-width="0.5"/>
<line x1="440.55" y1="648.20" x2="440.55" y2="650.80" stroke="#333" stroke-width="0.8"/>
<text x="439.55" y="657.60" font-size="8.0" font-weight="normal" fill="#1a1a1a" text-anchor="middle">T<tspan font-size="4.6" dy="2.4">CM</tspan></text>
<rect x="461.80" y="603.91" width="4.90" height="44.29" fill="#1c6399" stroke="#2a2a2a" stroke-width="0.6"/>
<rect x="468.25" y="639.20" width="4.90" height="9.00" fill="#bddff2" stroke="#2a2a2a" stroke-width="0.6"/>
<rect x="474.70" y="638.51" width="4.90" height="9.69" fill="#037a37" stroke="#2a2a2a" stroke-width="0.6"/>
<rect x="481.15" y="639.90" width="4.90" height="8.30" fill="#79ad8b" stroke="#2a2a2a" stroke-width="0.6"/>
<rect x="487.60" y="643.36" width="4.90" height="4.84" fill="#c0d9c9" stroke="#2a2a2a" stroke-width="0.6"/>
<line x1="464.25" y1="603.91" x2="464.25" y2="598.38" stroke="#111" stroke-width="0.7"/>
<line x1="462.87" y1="598.38" x2="465.63" y2="598.38" stroke="#111" stroke-width="0.7"/>
<circle cx="463.41" cy="608.68" r="0.85" fill="#111" stroke="none" stroke-width="0.5"/>
<circle cx="464.17" cy="602.34" r="0.85" fill="#111" stroke="none" stroke-width="0.5"/>
<circle cx="464.05" cy="608.39" r="0.85" fill="#111" stroke="none" stroke-width="0.5"/>
<circle cx="463.56" cy="601.03" r="0.85" fill="#111" stroke="none" stroke-width="0.5"/>
<circle cx="464.85" cy="602.45" r="0.85" fill="#111" stroke="none" stroke-width="0.5"/>
<circle cx="464.47" cy="605.48" r="0.85" fill="#111" stroke="none" stroke-width="0.5"/>
<circle cx="463.96" cy="602.32" r="0.85" fill="#111" stroke="none" stroke-width="0.5"/>
<line x1="470.70" y1="639.20" x2="470.70" y2="632.98" stroke="#111" stroke-width="0.7"/>
<line x1="469.32" y1="632.98" x2="472.08" y2="632.98" stroke="#111" stroke-width="0.7"/>
<circle cx="470.77" cy="638.18" r="0.85" fill="#111" stroke="none" stroke-width="0.5"/>
<circle cx="470.01" cy="646.28" r="0.85" fill="#111" stroke="none" stroke-width="0.5"/>
<circle cx="470.15" cy="638.74" r="0.85" fill="#111" stroke="none" stroke-width="0.5"/>
<circle cx="470.17" cy="637.35" r="0.85" fill="#111" stroke="none" stroke-width="0.5"/>
<circle cx="470.50" cy="638.90" r="0.85" fill="#111" stroke="none" stroke-width="0.5"/>
<circle cx="470.55" cy="633.32" r="0.85" fill="#111" stroke="none" stroke-width="0.5"/>
<circle cx="470.50" cy="635.56" r="0.85" fill="#111" stroke="none" stroke-width="0.5"/>
<line x1="477.15" y1="638.51" x2="477.15" y2="631.59" stroke="#111" stroke-width="0.7"/>
<line x1="475.77" y1="631.59" x2="478.53" y2="631.59" stroke="#111" stroke-width="0.7"/>
<circle cx="476.36" cy="640.42" r="0.85" fill="#111" stroke="none" stroke-width="0.5"/>
<circle cx="478.08" cy="642.75" r="0.85" fill="#111" stroke="none" stroke-width="0.5"/>
<circle cx="476.85" cy="644.28" r="0.85" fill="#111" stroke="none" stroke-width="0.5"/>
<circle cx="477.83" cy="633.70" r="0.85" fill="#111" stroke="none" stroke-width="0.5"/>
<circle cx="477.25" cy="635.57" r="0.85" fill="#111" stroke="none" stroke-width="0.5"/>
<circle cx="477.50" cy="636.82" r="0.85" fill="#111" stroke="none" stroke-width="0.5"/>
<circle cx="477.62" cy="639.42" r="0.85" fill="#111" stroke="none" stroke-width="0.5"/>
<line x1="483.60" y1="639.90" x2="483.60" y2="634.36" stroke="#111" stroke-width="0.7"/>
<line x1="482.22" y1="634.36" x2="484.98" y2="634.36" stroke="#111" stroke-width="0.7"/>
<circle cx="483.58" cy="639.88" r="0.85" fill="#111" stroke="none" stroke-width="0.5"/>
<circle cx="483.50" cy="644.20" r="0.85" fill="#111" stroke="none" stroke-width="0.5"/>
<circle cx="484.67" cy="639.42" r="0.85" fill="#111" stroke="none" stroke-width="0.5"/>
<circle cx="483.43" cy="645.39" r="0.85" fill="#111" stroke="none" stroke-width="0.5"/>
<circle cx="482.53" cy="638.02" r="0.85" fill="#111" stroke="none" stroke-width="0.5"/>
<circle cx="484.56" cy="637.88" r="0.85" fill="#111" stroke="none" stroke-width="0.5"/>
<circle cx="483.43" cy="637.26" r="0.85" fill="#111" stroke="none" stroke-width="0.5"/>
<line x1="490.05" y1="643.36" x2="490.05" y2="642.66" stroke="#111" stroke-width="0.7"/>
<line x1="488.67" y1="642.66" x2="491.43" y2="642.66" stroke="#111" stroke-width="0.7"/>
<circle cx="490.69" cy="644.34" r="0.85" fill="#111" stroke="none" stroke-width="0.5"/>
<circle cx="490.01" cy="644.94" r="0.85" fill="#111" stroke="none" stroke-width="0.5"/>
<circle cx="489.81" cy="644.00" r="0.85" fill="#111" stroke="none" stroke-width="0.5"/>
<circle cx="490.76" cy="642.63" r="0.85" fill="#111" stroke="none" stroke-width="0.5"/>
<circle cx="490.85" cy="643.32" r="0.85" fill="#111" stroke="none" stroke-width="0.5"/>
<circle cx="489.19" cy="642.40" r="0.85" fill="#111" stroke="none" stroke-width="0.5"/>
<circle cx="490.08" cy="643.62" r="0.85" fill="#111" stroke="none" stroke-width="0.5"/>
<line x1="477.15" y1="648.20" x2="477.15" y2="650.80" stroke="#333" stroke-width="0.8"/>
<text x="476.15" y="657.60" font-size="8.0" font-weight="normal" fill="#1a1a1a" text-anchor="middle">T<tspan font-size="4.6" dy="2.4">EM</tspan></text>
<rect x="498.40" y="629.52" width="4.90" height="18.68" fill="#1c6399" stroke="#2a2a2a" stroke-width="0.6"/>
<rect x="504.85" y="604.60" width="4.90" height="43.60" fill="#bddff2" stroke="#2a2a2a" stroke-width="0.6"/>
<rect x="511.30" y="602.53" width="4.90" height="45.67" fill="#037a37" stroke="#2a2a2a" stroke-width="0.6"/>
<rect x="517.75" y="603.22" width="4.90" height="44.98" fill="#79ad8b" stroke="#2a2a2a" stroke-width="0.6"/>
<rect x="524.20" y="613.60" width="4.90" height="34.60" fill="#c0d9c9" stroke="#2a2a2a" stroke-width="0.6"/>
<line x1="500.85" y1="629.52" x2="500.85" y2="624.67" stroke="#111" stroke-width="0.7"/>
<line x1="499.47" y1="624.67" x2="502.23" y2="624.67" stroke="#111" stroke-width="0.7"/>
<circle cx="501.84" cy="622.09" r="0.85" fill="#111" stroke="none" stroke-width="0.5"/>
<circle cx="500.69" cy="630.19" r="0.85" fill="#111" stroke="none" stroke-width="0.5"/>
<circle cx="501.06" cy="626.12" r="0.85" fill="#111" stroke="none" stroke-width="0.5"/>
<circle cx="501.18" cy="625.88" r="0.85" fill="#111" stroke="none" stroke-width="0.5"/>
<circle cx="500.18" cy="633.94" r="0.85" fill="#111" stroke="none" stroke-width="0.5"/>
<circle cx="501.82" cy="636.06" r="0.85" fill="#111" stroke="none" stroke-width="0.5"/>
<circle cx="501.80" cy="627.92" r="0.85" fill="#111" stroke="none" stroke-width="0.5"/>
<line x1="507.30" y1="604.60" x2="507.30" y2="597.68" stroke="#111" stroke-width="0.7"/>
<line x1="505.92" y1="597.68" x2="508.68" y2="597.68" stroke="#111" stroke-width="0.7"/>
<circle cx="507.73" cy="613.39" r="0.85" fill="#111" stroke="none" stroke-width="0.5"/>
<circle cx="507.41" cy="607.34" r="0.85" fill="#111" stroke="none" stroke-width="0.5"/>
<circle cx="508.31" cy="595.54" r="0.85" fill="#111" stroke="none" stroke-width="0.5"/>
<circle cx="508.05" cy="595.95" r="0.85" fill="#111" stroke="none" stroke-width="0.5"/>
<circle cx="506.90" cy="613.47" r="0.85" fill="#111" stroke="none" stroke-width="0.5"/>
<circle cx="506.32" cy="614.32" r="0.85" fill="#111" stroke="none" stroke-width="0.5"/>
<circle cx="507.96" cy="611.06" r="0.85" fill="#111" stroke="none" stroke-width="0.5"/>
<line x1="513.75" y1="602.53" x2="513.75" y2="599.07" stroke="#111" stroke-width="0.7"/>
<line x1="512.37" y1="599.07" x2="515.13" y2="599.07" stroke="#111" stroke-width="0.7"/>
<circle cx="513.51" cy="599.99" r="0.85" fill="#111" stroke="none" stroke-width="0.5"/>
<circle cx="513.85" cy="606.21" r="0.85" fill="#111" stroke="none" stroke-width="0.5"/>
<circle cx="514.36" cy="604.66" r="0.85" fill="#111" stroke="none" stroke-width="0.5"/>
<circle cx="513.40" cy="605.57" r="0.85" fill="#111" stroke="none" stroke-width="0.5"/>
<circle cx="513.66" cy="605.41" r="0.85" fill="#111" stroke="none" stroke-width="0.5"/>
<circle cx="514.22" cy="602.35" r="0.85" fill="#111" stroke="none" stroke-width="0.5"/>
<circle cx="512.79" cy="604.98" r="0.85" fill="#111" stroke="none" stroke-width="0.5"/>
<line x1="520.20" y1="603.22" x2="520.20" y2="599.76" stroke="#111" stroke-width="0.7"/>
<line x1="518.82" y1="599.76" x2="521.58" y2="599.76" stroke="#111" stroke-width="0.7"/>
<circle cx="521.19" cy="603.92" r="0.85" fill="#111" stroke="none" stroke-width="0.5"/>
<circle cx="519.57" cy="601.41" r="0.85" fill="#111" stroke="none" stroke-width="0.5"/>
<circle cx="519.71" cy="601.49" r="0.85" fill="#111" stroke="none" stroke-width="0.5"/>
<circle cx="521.07" cy="603.88" r="0.85" fill="#111" stroke="none" stroke-width="0.5"/>
<circle cx="519.27" cy="601.00" r="0.85" fill="#111" stroke="none" stroke-width="0.5"/>
<circle cx="519.29" cy="602.66" r="0.85" fill="#111" stroke="none" stroke-width="0.5"/>
<circle cx="520.64" cy="600.69" r="0.85" fill="#111" stroke="none" stroke-width="0.5"/>
<line x1="526.65" y1="613.60" x2="526.65" y2="610.14" stroke="#111" stroke-width="0.7"/>
<line x1="525.27" y1="610.14" x2="528.03" y2="610.14" stroke="#111" stroke-width="0.7"/>
<circle cx="527.35" cy="616.03" r="0.85" fill="#111" stroke="none" stroke-width="0.5"/>
<circle cx="526.93" cy="614.87" r="0.85" fill="#111" stroke="none" stroke-width="0.5"/>
<circle cx="525.75" cy="612.82" r="0.85" fill="#111" stroke="none" stroke-width="0.5"/>
<circle cx="526.41" cy="609.28" r="0.85" fill="#111" stroke="none" stroke-width="0.5"/>
<circle cx="526.07" cy="612.45" r="0.85" fill="#111" stroke="none" stroke-width="0.5"/>
<circle cx="526.39" cy="613.85" r="0.85" fill="#111" stroke="none" stroke-width="0.5"/>
<circle cx="527.72" cy="616.01" r="0.85" fill="#111" stroke="none" stroke-width="0.5"/>
<line x1="513.75" y1="648.20" x2="513.75" y2="650.80" stroke="#333" stroke-width="0.8"/>
<text x="512.75" y="657.60" font-size="8.0" font-weight="normal" fill="#1a1a1a" text-anchor="middle">T<tspan font-size="4.6" dy="2.4">EFF</tspan></text>
<rect x="543.30" y="645.43" width="4.90" height="2.77" fill="#1c6399" stroke="#2a2a2a" stroke-width="0.6"/>
<rect x="549.75" y="644.74" width="4.90" height="3.46" fill="#bddff2" stroke="#2a2a2a" stroke-width="0.6"/>
<rect x="556.20" y="643.36" width="4.90" height="4.84" fill="#037a37" stroke="#2a2a2a" stroke-width="0.6"/>
<rect x="562.65" y="643.36" width="4.90" height="4.84" fill="#79ad8b" stroke="#2a2a2a" stroke-width="0.6"/>
<rect x="569.10" y="642.32" width="4.90" height="5.88" fill="#c0d9c9" stroke="#2a2a2a" stroke-width="0.6"/>
<line x1="545.75" y1="645.43" x2="545.75" y2="641.97" stroke="#111" stroke-width="0.7"/>
<line x1="544.37" y1="641.97" x2="547.13" y2="641.97" stroke="#111" stroke-width="0.7"/>
<circle cx="545.64" cy="647.85" r="0.85" fill="#111" stroke="none" stroke-width="0.5"/>
<circle cx="546.71" cy="647.16" r="0.85" fill="#111" stroke="none" stroke-width="0.5"/>
<circle cx="545.69" cy="644.22" r="0.85" fill="#111" stroke="none" stroke-width="0.5"/>
<circle cx="546.33" cy="647.51" r="0.85" fill="#111" stroke="none" stroke-width="0.5"/>
<circle cx="546.38" cy="643.34" r="0.85" fill="#111" stroke="none" stroke-width="0.5"/>
<circle cx="546.69" cy="646.79" r="0.85" fill="#111" stroke="none" stroke-width="0.5"/>
<circle cx="545.22" cy="647.85" r="0.85" fill="#111" stroke="none" stroke-width="0.5"/>
<line x1="552.20" y1="644.74" x2="552.20" y2="643.36" stroke="#111" stroke-width="0.7"/>
<line x1="550.82" y1="643.36" x2="553.58" y2="643.36" stroke="#111" stroke-width="0.7"/>
<circle cx="552.39" cy="644.97" r="0.85" fill="#111" stroke="none" stroke-width="0.5"/>
<circle cx="551.90" cy="646.03" r="0.85" fill="#111" stroke="none" stroke-width="0.5"/>
<circle cx="551.24" cy="646.61" r="0.85" fill="#111" stroke="none" stroke-width="0.5"/>
<circle cx="552.53" cy="645.60" r="0.85" fill="#111" stroke="none" stroke-width="0.5"/>
<circle cx="553.17" cy="644.90" r="0.85" fill="#111" stroke="none" stroke-width="0.5"/>
<circle cx="552.40" cy="645.93" r="0.85" fill="#111" stroke="none" stroke-width="0.5"/>
<circle cx="552.35" cy="643.37" r="0.85" fill="#111" stroke="none" stroke-width="0.5"/>
<line x1="558.65" y1="643.36" x2="558.65" y2="641.97" stroke="#111" stroke-width="0.7"/>
<line x1="557.27" y1="641.97" x2="560.03" y2="641.97" stroke="#111" stroke-width="0.7"/>
<circle cx="559.14" cy="644.13" r="0.85" fill="#111" stroke="none" stroke-width="0.5"/>
<circle cx="558.65" cy="642.58" r="0.85" fill="#111" stroke="none" stroke-width="0.5"/>
<circle cx="559.25" cy="643.93" r="0.85" fill="#111" stroke="none" stroke-width="0.5"/>
<circle cx="558.79" cy="644.90" r="0.85" fill="#111" stroke="none" stroke-width="0.5"/>
<circle cx="559.47" cy="643.61" r="0.85" fill="#111" stroke="none" stroke-width="0.5"/>
<circle cx="559.48" cy="642.64" r="0.85" fill="#111" stroke="none" stroke-width="0.5"/>
<circle cx="558.86" cy="643.41" r="0.85" fill="#111" stroke="none" stroke-width="0.5"/>
<line x1="565.10" y1="643.36" x2="565.10" y2="641.97" stroke="#111" stroke-width="0.7"/>
<line x1="563.72" y1="641.97" x2="566.48" y2="641.97" stroke="#111" stroke-width="0.7"/>
<circle cx="564.27" cy="642.80" r="0.85" fill="#111" stroke="none" stroke-width="0.5"/>
<circle cx="566.10" cy="644.82" r="0.85" fill="#111" stroke="none" stroke-width="0.5"/>
<circle cx="565.52" cy="644.75" r="0.85" fill="#111" stroke="none" stroke-width="0.5"/>
<circle cx="564.63" cy="644.79" r="0.85" fill="#111" stroke="none" stroke-width="0.5"/>
<circle cx="565.46" cy="643.39" r="0.85" fill="#111" stroke="none" stroke-width="0.5"/>
<circle cx="565.73" cy="641.96" r="0.85" fill="#111" stroke="none" stroke-width="0.5"/>
<circle cx="565.75" cy="643.81" r="0.85" fill="#111" stroke="none" stroke-width="0.5"/>
<line x1="571.55" y1="642.32" x2="571.55" y2="640.24" stroke="#111" stroke-width="0.7"/>
<line x1="570.17" y1="640.24" x2="572.93" y2="640.24" stroke="#111" stroke-width="0.7"/>
<circle cx="571.60" cy="640.46" r="0.85" fill="#111" stroke="none" stroke-width="0.5"/>
<circle cx="572.17" cy="644.58" r="0.85" fill="#111" stroke="none" stroke-width="0.5"/>
<circle cx="570.92" cy="643.91" r="0.85" fill="#111" stroke="none" stroke-width="0.5"/>
<circle cx="571.27" cy="641.31" r="0.85" fill="#111" stroke="none" stroke-width="0.5"/>
<circle cx="571.91" cy="640.66" r="0.85" fill="#111" stroke="none" stroke-width="0.5"/>
<circle cx="571.79" cy="640.61" r="0.85" fill="#111" stroke="none" stroke-width="0.5"/>
<circle cx="571.77" cy="644.38" r="0.85" fill="#111" stroke="none" stroke-width="0.5"/>
<line x1="558.65" y1="648.20" x2="558.65" y2="650.80" stroke="#333" stroke-width="0.8"/>
<text x="557.65" y="657.60" font-size="8.0" font-weight="normal" fill="#1a1a1a" text-anchor="middle">T<tspan font-size="4.6" dy="2.4">SCM</tspan></text>
<rect x="579.60" y="633.32" width="4.90" height="14.88" fill="#1c6399" stroke="#2a2a2a" stroke-width="0.6"/>
<rect x="586.05" y="635.05" width="4.90" height="13.15" fill="#bddff2" stroke="#2a2a2a" stroke-width="0.6"/>
<rect x="592.50" y="633.67" width="4.90" height="14.53" fill="#037a37" stroke="#2a2a2a" stroke-width="0.6"/>
<rect x="598.95" y="635.74" width="4.90" height="12.46" fill="#79ad8b" stroke="#2a2a2a" stroke-width="0.6"/>
<rect x="605.40" y="623.98" width="4.90" height="24.22" fill="#c0d9c9" stroke="#2a2a2a" stroke-width="0.6"/>
<line x1="582.05" y1="633.32" x2="582.05" y2="630.55" stroke="#111" stroke-width="0.7"/>
<line x1="580.67" y1="630.55" x2="583.43" y2="630.55" stroke="#111" stroke-width="0.7"/>
<circle cx="581.27" cy="637.52" r="0.85" fill="#111" stroke="none" stroke-width="0.5"/>
<circle cx="582.02" cy="635.01" r="0.85" fill="#111" stroke="none" stroke-width="0.5"/>
<circle cx="581.46" cy="638.13" r="0.85" fill="#111" stroke="none" stroke-width="0.5"/>
<circle cx="582.15" cy="635.43" r="0.85" fill="#111" stroke="none" stroke-width="0.5"/>
<circle cx="581.94" cy="630.87" r="0.85" fill="#111" stroke="none" stroke-width="0.5"/>
<circle cx="583.07" cy="631.44" r="0.85" fill="#111" stroke="none" stroke-width="0.5"/>
<circle cx="581.53" cy="633.61" r="0.85" fill="#111" stroke="none" stroke-width="0.5"/>
<line x1="588.50" y1="635.05" x2="588.50" y2="632.28" stroke="#111" stroke-width="0.7"/>
<line x1="587.12" y1="632.28" x2="589.88" y2="632.28" stroke="#111" stroke-width="0.7"/>
<circle cx="588.54" cy="633.09" r="0.85" fill="#111" stroke="none" stroke-width="0.5"/>
<circle cx="589.38" cy="635.43" r="0.85" fill="#111" stroke="none" stroke-width="0.5"/>
<circle cx="587.96" cy="632.23" r="0.85" fill="#111" stroke="none" stroke-width="0.5"/>
<circle cx="588.09" cy="634.20" r="0.85" fill="#111" stroke="none" stroke-width="0.5"/>
<circle cx="588.06" cy="637.85" r="0.85" fill="#111" stroke="none" stroke-width="0.5"/>
<circle cx="587.54" cy="634.53" r="0.85" fill="#111" stroke="none" stroke-width="0.5"/>
<circle cx="588.20" cy="635.23" r="0.85" fill="#111" stroke="none" stroke-width="0.5"/>
<line x1="594.95" y1="633.67" x2="594.95" y2="629.52" stroke="#111" stroke-width="0.7"/>
<line x1="593.57" y1="629.52" x2="596.33" y2="629.52" stroke="#111" stroke-width="0.7"/>
<circle cx="594.08" cy="633.32" r="0.85" fill="#111" stroke="none" stroke-width="0.5"/>
<circle cx="594.66" cy="636.43" r="0.85" fill="#111" stroke="none" stroke-width="0.5"/>
<circle cx="594.58" cy="631.78" r="0.85" fill="#111" stroke="none" stroke-width="0.5"/>
<circle cx="593.89" cy="636.68" r="0.85" fill="#111" stroke="none" stroke-width="0.5"/>
<circle cx="595.68" cy="635.61" r="0.85" fill="#111" stroke="none" stroke-width="0.5"/>
<circle cx="595.22" cy="636.19" r="0.85" fill="#111" stroke="none" stroke-width="0.5"/>
<circle cx="595.82" cy="635.93" r="0.85" fill="#111" stroke="none" stroke-width="0.5"/>
<line x1="601.40" y1="635.74" x2="601.40" y2="632.98" stroke="#111" stroke-width="0.7"/>
<line x1="600.02" y1="632.98" x2="602.78" y2="632.98" stroke="#111" stroke-width="0.7"/>
<circle cx="601.24" cy="638.22" r="0.85" fill="#111" stroke="none" stroke-width="0.5"/>
<circle cx="600.43" cy="633.78" r="0.85" fill="#111" stroke="none" stroke-width="0.5"/>
<circle cx="601.19" cy="634.46" r="0.85" fill="#111" stroke="none" stroke-width="0.5"/>
<circle cx="602.26" cy="639.38" r="0.85" fill="#111" stroke="none" stroke-width="0.5"/>
<circle cx="601.95" cy="635.16" r="0.85" fill="#111" stroke="none" stroke-width="0.5"/>
<circle cx="601.16" cy="639.01" r="0.85" fill="#111" stroke="none" stroke-width="0.5"/>
<circle cx="601.43" cy="634.63" r="0.85" fill="#111" stroke="none" stroke-width="0.5"/>
<line x1="607.85" y1="623.98" x2="607.85" y2="619.83" stroke="#111" stroke-width="0.7"/>
<line x1="606.47" y1="619.83" x2="609.23" y2="619.83" stroke="#111" stroke-width="0.7"/>
<circle cx="607.45" cy="625.06" r="0.85" fill="#111" stroke="none" stroke-width="0.5"/>
<circle cx="607.63" cy="623.53" r="0.85" fill="#111" stroke="none" stroke-width="0.5"/>
<circle cx="608.75" cy="620.94" r="0.85" fill="#111" stroke="none" stroke-width="0.5"/>
<circle cx="608.80" cy="620.74" r="0.85" fill="#111" stroke="none" stroke-width="0.5"/>
<circle cx="607.69" cy="621.86" r="0.85" fill="#111" stroke="none" stroke-width="0.5"/>
<circle cx="608.26" cy="626.38" r="0.85" fill="#111" stroke="none" stroke-width="0.5"/>
<circle cx="606.82" cy="628.69" r="0.85" fill="#111" stroke="none" stroke-width="0.5"/>
<line x1="594.95" y1="648.20" x2="594.95" y2="650.80" stroke="#333" stroke-width="0.8"/>
<text x="593.95" y="657.60" font-size="8.0" font-weight="normal" fill="#1a1a1a" text-anchor="middle">T<tspan font-size="4.6" dy="2.4">CM</tspan></text>
<rect x="615.90" y="600.11" width="4.90" height="48.09" fill="#1c6399" stroke="#2a2a2a" stroke-width="0.6"/>
<rect x="622.35" y="601.84" width="4.90" height="46.36" fill="#bddff2" stroke="#2a2a2a" stroke-width="0.6"/>
<rect x="628.80" y="605.30" width="4.90" height="42.90" fill="#037a37" stroke="#2a2a2a" stroke-width="0.6"/>
<rect x="635.25" y="606.68" width="4.90" height="41.52" fill="#79ad8b" stroke="#2a2a2a" stroke-width="0.6"/>
<rect x="641.70" y="612.91" width="4.90" height="35.29" fill="#c0d9c9" stroke="#2a2a2a" stroke-width="0.6"/>
<line x1="618.35" y1="600.11" x2="618.35" y2="595.95" stroke="#111" stroke-width="0.7"/>
<line x1="616.97" y1="595.95" x2="619.73" y2="595.95" stroke="#111" stroke-width="0.7"/>
<circle cx="618.61" cy="596.02" r="0.85" fill="#111" stroke="none" stroke-width="0.5"/>
<circle cx="617.65" cy="597.86" r="0.85" fill="#111" stroke="none" stroke-width="0.5"/>
<circle cx="618.93" cy="601.51" r="0.85" fill="#111" stroke="none" stroke-width="0.5"/>
<circle cx="619.31" cy="604.79" r="0.85" fill="#111" stroke="none" stroke-width="0.5"/>
<circle cx="618.29" cy="597.37" r="0.85" fill="#111" stroke="none" stroke-width="0.5"/>
<circle cx="619.28" cy="592.83" r="0.85" fill="#111" stroke="none" stroke-width="0.5"/>
<circle cx="618.44" cy="601.23" r="0.85" fill="#111" stroke="none" stroke-width="0.5"/>
<line x1="624.80" y1="601.84" x2="624.80" y2="599.07" stroke="#111" stroke-width="0.7"/>
<line x1="623.42" y1="599.07" x2="626.18" y2="599.07" stroke="#111" stroke-width="0.7"/>
<circle cx="625.53" cy="599.12" r="0.85" fill="#111" stroke="none" stroke-width="0.5"/>
<circle cx="625.57" cy="605.43" r="0.85" fill="#111" stroke="none" stroke-width="0.5"/>
<circle cx="624.90" cy="601.62" r="0.85" fill="#111" stroke="none" stroke-width="0.5"/>
<circle cx="624.26" cy="604.15" r="0.85" fill="#111" stroke="none" stroke-width="0.5"/>
<circle cx="625.09" cy="601.88" r="0.85" fill="#111" stroke="none" stroke-width="0.5"/>
<circle cx="625.82" cy="600.97" r="0.85" fill="#111" stroke="none" stroke-width="0.5"/>
<circle cx="624.74" cy="599.08" r="0.85" fill="#111" stroke="none" stroke-width="0.5"/>
<line x1="631.25" y1="605.30" x2="631.25" y2="602.53" stroke="#111" stroke-width="0.7"/>
<line x1="629.87" y1="602.53" x2="632.63" y2="602.53" stroke="#111" stroke-width="0.7"/>
<circle cx="631.32" cy="605.07" r="0.85" fill="#111" stroke="none" stroke-width="0.5"/>
<circle cx="631.13" cy="601.72" r="0.85" fill="#111" stroke="none" stroke-width="0.5"/>
<circle cx="630.84" cy="606.97" r="0.85" fill="#111" stroke="none" stroke-width="0.5"/>
<circle cx="630.30" cy="608.90" r="0.85" fill="#111" stroke="none" stroke-width="0.5"/>
<circle cx="631.86" cy="605.64" r="0.85" fill="#111" stroke="none" stroke-width="0.5"/>
<circle cx="632.29" cy="603.21" r="0.85" fill="#111" stroke="none" stroke-width="0.5"/>
<circle cx="631.06" cy="603.28" r="0.85" fill="#111" stroke="none" stroke-width="0.5"/>
<line x1="637.70" y1="606.68" x2="637.70" y2="604.60" stroke="#111" stroke-width="0.7"/>
<line x1="636.32" y1="604.60" x2="639.08" y2="604.60" stroke="#111" stroke-width="0.7"/>
<circle cx="637.45" cy="610.27" r="0.85" fill="#111" stroke="none" stroke-width="0.5"/>
<circle cx="638.72" cy="608.63" r="0.85" fill="#111" stroke="none" stroke-width="0.5"/>
<circle cx="638.44" cy="608.58" r="0.85" fill="#111" stroke="none" stroke-width="0.5"/>
<circle cx="637.31" cy="606.90" r="0.85" fill="#111" stroke="none" stroke-width="0.5"/>
<circle cx="637.85" cy="603.88" r="0.85" fill="#111" stroke="none" stroke-width="0.5"/>
<circle cx="637.35" cy="608.46" r="0.85" fill="#111" stroke="none" stroke-width="0.5"/>
<circle cx="636.84" cy="610.20" r="0.85" fill="#111" stroke="none" stroke-width="0.5"/>
<line x1="644.15" y1="612.91" x2="644.15" y2="608.76" stroke="#111" stroke-width="0.7"/>
<line x1="642.77" y1="608.76" x2="645.53" y2="608.76" stroke="#111" stroke-width="0.7"/>
<circle cx="644.09" cy="607.51" r="0.85" fill="#111" stroke="none" stroke-width="0.5"/>
<circle cx="644.64" cy="607.90" r="0.85" fill="#111" stroke="none" stroke-width="0.5"/>
<circle cx="643.73" cy="609.24" r="0.85" fill="#111" stroke="none" stroke-width="0.5"/>
<circle cx="644.99" cy="619.16" r="0.85" fill="#111" stroke="none" stroke-width="0.5"/>
<circle cx="643.96" cy="616.15" r="0.85" fill="#111" stroke="none" stroke-width="0.5"/>
<circle cx="644.62" cy="617.29" r="0.85" fill="#111" stroke="none" stroke-width="0.5"/>
<circle cx="643.64" cy="607.28" r="0.85" fill="#111" stroke="none" stroke-width="0.5"/>
<line x1="631.25" y1="648.20" x2="631.25" y2="650.80" stroke="#333" stroke-width="0.8"/>
<text x="630.25" y="657.60" font-size="8.0" font-weight="normal" fill="#1a1a1a" text-anchor="middle">T<tspan font-size="4.6" dy="2.4">EM</tspan></text>
<rect x="652.20" y="645.43" width="4.90" height="2.77" fill="#1c6399" stroke="#2a2a2a" stroke-width="0.6"/>
<rect x="658.65" y="640.93" width="4.90" height="7.27" fill="#bddff2" stroke="#2a2a2a" stroke-width="0.6"/>
<rect x="665.10" y="637.13" width="4.90" height="11.07" fill="#037a37" stroke="#2a2a2a" stroke-width="0.6"/>
<rect x="671.55" y="637.13" width="4.90" height="11.07" fill="#79ad8b" stroke="#2a2a2a" stroke-width="0.6"/>
<rect x="678.00" y="644.74" width="4.90" height="3.46" fill="#c0d9c9" stroke="#2a2a2a" stroke-width="0.6"/>
<line x1="654.65" y1="645.43" x2="654.65" y2="643.36" stroke="#111" stroke-width="0.7"/>
<line x1="653.27" y1="643.36" x2="656.03" y2="643.36" stroke="#111" stroke-width="0.7"/>
<circle cx="654.19" cy="647.02" r="0.85" fill="#111" stroke="none" stroke-width="0.5"/>
<circle cx="654.37" cy="644.11" r="0.85" fill="#111" stroke="none" stroke-width="0.5"/>
<circle cx="654.65" cy="645.04" r="0.85" fill="#111" stroke="none" stroke-width="0.5"/>
<circle cx="654.58" cy="646.55" r="0.85" fill="#111" stroke="none" stroke-width="0.5"/>
<circle cx="654.56" cy="644.35" r="0.85" fill="#111" stroke="none" stroke-width="0.5"/>
<circle cx="654.51" cy="645.07" r="0.85" fill="#111" stroke="none" stroke-width="0.5"/>
<circle cx="655.36" cy="644.16" r="0.85" fill="#111" stroke="none" stroke-width="0.5"/>
<line x1="661.10" y1="640.93" x2="661.10" y2="638.86" stroke="#111" stroke-width="0.7"/>
<line x1="659.72" y1="638.86" x2="662.48" y2="638.86" stroke="#111" stroke-width="0.7"/>
<circle cx="661.45" cy="640.28" r="0.85" fill="#111" stroke="none" stroke-width="0.5"/>
<circle cx="660.74" cy="639.64" r="0.85" fill="#111" stroke="none" stroke-width="0.5"/>
<circle cx="661.69" cy="639.34" r="0.85" fill="#111" stroke="none" stroke-width="0.5"/>
<circle cx="661.71" cy="641.84" r="0.85" fill="#111" stroke="none" stroke-width="0.5"/>
<circle cx="660.98" cy="643.28" r="0.85" fill="#111" stroke="none" stroke-width="0.5"/>
<circle cx="661.27" cy="638.62" r="0.85" fill="#111" stroke="none" stroke-width="0.5"/>
<circle cx="660.50" cy="643.16" r="0.85" fill="#111" stroke="none" stroke-width="0.5"/>
<line x1="667.55" y1="637.13" x2="667.55" y2="635.74" stroke="#111" stroke-width="0.7"/>
<line x1="666.17" y1="635.74" x2="668.93" y2="635.74" stroke="#111" stroke-width="0.7"/>
<circle cx="668.26" cy="636.80" r="0.85" fill="#111" stroke="none" stroke-width="0.5"/>
<circle cx="667.73" cy="634.27" r="0.85" fill="#111" stroke="none" stroke-width="0.5"/>
<circle cx="668.17" cy="638.00" r="0.85" fill="#111" stroke="none" stroke-width="0.5"/>
<circle cx="667.89" cy="638.51" r="0.85" fill="#111" stroke="none" stroke-width="0.5"/>
<circle cx="667.47" cy="637.81" r="0.85" fill="#111" stroke="none" stroke-width="0.5"/>
<circle cx="668.17" cy="638.86" r="0.85" fill="#111" stroke="none" stroke-width="0.5"/>
<circle cx="666.96" cy="635.68" r="0.85" fill="#111" stroke="none" stroke-width="0.5"/>
<line x1="674.00" y1="637.13" x2="674.00" y2="635.05" stroke="#111" stroke-width="0.7"/>
<line x1="672.62" y1="635.05" x2="675.38" y2="635.05" stroke="#111" stroke-width="0.7"/>
<circle cx="673.81" cy="638.30" r="0.85" fill="#111" stroke="none" stroke-width="0.5"/>
<circle cx="674.98" cy="639.61" r="0.85" fill="#111" stroke="none" stroke-width="0.5"/>
<circle cx="673.77" cy="636.57" r="0.85" fill="#111" stroke="none" stroke-width="0.5"/>
<circle cx="674.13" cy="638.53" r="0.85" fill="#111" stroke="none" stroke-width="0.5"/>
<circle cx="673.33" cy="638.99" r="0.85" fill="#111" stroke="none" stroke-width="0.5"/>
<circle cx="673.81" cy="639.94" r="0.85" fill="#111" stroke="none" stroke-width="0.5"/>
<circle cx="673.71" cy="635.16" r="0.85" fill="#111" stroke="none" stroke-width="0.5"/>
<line x1="680.45" y1="644.74" x2="680.45" y2="644.05" stroke="#111" stroke-width="0.7"/>
<line x1="679.07" y1="644.05" x2="681.83" y2="644.05" stroke="#111" stroke-width="0.7"/>
<circle cx="679.54" cy="644.98" r="0.85" fill="#111" stroke="none" stroke-width="0.5"/>
<circle cx="680.15" cy="644.55" r="0.85" fill="#111" stroke="none" stroke-width="0.5"/>
<circle cx="681.11" cy="644.78" r="0.85" fill="#111" stroke="none" stroke-width="0.5"/>
<circle cx="679.48" cy="644.02" r="0.85" fill="#111" stroke="none" stroke-width="0.5"/>
<circle cx="679.63" cy="645.58" r="0.85" fill="#111" stroke="none" stroke-width="0.5"/>
<circle cx="680.04" cy="644.48" r="0.85" fill="#111" stroke="none" stroke-width="0.5"/>
<circle cx="679.79" cy="644.10" r="0.85" fill="#111" stroke="none" stroke-width="0.5"/>
<line x1="667.55" y1="648.20" x2="667.55" y2="650.80" stroke="#333" stroke-width="0.8"/>
<text x="666.55" y="657.60" font-size="8.0" font-weight="normal" fill="#1a1a1a" text-anchor="middle">T<tspan font-size="4.6" dy="2.4">EFF</tspan></text>
<path d="M391.05,641.00 L391.05,612.00 L397.50,612.00 L397.50,613.50" fill="none" stroke="#333" stroke-width="0.7"/>
<text x="398.90" y="610.60" font-size="5.0" font-weight="normal" fill="#222" text-anchor="middle"><tspan font-style="italic">p</tspan> = 0.0005</text>
<path d="M391.05,612.00 L391.05,604.60 L403.95,604.60 L403.95,606.60" fill="none" stroke="#333" stroke-width="0.7"/>
<text x="398.90" y="603.10" font-size="5.0" font-weight="normal" fill="#222" text-anchor="middle"><tspan font-style="italic">p</tspan> = 0.0029</text>
<path d="M391.05,604.60 L391.05,597.50 L410.40,597.50 L410.40,599.40" fill="none" stroke="#333" stroke-width="0.7"/>
<text x="400.40" y="596.00" font-size="5.0" font-weight="normal" fill="#222" text-anchor="middle"><tspan font-style="italic">p</tspan> &lt; 0.0001</text>
<path d="M391.05,597.50 L391.05,589.10 L416.85,589.10 L416.85,616.60" fill="none" stroke="#333" stroke-width="0.7"/>
<text x="404.20" y="587.60" font-size="5.0" font-weight="normal" fill="#222" text-anchor="middle"><tspan font-style="italic">p</tspan> &lt; 0.0001</text>
<path d="M464.25,596.00 L464.25,590.00 L470.70,590.00 L470.70,625.00" fill="none" stroke="#333" stroke-width="0.7"/>
<text x="470.50" y="588.60" font-size="5.0" font-weight="normal" fill="#222" text-anchor="middle"><tspan font-style="italic">p</tspan> &lt; 0.0001</text>
<path d="M464.25,590.00 L464.25,583.80 L477.15,583.80 L477.15,626.00" fill="none" stroke="#333" stroke-width="0.7"/>
<text x="472.00" y="582.40" font-size="5.0" font-weight="normal" fill="#222" text-anchor="middle"><tspan font-style="italic">p</tspan> = 0.0001</text>
<path d="M464.25,583.80 L464.25,576.80 L483.60,576.80 L483.60,628.00" fill="none" stroke="#333" stroke-width="0.7"/>
<text x="474.00" y="575.40" font-size="5.0" font-weight="normal" fill="#222" text-anchor="middle"><tspan font-style="italic">p</tspan> &lt; 0.0001</text>
<path d="M464.25,576.80 L464.25,569.00 L490.05,569.00 L490.05,641.00" fill="none" stroke="#333" stroke-width="0.7"/>
<text x="476.00" y="567.60" font-size="5.0" font-weight="normal" fill="#222" text-anchor="middle"><tspan font-style="italic">p</tspan> &lt; 0.0001</text>
<path d="M500.85,615.00 L500.85,586.50 L507.30,586.50 L507.30,592.00" fill="none" stroke="#333" stroke-width="0.7"/>
<text x="507.50" y="585.00" font-size="5.0" font-weight="normal" fill="#222" text-anchor="middle"><tspan font-style="italic">p</tspan> &lt; 0.0001</text>
<path d="M500.85,586.50 L500.85,579.00 L513.75,579.00 L513.75,597.50" fill="none" stroke="#333" stroke-width="0.7"/>
<text x="509.50" y="577.50" font-size="5.0" font-weight="normal" fill="#222" text-anchor="middle"><tspan font-style="italic">p</tspan> &lt; 0.0001</text>
<path d="M500.85,579.00 L500.85,570.50 L520.20,570.50 L520.20,598.00" fill="none" stroke="#333" stroke-width="0.7"/>
<text x="511.50" y="569.00" font-size="5.0" font-weight="normal" fill="#222" text-anchor="middle"><tspan font-style="italic">p</tspan> &lt; 0.0001</text>
<path d="M500.85,570.50 L500.85,562.50 L526.65,562.50 L526.65,605.00" fill="none" stroke="#333" stroke-width="0.7"/>
<text x="513.50" y="561.00" font-size="5.0" font-weight="normal" fill="#222" text-anchor="middle"><tspan font-style="italic">p</tspan> &lt; 0.0001</text>
<path d="M582.05,626.80 L582.05,611.80 L607.85,611.80 L607.85,617.80" fill="none" stroke="#333" stroke-width="0.7"/>
<text x="595.20" y="610.30" font-size="5.0" font-weight="normal" fill="#222" text-anchor="middle"><tspan font-style="italic">p</tspan> = 0.0018</text>
<path d="M618.35,592.00 L618.35,584.30 L644.15,584.30 L644.15,605.00" fill="none" stroke="#333" stroke-width="0.7"/>
<text x="631.10" y="582.80" font-size="5.0" font-weight="normal" fill="#222" text-anchor="middle"><tspan font-style="italic">p</tspan> = 0.0018</text>
<path d="M654.65,640.00 L654.65,627.40 L674.00,627.40 L674.00,633.50" fill="none" stroke="#333" stroke-width="0.7"/>
<text x="665.60" y="626.00" font-size="5.0" font-weight="normal" fill="#222" text-anchor="middle"><tspan font-style="italic">p</tspan> = 0.0080</text>
</svg></body></html>
